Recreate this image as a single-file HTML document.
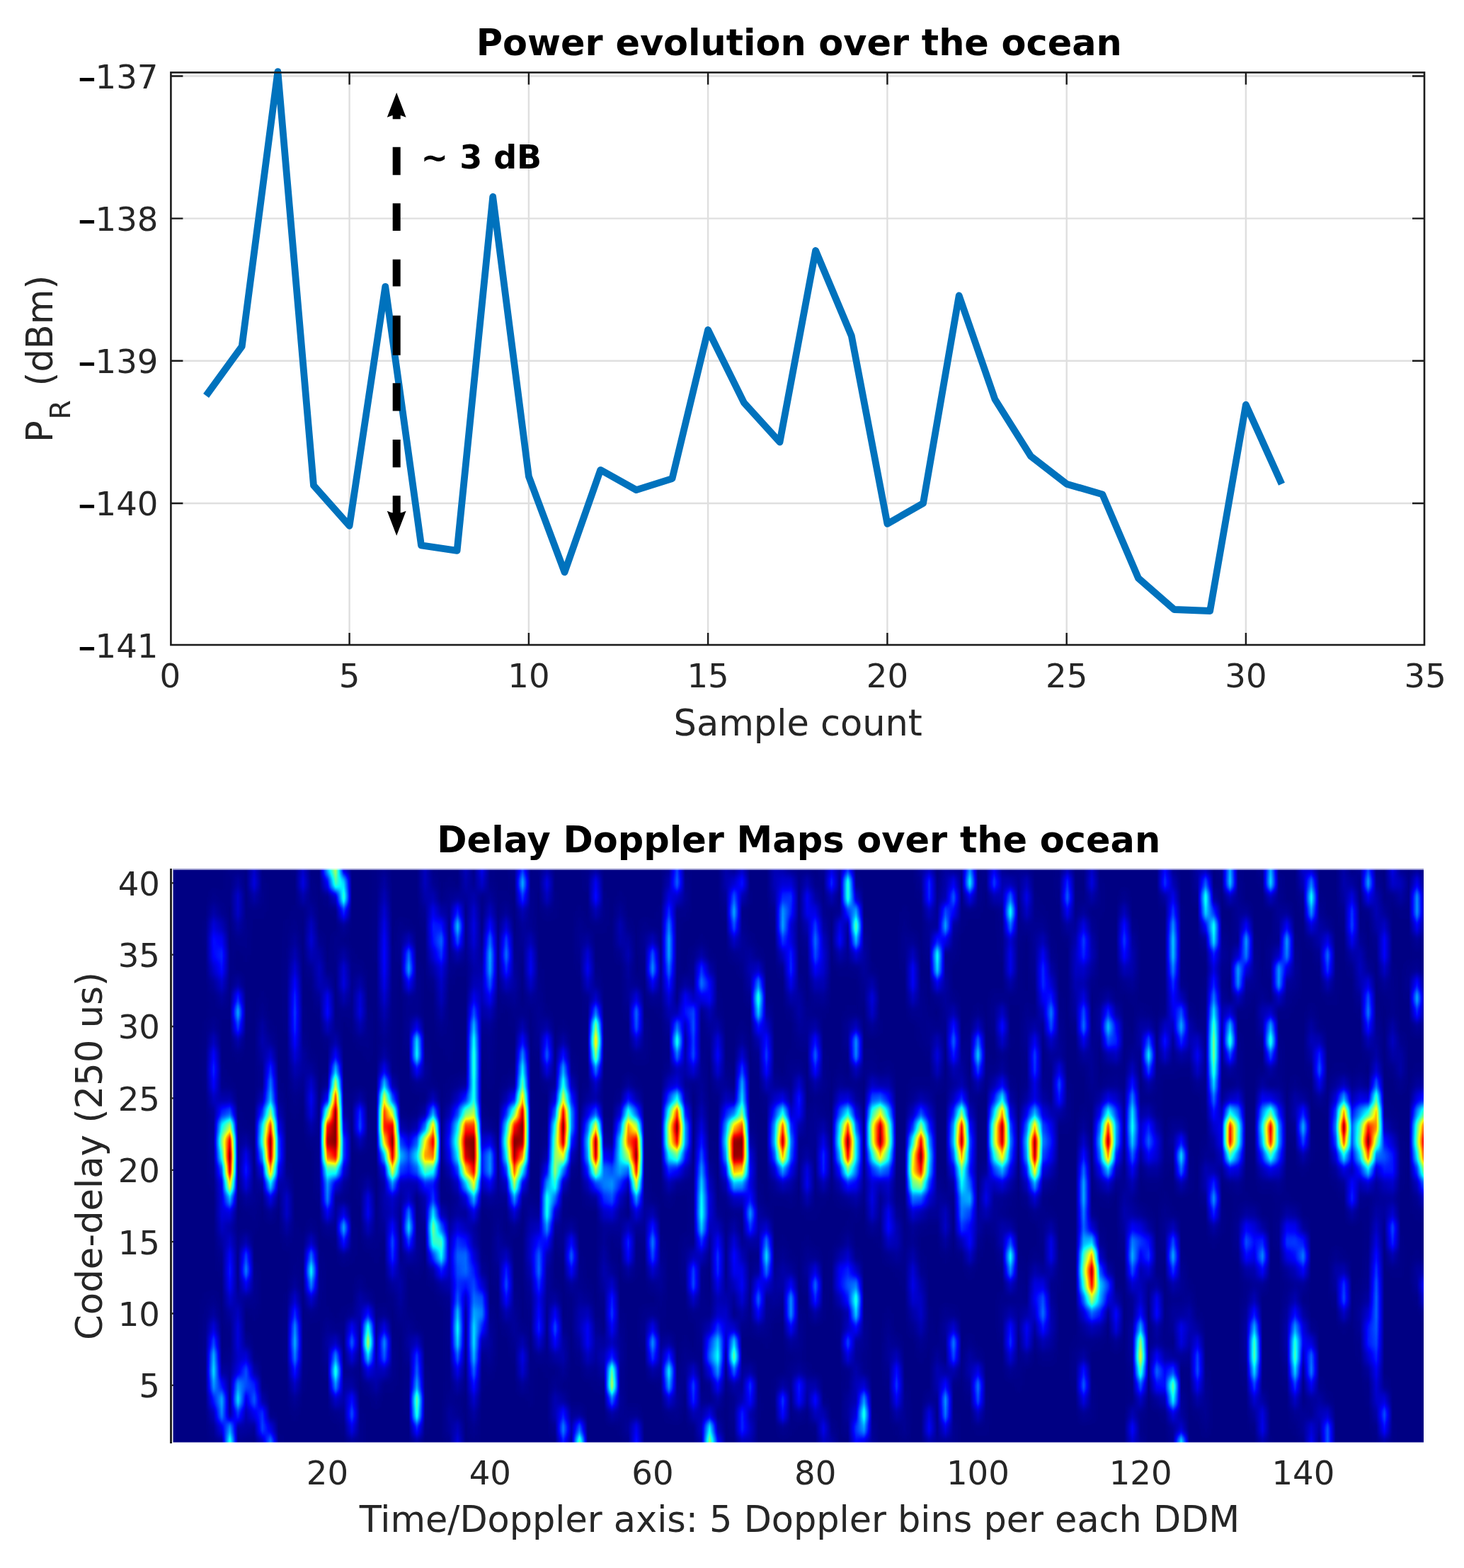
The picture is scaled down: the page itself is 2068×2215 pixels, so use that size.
<!DOCTYPE html>
<html lang="en"><head><meta charset="utf-8"><title>Power evolution and Delay Doppler Maps over the ocean</title>
<style>html,body{margin:0;padding:0;background:#fff}body{width:2068px;height:2215px;overflow:hidden}svg{display:block}</style>
</head><body>
<svg width="2068" height="2215" viewBox="0 0 2068 2215" font-family="'DejaVu Sans','Liberation Sans',sans-serif">
<rect width="2068" height="2215" fill="#fff"/>
<path d="M493.6 102.4 V911.0 M746.9 102.4 V911.0 M1000.1 102.4 V911.0 M1253.4 102.4 V911.0 M1506.7 102.4 V911.0 M1759.9 102.4 V911.0 M241.4 107.5 H2012.0 M241.4 308.6 H2012.0 M241.4 509.8 H2012.0 M241.4 711.0 H2012.0" stroke="#dfdfdf" stroke-width="2.4" fill="none"/>
<path d="M291.1 559.0 L341.7 489.3 L392.4 101.2 L443.0 685.8 L493.6 742.8 L544.3 404.8 L595.0 770.3 L645.6 777.9 L696.2 278.0 L746.9 673.0 L797.5 808.3 L848.2 663.8 L898.8 692.1 L949.5 676.1 L1000.1 466.0 L1050.8 568.7 L1101.5 624.5 L1152.1 354.0 L1202.8 474.5 L1253.4 739.9 L1304.0 711.1 L1354.7 417.5 L1405.4 564.0 L1456.0 644.4 L1506.7 683.7 L1557.3 698.4 L1608.0 816.8 L1658.6 861.0 L1709.2 863.0 L1759.9 571.7 L1810.5 683.7" stroke="#0072bd" stroke-width="9.8" fill="none" stroke-linejoin="round" stroke-linecap="butt"/>
<path d="M493.6 911.0 v-17 M493.6 102.4 v17 M746.9 911.0 v-17 M746.9 102.4 v17 M1000.1 911.0 v-17 M1000.1 102.4 v17 M1253.4 911.0 v-17 M1253.4 102.4 v17 M1506.7 911.0 v-17 M1506.7 102.4 v17 M1759.9 911.0 v-17 M1759.9 102.4 v17 M241.4 107.5 h17 M2012.0 107.5 h-17 M241.4 308.6 h17 M2012.0 308.6 h-17 M241.4 509.8 h17 M2012.0 509.8 h-17 M241.4 711.0 h17 M2012.0 711.0 h-17" stroke="#1c1c1c" stroke-width="2.4" fill="none"/>
<rect x="241.4" y="102.4" width="1770.6" height="808.6" fill="none" stroke="#1c1c1c" stroke-width="2.6"/>
<path d="M560.2 152V168.3 M560.2 207.7V247.2 M560.2 287.3V326 M560.2 366.6V404.6 M560.2 445.7V501.8 M560.2 541.2V580.6 M560.2 620.9V660.3 M560.2 700.3V728" stroke="#000" stroke-width="11" fill="none"/>
<path d="M560.2 130.8 l13.4 35 q-13.4 -7 -26.8 0 z M560.2 756.7 l13.4 -35 q-13.4 7 -26.8 0 z" fill="#000"/>
<text x="594.6" y="238" font-size="46" font-weight="bold" fill="#000" xml:space="preserve">~ 3 dB</text>
<text x="1128.8" y="78.4" font-size="51" font-weight="bold" text-anchor="middle" fill="#000" textLength="912" lengthAdjust="spacingAndGlyphs">Power evolution over the ocean</text>
<text x="223.5" y="124.8" font-size="46.6" text-anchor="end" fill="#262626"><tspan stroke="#000" stroke-width="1.6" fill="#000">–</tspan>137</text>
<text x="223.5" y="325.9" font-size="46.6" text-anchor="end" fill="#262626"><tspan stroke="#000" stroke-width="1.6" fill="#000">–</tspan>138</text>
<text x="223.5" y="527.1" font-size="46.6" text-anchor="end" fill="#262626"><tspan stroke="#000" stroke-width="1.6" fill="#000">–</tspan>139</text>
<text x="223.5" y="728.2" font-size="46.6" text-anchor="end" fill="#262626"><tspan stroke="#000" stroke-width="1.6" fill="#000">–</tspan>140</text>
<text x="223.5" y="929.4" font-size="46.6" text-anchor="end" fill="#262626"><tspan stroke="#000" stroke-width="1.6" fill="#000">–</tspan>141</text>
<text x="240.4" y="971.3" font-size="46.6" text-anchor="middle" fill="#262626">0</text>
<text x="493.6" y="971.3" font-size="46.6" text-anchor="middle" fill="#262626">5</text>
<text x="746.9" y="971.3" font-size="46.6" text-anchor="middle" fill="#262626">10</text>
<text x="1000.1" y="971.3" font-size="46.6" text-anchor="middle" fill="#262626">15</text>
<text x="1253.4" y="971.3" font-size="46.6" text-anchor="middle" fill="#262626">20</text>
<text x="1506.7" y="971.3" font-size="46.6" text-anchor="middle" fill="#262626">25</text>
<text x="1759.9" y="971.3" font-size="46.6" text-anchor="middle" fill="#262626">30</text>
<text x="2013.2" y="971.3" font-size="46.6" text-anchor="middle" fill="#262626">35</text>
<text x="1127.2" y="1038.6" font-size="51" text-anchor="middle" fill="#262626">Sample count</text>
<text transform="translate(74.2 0) rotate(-90)" font-size="51" fill="#262626"><tspan x="-625" y="0">P</tspan><tspan x="-592.5" y="24.9" font-size="39.5">R</tspan><tspan x="-561.7" y="0"> (dBm)</tspan></text>
<text x="1128.3" y="1204" font-size="51" font-weight="bold" text-anchor="middle" fill="#000" textLength="1022" lengthAdjust="spacingAndGlyphs">Delay Doppler Maps over the ocean</text>
<text x="226" y="1974.2" font-size="46.6" text-anchor="end" fill="#262626">5</text>
<text x="226" y="1872.8" font-size="46.6" text-anchor="end" fill="#262626">10</text>
<text x="226" y="1771.5" font-size="46.6" text-anchor="end" fill="#262626">15</text>
<text x="226" y="1670.1" font-size="46.6" text-anchor="end" fill="#262626">20</text>
<text x="226" y="1568.7" font-size="46.6" text-anchor="end" fill="#262626">25</text>
<text x="226" y="1467.3" font-size="46.6" text-anchor="end" fill="#262626">30</text>
<text x="226" y="1366.0" font-size="46.6" text-anchor="end" fill="#262626">35</text>
<text x="226" y="1264.6" font-size="46.6" text-anchor="end" fill="#262626">40</text>
<text x="462.5" y="2097.3" font-size="46.6" text-anchor="middle" fill="#262626">20</text>
<text x="692.3" y="2097.3" font-size="46.6" text-anchor="middle" fill="#262626">40</text>
<text x="922.0" y="2097.3" font-size="46.6" text-anchor="middle" fill="#262626">60</text>
<text x="1151.7" y="2097.3" font-size="46.6" text-anchor="middle" fill="#262626">80</text>
<text x="1381.4" y="2097.3" font-size="46.6" text-anchor="middle" fill="#262626">100</text>
<text x="1611.1" y="2097.3" font-size="46.6" text-anchor="middle" fill="#262626">120</text>
<text x="1840.9" y="2097.3" font-size="46.6" text-anchor="middle" fill="#262626">140</text>
<text x="1129.5" y="2164" font-size="51" text-anchor="middle" fill="#262626" textLength="1243.5" lengthAdjust="spacingAndGlyphs">Time/Doppler axis: 5 Doppler bins per each DDM</text>
<text transform="translate(144.1 1633) rotate(-90)" font-size="51" text-anchor="middle" fill="#262626" textLength="520" lengthAdjust="spacingAndGlyphs">Code-delay (250 us)</text>
<defs>
<clipPath id="hc"><rect x="244.5" y="1227.0" width="1766.5" height="810.5"/></clipPath>
<filter id="jet" filterUnits="userSpaceOnUse" x="204.3" y="1187.0" width="1848.8" height="891.0" color-interpolation-filters="sRGB">
<feGaussianBlur stdDeviation="0 5.88"/>
<feComponentTransfer><feFuncR type="table" tableValues="0 0 0 0 .5 1 1 1 .5"/><feFuncG type="table" tableValues="0 0 .5 1 1 1 .5 0 0"/><feFuncB type="table" tableValues=".515 1 1 1 .5 0 0 0 0"/></feComponentTransfer>
</filter>
<linearGradient id="r0" gradientUnits="userSpaceOnUse" x1="244.3" x2="2013.1" y1="0" y2="0"><stop offset="0" stop-color="#000000"/><stop offset=".026" stop-color="#000000"/><stop offset=".0325" stop-color="#010101"/><stop offset=".039" stop-color="#040404"/><stop offset=".0455" stop-color="#6a6a6a"/><stop offset=".0519" stop-color="#040404"/><stop offset=".0584" stop-color="#020202"/><stop offset=".0649" stop-color="#010101"/><stop offset=".0714" stop-color="#0e0e0e"/><stop offset=".0779" stop-color="#414141"/><stop offset=".0844" stop-color="#020202"/><stop offset=".0909" stop-color="#000000"/><stop offset=".1364" stop-color="#000000"/><stop offset=".1429" stop-color="#040404"/><stop offset=".1494" stop-color="#020202"/><stop offset=".1558" stop-color="#000000"/><stop offset=".1883" stop-color="#000000"/><stop offset=".1948" stop-color="#060606"/><stop offset=".2013" stop-color="#000000"/><stop offset=".2143" stop-color="#000000"/><stop offset=".2208" stop-color="#020202"/><stop offset=".2273" stop-color="#171717"/><stop offset=".2338" stop-color="#000000"/><stop offset=".2403" stop-color="#010101"/><stop offset=".2468" stop-color="#000000"/><stop offset=".3052" stop-color="#000000"/><stop offset=".3117" stop-color="#252525"/><stop offset=".3182" stop-color="#050505"/><stop offset=".3247" stop-color="#797979"/><stop offset=".3312" stop-color="#010101"/><stop offset=".3377" stop-color="#000000"/><stop offset=".3571" stop-color="#000000"/><stop offset=".3636" stop-color="#020202"/><stop offset=".3701" stop-color="#252525"/><stop offset=".3766" stop-color="#000000"/><stop offset=".4156" stop-color="#000000"/><stop offset=".4221" stop-color="#090909"/><stop offset=".4286" stop-color="#858585"/><stop offset=".4351" stop-color="#232323"/><stop offset=".4416" stop-color="#000000"/><stop offset=".4481" stop-color="#000000"/><stop offset=".4545" stop-color="#0c0c0c"/><stop offset=".461" stop-color="#0b0b0b"/><stop offset=".4675" stop-color="#000000"/><stop offset=".513" stop-color="#000000"/><stop offset=".5195" stop-color="#0f0f0f"/><stop offset=".526" stop-color="#090909"/><stop offset=".5325" stop-color="#000000"/><stop offset=".539" stop-color="#000000"/><stop offset=".5455" stop-color="#202020"/><stop offset=".5519" stop-color="#161616"/><stop offset=".5584" stop-color="#060606"/><stop offset=".5649" stop-color="#000000"/><stop offset=".5779" stop-color="#000000"/><stop offset=".5844" stop-color="#010101"/><stop offset=".5909" stop-color="#000000"/><stop offset=".5974" stop-color="#000000"/><stop offset=".6039" stop-color="#090909"/><stop offset=".6104" stop-color="#050505"/><stop offset=".6169" stop-color="#040404"/><stop offset=".6234" stop-color="#030303"/><stop offset=".6299" stop-color="#000000"/><stop offset=".7597" stop-color="#000000"/><stop offset=".7662" stop-color="#141414"/><stop offset=".7727" stop-color="#050505"/><stop offset=".7792" stop-color="#000000"/><stop offset=".7922" stop-color="#000000"/><stop offset=".7987" stop-color="#040404"/><stop offset=".8052" stop-color="#5c5c5c"/><stop offset=".8117" stop-color="#010101"/><stop offset=".8182" stop-color="#000000"/><stop offset=".8636" stop-color="#000000"/><stop offset=".8701" stop-color="#0a0a0a"/><stop offset=".8766" stop-color="#010101"/><stop offset=".8831" stop-color="#000000"/><stop offset=".8961" stop-color="#000000"/><stop offset=".9026" stop-color="#020202"/><stop offset=".9091" stop-color="#1d1d1d"/><stop offset=".9156" stop-color="#020202"/><stop offset=".9221" stop-color="#363636"/><stop offset=".9286" stop-color="#010101"/><stop offset=".9351" stop-color="#000000"/><stop offset=".9545" stop-color="#000000"/><stop offset=".961" stop-color="#010101"/><stop offset=".9675" stop-color="#070707"/><stop offset=".974" stop-color="#010101"/><stop offset=".9805" stop-color="#000000"/><stop offset="1" stop-color="#000000"/></linearGradient>
<linearGradient id="r1" gradientUnits="userSpaceOnUse" x1="244.3" x2="2013.1" y1="0" y2="0"><stop offset="0" stop-color="#000000"/><stop offset=".026" stop-color="#000000"/><stop offset=".0325" stop-color="#040404"/><stop offset=".039" stop-color="#1a1a1a"/><stop offset=".0455" stop-color="#474747"/><stop offset=".0519" stop-color="#080808"/><stop offset=".0584" stop-color="#070707"/><stop offset=".0649" stop-color="#050505"/><stop offset=".0714" stop-color="#313131"/><stop offset=".0779" stop-color="#191919"/><stop offset=".0844" stop-color="#000000"/><stop offset=".1299" stop-color="#000000"/><stop offset=".1364" stop-color="#010101"/><stop offset=".1429" stop-color="#1a1a1a"/><stop offset=".1494" stop-color="#030303"/><stop offset=".1558" stop-color="#000000"/><stop offset=".1883" stop-color="#000000"/><stop offset=".1948" stop-color="#272727"/><stop offset=".2013" stop-color="#010101"/><stop offset=".2078" stop-color="#000000"/><stop offset=".2143" stop-color="#000000"/><stop offset=".2208" stop-color="#060606"/><stop offset=".2273" stop-color="#0f0f0f"/><stop offset=".2338" stop-color="#000000"/><stop offset=".2403" stop-color="#030303"/><stop offset=".2468" stop-color="#000000"/><stop offset=".2987" stop-color="#000000"/><stop offset=".3052" stop-color="#040404"/><stop offset=".3117" stop-color="#414141"/><stop offset=".3182" stop-color="#0b0b0b"/><stop offset=".3247" stop-color="#383838"/><stop offset=".3312" stop-color="#000000"/><stop offset=".3506" stop-color="#000000"/><stop offset=".3571" stop-color="#010101"/><stop offset=".3636" stop-color="#060606"/><stop offset=".3701" stop-color="#1d1d1d"/><stop offset=".3766" stop-color="#000000"/><stop offset=".4091" stop-color="#000000"/><stop offset=".4156" stop-color="#010101"/><stop offset=".4221" stop-color="#101010"/><stop offset=".4286" stop-color="#5e5e5e"/><stop offset=".4351" stop-color="#0b0b0b"/><stop offset=".4416" stop-color="#000000"/><stop offset=".4481" stop-color="#020202"/><stop offset=".4545" stop-color="#292929"/><stop offset=".461" stop-color="#111111"/><stop offset=".4675" stop-color="#000000"/><stop offset=".4805" stop-color="#000000"/><stop offset=".487" stop-color="#030303"/><stop offset=".4935" stop-color="#010101"/><stop offset=".5" stop-color="#000000"/><stop offset=".5065" stop-color="#000000"/><stop offset=".513" stop-color="#010101"/><stop offset=".5195" stop-color="#1b1b1b"/><stop offset=".526" stop-color="#030303"/><stop offset=".5325" stop-color="#000000"/><stop offset=".539" stop-color="#030303"/><stop offset=".5455" stop-color="#2e2e2e"/><stop offset=".5519" stop-color="#484848"/><stop offset=".5584" stop-color="#040404"/><stop offset=".5649" stop-color="#000000"/><stop offset=".5714" stop-color="#000000"/><stop offset=".5779" stop-color="#010101"/><stop offset=".5844" stop-color="#040404"/><stop offset=".5909" stop-color="#000000"/><stop offset=".5974" stop-color="#000000"/><stop offset=".6039" stop-color="#1f1f1f"/><stop offset=".6104" stop-color="#030303"/><stop offset=".6169" stop-color="#191919"/><stop offset=".6234" stop-color="#030303"/><stop offset=".6299" stop-color="#000000"/><stop offset=".6364" stop-color="#000000"/><stop offset=".6429" stop-color="#010101"/><stop offset=".6494" stop-color="#010101"/><stop offset=".6558" stop-color="#000000"/><stop offset=".7597" stop-color="#000000"/><stop offset=".7662" stop-color="#202020"/><stop offset=".7727" stop-color="#020202"/><stop offset=".7792" stop-color="#000000"/><stop offset=".7922" stop-color="#000000"/><stop offset=".7987" stop-color="#060606"/><stop offset=".8052" stop-color="#131313"/><stop offset=".8117" stop-color="#000000"/><stop offset=".8182" stop-color="#000000"/><stop offset=".8247" stop-color="#020202"/><stop offset=".8312" stop-color="#000000"/><stop offset=".8571" stop-color="#000000"/><stop offset=".8636" stop-color="#010101"/><stop offset=".8701" stop-color="#1b1b1b"/><stop offset=".8766" stop-color="#000000"/><stop offset=".8896" stop-color="#000000"/><stop offset=".8961" stop-color="#010101"/><stop offset=".9026" stop-color="#060606"/><stop offset=".9091" stop-color="#151515"/><stop offset=".9156" stop-color="#080808"/><stop offset=".9221" stop-color="#353535"/><stop offset=".9286" stop-color="#000000"/><stop offset=".9545" stop-color="#000000"/><stop offset=".961" stop-color="#020202"/><stop offset=".9675" stop-color="#232323"/><stop offset=".974" stop-color="#010101"/><stop offset=".9805" stop-color="#000000"/><stop offset="1" stop-color="#000000"/></linearGradient>
<linearGradient id="r2" gradientUnits="userSpaceOnUse" x1="244.3" x2="2013.1" y1="0" y2="0"><stop offset="0" stop-color="#000000"/><stop offset=".026" stop-color="#000000"/><stop offset=".0325" stop-color="#0e0e0e"/><stop offset=".039" stop-color="#424242"/><stop offset=".0455" stop-color="#070707"/><stop offset=".0519" stop-color="#2c2c2c"/><stop offset=".0584" stop-color="#0c0c0c"/><stop offset=".0649" stop-color="#1b1b1b"/><stop offset=".0714" stop-color="#2c2c2c"/><stop offset=".0779" stop-color="#010101"/><stop offset=".0844" stop-color="#000000"/><stop offset=".0909" stop-color="#000000"/><stop offset=".0974" stop-color="#010101"/><stop offset=".1039" stop-color="#000000"/><stop offset=".1234" stop-color="#000000"/><stop offset=".1299" stop-color="#020202"/><stop offset=".1364" stop-color="#040404"/><stop offset=".1429" stop-color="#333333"/><stop offset=".1494" stop-color="#010101"/><stop offset=".1558" stop-color="#000000"/><stop offset=".1818" stop-color="#000000"/><stop offset=".1883" stop-color="#010101"/><stop offset=".1948" stop-color="#6a6a6a"/><stop offset=".2013" stop-color="#020202"/><stop offset=".2078" stop-color="#000000"/><stop offset=".2143" stop-color="#000000"/><stop offset=".2208" stop-color="#070707"/><stop offset=".2273" stop-color="#040404"/><stop offset=".2338" stop-color="#000000"/><stop offset=".2403" stop-color="#080808"/><stop offset=".2468" stop-color="#000000"/><stop offset=".2987" stop-color="#000000"/><stop offset=".3052" stop-color="#0d0d0d"/><stop offset=".3117" stop-color="#252525"/><stop offset=".3182" stop-color="#050505"/><stop offset=".3247" stop-color="#050505"/><stop offset=".3312" stop-color="#000000"/><stop offset=".3442" stop-color="#000000"/><stop offset=".3506" stop-color="#080808"/><stop offset=".3571" stop-color="#040404"/><stop offset=".3636" stop-color="#030303"/><stop offset=".3701" stop-color="#030303"/><stop offset=".3766" stop-color="#000000"/><stop offset=".3896" stop-color="#000000"/><stop offset=".3961" stop-color="#020202"/><stop offset=".4026" stop-color="#030303"/><stop offset=".4091" stop-color="#000000"/><stop offset=".4156" stop-color="#0c0c0c"/><stop offset=".4221" stop-color="#0a0a0a"/><stop offset=".4286" stop-color="#171717"/><stop offset=".4351" stop-color="#020202"/><stop offset=".4416" stop-color="#000000"/><stop offset=".4481" stop-color="#040404"/><stop offset=".4545" stop-color="#282828"/><stop offset=".461" stop-color="#0b0b0b"/><stop offset=".4675" stop-color="#010101"/><stop offset=".474" stop-color="#000000"/><stop offset=".4805" stop-color="#000000"/><stop offset=".487" stop-color="#222222"/><stop offset=".4935" stop-color="#010101"/><stop offset=".5" stop-color="#040404"/><stop offset=".5065" stop-color="#010101"/><stop offset=".513" stop-color="#0f0f0f"/><stop offset=".5195" stop-color="#0c0c0c"/><stop offset=".526" stop-color="#000000"/><stop offset=".5325" stop-color="#000000"/><stop offset=".539" stop-color="#070707"/><stop offset=".5455" stop-color="#181818"/><stop offset=".5519" stop-color="#696969"/><stop offset=".5584" stop-color="#010101"/><stop offset=".5649" stop-color="#000000"/><stop offset=".5714" stop-color="#000000"/><stop offset=".5779" stop-color="#090909"/><stop offset=".5844" stop-color="#040404"/><stop offset=".5909" stop-color="#000000"/><stop offset=".5974" stop-color="#000000"/><stop offset=".6039" stop-color="#181818"/><stop offset=".6104" stop-color="#010101"/><stop offset=".6169" stop-color="#3e3e3e"/><stop offset=".6234" stop-color="#010101"/><stop offset=".6299" stop-color="#000000"/><stop offset=".6364" stop-color="#000000"/><stop offset=".6429" stop-color="#0e0e0e"/><stop offset=".6494" stop-color="#010101"/><stop offset=".6558" stop-color="#000000"/><stop offset=".7208" stop-color="#000000"/><stop offset=".7273" stop-color="#040404"/><stop offset=".7338" stop-color="#020202"/><stop offset=".7403" stop-color="#000000"/><stop offset=".7597" stop-color="#000000"/><stop offset=".7662" stop-color="#0c0c0c"/><stop offset=".7727" stop-color="#030303"/><stop offset=".7792" stop-color="#000000"/><stop offset=".7857" stop-color="#000000"/><stop offset=".7922" stop-color="#020202"/><stop offset=".7987" stop-color="#181818"/><stop offset=".8052" stop-color="#070707"/><stop offset=".8117" stop-color="#000000"/><stop offset=".8182" stop-color="#010101"/><stop offset=".8247" stop-color="#040404"/><stop offset=".8312" stop-color="#000000"/><stop offset=".8571" stop-color="#000000"/><stop offset=".8636" stop-color="#070707"/><stop offset=".8701" stop-color="#181818"/><stop offset=".8766" stop-color="#000000"/><stop offset=".8896" stop-color="#000000"/><stop offset=".8961" stop-color="#040404"/><stop offset=".9026" stop-color="#050505"/><stop offset=".9091" stop-color="#040404"/><stop offset=".9156" stop-color="#0e0e0e"/><stop offset=".9221" stop-color="#121212"/><stop offset=".9286" stop-color="#000000"/><stop offset=".9545" stop-color="#000000"/><stop offset=".961" stop-color="#090909"/><stop offset=".9675" stop-color="#343434"/><stop offset=".974" stop-color="#000000"/><stop offset="1" stop-color="#000000"/></linearGradient>
<linearGradient id="r3" gradientUnits="userSpaceOnUse" x1="244.3" x2="2013.1" y1="0" y2="0"><stop offset="0" stop-color="#000000"/><stop offset=".026" stop-color="#000000"/><stop offset=".0325" stop-color="#262626"/><stop offset=".039" stop-color="#4b4b4b"/><stop offset=".0455" stop-color="#020202"/><stop offset=".0519" stop-color="#5a5a5a"/><stop offset=".0584" stop-color="#191919"/><stop offset=".0649" stop-color="#373737"/><stop offset=".0714" stop-color="#0a0a0a"/><stop offset=".0779" stop-color="#000000"/><stop offset=".0909" stop-color="#000000"/><stop offset=".0974" stop-color="#050505"/><stop offset=".1039" stop-color="#000000"/><stop offset=".1234" stop-color="#000000"/><stop offset=".1299" stop-color="#111111"/><stop offset=".1364" stop-color="#0a0a0a"/><stop offset=".1429" stop-color="#222222"/><stop offset=".1494" stop-color="#000000"/><stop offset=".1558" stop-color="#000000"/><stop offset=".1623" stop-color="#020202"/><stop offset=".1688" stop-color="#000000"/><stop offset=".1818" stop-color="#000000"/><stop offset=".1883" stop-color="#020202"/><stop offset=".1948" stop-color="#7a7a7a"/><stop offset=".2013" stop-color="#020202"/><stop offset=".2078" stop-color="#000000"/><stop offset=".2143" stop-color="#000000"/><stop offset=".2208" stop-color="#030303"/><stop offset=".2273" stop-color="#020202"/><stop offset=".2338" stop-color="#000000"/><stop offset=".2403" stop-color="#121212"/><stop offset=".2468" stop-color="#000000"/><stop offset=".2792" stop-color="#000000"/><stop offset=".2857" stop-color="#010101"/><stop offset=".2922" stop-color="#000000"/><stop offset=".2987" stop-color="#000000"/><stop offset=".3052" stop-color="#0c0c0c"/><stop offset=".3117" stop-color="#070707"/><stop offset=".3182" stop-color="#000000"/><stop offset=".3442" stop-color="#000000"/><stop offset=".3506" stop-color="#393939"/><stop offset=".3571" stop-color="#060606"/><stop offset=".3636" stop-color="#000000"/><stop offset=".3896" stop-color="#000000"/><stop offset=".3961" stop-color="#141414"/><stop offset=".4026" stop-color="#060606"/><stop offset=".4091" stop-color="#000000"/><stop offset=".4156" stop-color="#292929"/><stop offset=".4221" stop-color="#030303"/><stop offset=".4286" stop-color="#020202"/><stop offset=".4351" stop-color="#080808"/><stop offset=".4416" stop-color="#000000"/><stop offset=".4481" stop-color="#030303"/><stop offset=".4545" stop-color="#0c0c0c"/><stop offset=".461" stop-color="#222222"/><stop offset=".4675" stop-color="#010101"/><stop offset=".474" stop-color="#000000"/><stop offset=".4805" stop-color="#010101"/><stop offset=".487" stop-color="#2d2d2d"/><stop offset=".4935" stop-color="#010101"/><stop offset=".5" stop-color="#222222"/><stop offset=".5065" stop-color="#070707"/><stop offset=".513" stop-color="#232323"/><stop offset=".5195" stop-color="#010101"/><stop offset=".526" stop-color="#000000"/><stop offset=".5325" stop-color="#000000"/><stop offset=".539" stop-color="#060606"/><stop offset=".5455" stop-color="#0d0d0d"/><stop offset=".5519" stop-color="#454545"/><stop offset=".5584" stop-color="#000000"/><stop offset=".5714" stop-color="#000000"/><stop offset=".5779" stop-color="#1d1d1d"/><stop offset=".5844" stop-color="#030303"/><stop offset=".5909" stop-color="#000000"/><stop offset=".5974" stop-color="#000000"/><stop offset=".6039" stop-color="#040404"/><stop offset=".6104" stop-color="#040404"/><stop offset=".6169" stop-color="#454545"/><stop offset=".6234" stop-color="#000000"/><stop offset=".6299" stop-color="#000000"/><stop offset=".6364" stop-color="#010101"/><stop offset=".6429" stop-color="#333333"/><stop offset=".6494" stop-color="#010101"/><stop offset=".6558" stop-color="#000000"/><stop offset=".7208" stop-color="#000000"/><stop offset=".7273" stop-color="#191919"/><stop offset=".7338" stop-color="#020202"/><stop offset=".7403" stop-color="#000000"/><stop offset=".7597" stop-color="#000000"/><stop offset=".7662" stop-color="#010101"/><stop offset=".7727" stop-color="#101010"/><stop offset=".7792" stop-color="#000000"/><stop offset=".7857" stop-color="#060606"/><stop offset=".7922" stop-color="#0d0d0d"/><stop offset=".7987" stop-color="#606060"/><stop offset=".8052" stop-color="#050505"/><stop offset=".8117" stop-color="#000000"/><stop offset=".8182" stop-color="#090909"/><stop offset=".8247" stop-color="#040404"/><stop offset=".8312" stop-color="#000000"/><stop offset=".8571" stop-color="#000000"/><stop offset=".8636" stop-color="#141414"/><stop offset=".8701" stop-color="#080808"/><stop offset=".8766" stop-color="#000000"/><stop offset=".8896" stop-color="#000000"/><stop offset=".8961" stop-color="#111111"/><stop offset=".9026" stop-color="#010101"/><stop offset=".9091" stop-color="#060606"/><stop offset=".9156" stop-color="#080808"/><stop offset=".9221" stop-color="#020202"/><stop offset=".9286" stop-color="#000000"/><stop offset=".9481" stop-color="#000000"/><stop offset=".9545" stop-color="#010101"/><stop offset=".961" stop-color="#121212"/><stop offset=".9675" stop-color="#161616"/><stop offset=".974" stop-color="#000000"/><stop offset="1" stop-color="#000000"/></linearGradient>
<linearGradient id="r4" gradientUnits="userSpaceOnUse" x1="244.3" x2="2013.1" y1="0" y2="0"><stop offset="0" stop-color="#000000"/><stop offset=".0195" stop-color="#000000"/><stop offset=".026" stop-color="#010101"/><stop offset=".0325" stop-color="#464646"/><stop offset=".039" stop-color="#232323"/><stop offset=".0455" stop-color="#040404"/><stop offset=".0519" stop-color="#454545"/><stop offset=".0584" stop-color="#333333"/><stop offset=".0649" stop-color="#282828"/><stop offset=".0714" stop-color="#010101"/><stop offset=".0779" stop-color="#000000"/><stop offset=".0909" stop-color="#000000"/><stop offset=".0974" stop-color="#101010"/><stop offset=".1039" stop-color="#010101"/><stop offset=".1104" stop-color="#000000"/><stop offset=".1234" stop-color="#000000"/><stop offset=".1299" stop-color="#444444"/><stop offset=".1364" stop-color="#080808"/><stop offset=".1429" stop-color="#080808"/><stop offset=".1494" stop-color="#000000"/><stop offset=".1558" stop-color="#030303"/><stop offset=".1623" stop-color="#090909"/><stop offset=".1688" stop-color="#010101"/><stop offset=".1753" stop-color="#010101"/><stop offset=".1818" stop-color="#000000"/><stop offset=".1883" stop-color="#020202"/><stop offset=".1948" stop-color="#484848"/><stop offset=".2013" stop-color="#020202"/><stop offset=".2078" stop-color="#000000"/><stop offset=".2143" stop-color="#000000"/><stop offset=".2208" stop-color="#010101"/><stop offset=".2273" stop-color="#090909"/><stop offset=".2338" stop-color="#010101"/><stop offset=".2403" stop-color="#232323"/><stop offset=".2468" stop-color="#010101"/><stop offset=".2532" stop-color="#000000"/><stop offset=".2727" stop-color="#000000"/><stop offset=".2792" stop-color="#050505"/><stop offset=".2857" stop-color="#010101"/><stop offset=".2922" stop-color="#000000"/><stop offset=".2987" stop-color="#000000"/><stop offset=".3052" stop-color="#040404"/><stop offset=".3117" stop-color="#010101"/><stop offset=".3182" stop-color="#000000"/><stop offset=".3312" stop-color="#000000"/><stop offset=".3377" stop-color="#010101"/><stop offset=".3442" stop-color="#020202"/><stop offset=".3506" stop-color="#8d8d8d"/><stop offset=".3571" stop-color="#040404"/><stop offset=".3636" stop-color="#000000"/><stop offset=".3831" stop-color="#000000"/><stop offset=".3896" stop-color="#010101"/><stop offset=".3961" stop-color="#494949"/><stop offset=".4026" stop-color="#040404"/><stop offset=".4091" stop-color="#020202"/><stop offset=".4156" stop-color="#2f2f2f"/><stop offset=".4221" stop-color="#000000"/><stop offset=".4286" stop-color="#030303"/><stop offset=".4351" stop-color="#1f1f1f"/><stop offset=".4416" stop-color="#010101"/><stop offset=".4481" stop-color="#090909"/><stop offset=".4545" stop-color="#060606"/><stop offset=".461" stop-color="#2c2c2c"/><stop offset=".4675" stop-color="#000000"/><stop offset=".474" stop-color="#000000"/><stop offset=".4805" stop-color="#010101"/><stop offset=".487" stop-color="#080808"/><stop offset=".4935" stop-color="#040404"/><stop offset=".5" stop-color="#262626"/><stop offset=".5065" stop-color="#0a0a0a"/><stop offset=".513" stop-color="#0a0a0a"/><stop offset=".5195" stop-color="#000000"/><stop offset=".5325" stop-color="#000000"/><stop offset=".539" stop-color="#020202"/><stop offset=".5455" stop-color="#0e0e0e"/><stop offset=".5519" stop-color="#141414"/><stop offset=".5584" stop-color="#000000"/><stop offset=".5649" stop-color="#000000"/><stop offset=".5714" stop-color="#010101"/><stop offset=".5779" stop-color="#2d2d2d"/><stop offset=".5844" stop-color="#010101"/><stop offset=".5909" stop-color="#000000"/><stop offset=".6039" stop-color="#000000"/><stop offset=".6104" stop-color="#0b0b0b"/><stop offset=".6169" stop-color="#222222"/><stop offset=".6234" stop-color="#010101"/><stop offset=".6299" stop-color="#000000"/><stop offset=".6364" stop-color="#050505"/><stop offset=".6429" stop-color="#3d3d3d"/><stop offset=".6494" stop-color="#000000"/><stop offset=".6688" stop-color="#000000"/><stop offset=".6753" stop-color="#010101"/><stop offset=".6818" stop-color="#000000"/><stop offset=".7143" stop-color="#000000"/><stop offset=".7208" stop-color="#010101"/><stop offset=".7273" stop-color="#373737"/><stop offset=".7338" stop-color="#010101"/><stop offset=".7403" stop-color="#000000"/><stop offset=".7597" stop-color="#000000"/><stop offset=".7662" stop-color="#010101"/><stop offset=".7727" stop-color="#363636"/><stop offset=".7792" stop-color="#010101"/><stop offset=".7857" stop-color="#212121"/><stop offset=".7922" stop-color="#242424"/><stop offset=".7987" stop-color="#7a7a7a"/><stop offset=".8052" stop-color="#010101"/><stop offset=".8117" stop-color="#000000"/><stop offset=".8182" stop-color="#1d1d1d"/><stop offset=".8247" stop-color="#030303"/><stop offset=".8312" stop-color="#000000"/><stop offset=".8506" stop-color="#000000"/><stop offset=".8571" stop-color="#010101"/><stop offset=".8636" stop-color="#2f2f2f"/><stop offset=".8701" stop-color="#010101"/><stop offset=".8766" stop-color="#000000"/><stop offset=".8831" stop-color="#000000"/><stop offset=".8896" stop-color="#010101"/><stop offset=".8961" stop-color="#2d2d2d"/><stop offset=".9026" stop-color="#010101"/><stop offset=".9091" stop-color="#1d1d1d"/><stop offset=".9156" stop-color="#020202"/><stop offset=".9221" stop-color="#000000"/><stop offset=".9481" stop-color="#000000"/><stop offset=".9545" stop-color="#010101"/><stop offset=".961" stop-color="#151515"/><stop offset=".9675" stop-color="#030303"/><stop offset=".974" stop-color="#000000"/><stop offset="1" stop-color="#000000"/></linearGradient>
<linearGradient id="r5" gradientUnits="userSpaceOnUse" x1="244.3" x2="2013.1" y1="0" y2="0"><stop offset="0" stop-color="#000000"/><stop offset=".0195" stop-color="#000000"/><stop offset=".026" stop-color="#010101"/><stop offset=".0325" stop-color="#585858"/><stop offset=".039" stop-color="#070707"/><stop offset=".0455" stop-color="#050505"/><stop offset=".0519" stop-color="#191919"/><stop offset=".0584" stop-color="#333333"/><stop offset=".0649" stop-color="#0a0a0a"/><stop offset=".0714" stop-color="#000000"/><stop offset=".0909" stop-color="#000000"/><stop offset=".0974" stop-color="#252525"/><stop offset=".1039" stop-color="#010101"/><stop offset=".1104" stop-color="#000000"/><stop offset=".1169" stop-color="#000000"/><stop offset=".1234" stop-color="#020202"/><stop offset=".1299" stop-color="#6b6b6b"/><stop offset=".1364" stop-color="#030303"/><stop offset=".1429" stop-color="#030303"/><stop offset=".1494" stop-color="#010101"/><stop offset=".1558" stop-color="#171717"/><stop offset=".1623" stop-color="#0e0e0e"/><stop offset=".1688" stop-color="#0e0e0e"/><stop offset=".1753" stop-color="#030303"/><stop offset=".1818" stop-color="#000000"/><stop offset=".1883" stop-color="#010101"/><stop offset=".1948" stop-color="#373737"/><stop offset=".2013" stop-color="#010101"/><stop offset=".2078" stop-color="#000000"/><stop offset=".2143" stop-color="#000000"/><stop offset=".2208" stop-color="#010101"/><stop offset=".2273" stop-color="#1a1a1a"/><stop offset=".2338" stop-color="#010101"/><stop offset=".2403" stop-color="#383838"/><stop offset=".2468" stop-color="#010101"/><stop offset=".2532" stop-color="#020202"/><stop offset=".2597" stop-color="#000000"/><stop offset=".2727" stop-color="#000000"/><stop offset=".2792" stop-color="#131313"/><stop offset=".2857" stop-color="#010101"/><stop offset=".2922" stop-color="#000000"/><stop offset=".2987" stop-color="#010101"/><stop offset=".3052" stop-color="#010101"/><stop offset=".3117" stop-color="#050505"/><stop offset=".3182" stop-color="#000000"/><stop offset=".3247" stop-color="#000000"/><stop offset=".3312" stop-color="#040404"/><stop offset=".3377" stop-color="#030303"/><stop offset=".3442" stop-color="#090909"/><stop offset=".3506" stop-color="#797979"/><stop offset=".3571" stop-color="#040404"/><stop offset=".3636" stop-color="#000000"/><stop offset=".3766" stop-color="#000000"/><stop offset=".3831" stop-color="#080808"/><stop offset=".3896" stop-color="#050505"/><stop offset=".3961" stop-color="#5e5e5e"/><stop offset=".4026" stop-color="#010101"/><stop offset=".4091" stop-color="#040404"/><stop offset=".4156" stop-color="#121212"/><stop offset=".4221" stop-color="#000000"/><stop offset=".4286" stop-color="#181818"/><stop offset=".4351" stop-color="#464646"/><stop offset=".4416" stop-color="#020202"/><stop offset=".4481" stop-color="#383838"/><stop offset=".4545" stop-color="#060606"/><stop offset=".461" stop-color="#080808"/><stop offset=".4675" stop-color="#000000"/><stop offset=".487" stop-color="#000000"/><stop offset=".4935" stop-color="#030303"/><stop offset=".5" stop-color="#060606"/><stop offset=".5065" stop-color="#020202"/><stop offset=".513" stop-color="#000000"/><stop offset=".5325" stop-color="#000000"/><stop offset=".539" stop-color="#020202"/><stop offset=".5455" stop-color="#0a0a0a"/><stop offset=".5519" stop-color="#030303"/><stop offset=".5584" stop-color="#000000"/><stop offset=".5649" stop-color="#000000"/><stop offset=".5714" stop-color="#030303"/><stop offset=".5779" stop-color="#232323"/><stop offset=".5844" stop-color="#000000"/><stop offset=".6039" stop-color="#000000"/><stop offset=".6104" stop-color="#0c0c0c"/><stop offset=".6169" stop-color="#080808"/><stop offset=".6234" stop-color="#0a0a0a"/><stop offset=".6299" stop-color="#010101"/><stop offset=".6364" stop-color="#0b0b0b"/><stop offset=".6429" stop-color="#191919"/><stop offset=".6494" stop-color="#000000"/><stop offset=".6623" stop-color="#000000"/><stop offset=".6688" stop-color="#040404"/><stop offset=".6753" stop-color="#020202"/><stop offset=".6818" stop-color="#000000"/><stop offset=".7143" stop-color="#000000"/><stop offset=".7208" stop-color="#030303"/><stop offset=".7273" stop-color="#252525"/><stop offset=".7338" stop-color="#000000"/><stop offset=".7597" stop-color="#000000"/><stop offset=".7662" stop-color="#030303"/><stop offset=".7727" stop-color="#727272"/><stop offset=".7792" stop-color="#030303"/><stop offset=".7857" stop-color="#3a3a3a"/><stop offset=".7922" stop-color="#202020"/><stop offset=".7987" stop-color="#303030"/><stop offset=".8052" stop-color="#000000"/><stop offset=".8117" stop-color="#010101"/><stop offset=".8182" stop-color="#333333"/><stop offset=".8247" stop-color="#010101"/><stop offset=".8312" stop-color="#000000"/><stop offset=".8506" stop-color="#000000"/><stop offset=".8571" stop-color="#030303"/><stop offset=".8636" stop-color="#575757"/><stop offset=".8701" stop-color="#010101"/><stop offset=".8766" stop-color="#000000"/><stop offset=".8831" stop-color="#000000"/><stop offset=".8896" stop-color="#030303"/><stop offset=".8961" stop-color="#555555"/><stop offset=".9026" stop-color="#040404"/><stop offset=".9091" stop-color="#3f3f3f"/><stop offset=".9156" stop-color="#000000"/><stop offset=".9481" stop-color="#000000"/><stop offset=".9545" stop-color="#060606"/><stop offset=".961" stop-color="#1c1c1c"/><stop offset=".9675" stop-color="#000000"/><stop offset="1" stop-color="#000000"/></linearGradient>
<linearGradient id="r6" gradientUnits="userSpaceOnUse" x1="244.3" x2="2013.1" y1="0" y2="0"><stop offset="0" stop-color="#000000"/><stop offset=".0195" stop-color="#000000"/><stop offset=".026" stop-color="#020202"/><stop offset=".0325" stop-color="#4e4e4e"/><stop offset=".039" stop-color="#010101"/><stop offset=".0455" stop-color="#030303"/><stop offset=".0519" stop-color="#121212"/><stop offset=".0584" stop-color="#161616"/><stop offset=".0649" stop-color="#010101"/><stop offset=".0714" stop-color="#000000"/><stop offset=".0844" stop-color="#000000"/><stop offset=".0909" stop-color="#010101"/><stop offset=".0974" stop-color="#3f3f3f"/><stop offset=".1039" stop-color="#020202"/><stop offset=".1104" stop-color="#000000"/><stop offset=".1169" stop-color="#000000"/><stop offset=".1234" stop-color="#060606"/><stop offset=".1299" stop-color="#434343"/><stop offset=".1364" stop-color="#000000"/><stop offset=".1429" stop-color="#171717"/><stop offset=".1494" stop-color="#020202"/><stop offset=".1558" stop-color="#555555"/><stop offset=".1623" stop-color="#0b0b0b"/><stop offset=".1688" stop-color="#373737"/><stop offset=".1753" stop-color="#030303"/><stop offset=".1818" stop-color="#000000"/><stop offset=".1883" stop-color="#050505"/><stop offset=".1948" stop-color="#2e2e2e"/><stop offset=".2013" stop-color="#000000"/><stop offset=".2143" stop-color="#000000"/><stop offset=".2208" stop-color="#010101"/><stop offset=".2273" stop-color="#373737"/><stop offset=".2338" stop-color="#020202"/><stop offset=".2403" stop-color="#4d4d4d"/><stop offset=".2468" stop-color="#030303"/><stop offset=".2532" stop-color="#050505"/><stop offset=".2597" stop-color="#000000"/><stop offset=".2662" stop-color="#000000"/><stop offset=".2727" stop-color="#010101"/><stop offset=".2792" stop-color="#191919"/><stop offset=".2857" stop-color="#000000"/><stop offset=".2922" stop-color="#030303"/><stop offset=".2987" stop-color="#020202"/><stop offset=".3052" stop-color="#080808"/><stop offset=".3117" stop-color="#0a0a0a"/><stop offset=".3182" stop-color="#000000"/><stop offset=".3247" stop-color="#020202"/><stop offset=".3312" stop-color="#0f0f0f"/><stop offset=".3377" stop-color="#070707"/><stop offset=".3442" stop-color="#0e0e0e"/><stop offset=".3506" stop-color="#262626"/><stop offset=".3571" stop-color="#060606"/><stop offset=".3636" stop-color="#000000"/><stop offset=".3766" stop-color="#000000"/><stop offset=".3831" stop-color="#2e2e2e"/><stop offset=".3896" stop-color="#080808"/><stop offset=".3961" stop-color="#2a2a2a"/><stop offset=".4026" stop-color="#000000"/><stop offset=".4091" stop-color="#030303"/><stop offset=".4156" stop-color="#020202"/><stop offset=".4221" stop-color="#010101"/><stop offset=".4286" stop-color="#393939"/><stop offset=".4351" stop-color="#626262"/><stop offset=".4416" stop-color="#060606"/><stop offset=".4481" stop-color="#7b7b7b"/><stop offset=".4545" stop-color="#020202"/><stop offset=".461" stop-color="#000000"/><stop offset=".487" stop-color="#000000"/><stop offset=".4935" stop-color="#010101"/><stop offset=".5" stop-color="#020202"/><stop offset=".5065" stop-color="#000000"/><stop offset=".5325" stop-color="#000000"/><stop offset=".539" stop-color="#171717"/><stop offset=".5455" stop-color="#060606"/><stop offset=".5519" stop-color="#020202"/><stop offset=".5584" stop-color="#000000"/><stop offset=".5649" stop-color="#000000"/><stop offset=".5714" stop-color="#060606"/><stop offset=".5779" stop-color="#0e0e0e"/><stop offset=".5844" stop-color="#000000"/><stop offset=".5909" stop-color="#000000"/><stop offset=".5974" stop-color="#010101"/><stop offset=".6039" stop-color="#000000"/><stop offset=".6104" stop-color="#060606"/><stop offset=".6169" stop-color="#010101"/><stop offset=".6234" stop-color="#323232"/><stop offset=".6299" stop-color="#010101"/><stop offset=".6364" stop-color="#080808"/><stop offset=".6429" stop-color="#030303"/><stop offset=".6494" stop-color="#000000"/><stop offset=".6623" stop-color="#000000"/><stop offset=".6688" stop-color="#151515"/><stop offset=".6753" stop-color="#020202"/><stop offset=".6818" stop-color="#050505"/><stop offset=".6883" stop-color="#000000"/><stop offset=".6948" stop-color="#020202"/><stop offset=".7013" stop-color="#020202"/><stop offset=".7078" stop-color="#000000"/><stop offset=".7143" stop-color="#000000"/><stop offset=".7208" stop-color="#030303"/><stop offset=".7273" stop-color="#080808"/><stop offset=".7338" stop-color="#000000"/><stop offset=".7597" stop-color="#000000"/><stop offset=".7662" stop-color="#070707"/><stop offset=".7727" stop-color="#9b9b9b"/><stop offset=".7792" stop-color="#040404"/><stop offset=".7857" stop-color="#1f1f1f"/><stop offset=".7922" stop-color="#0a0a0a"/><stop offset=".7987" stop-color="#060606"/><stop offset=".8052" stop-color="#050505"/><stop offset=".8117" stop-color="#040404"/><stop offset=".8182" stop-color="#303030"/><stop offset=".8247" stop-color="#000000"/><stop offset=".8506" stop-color="#000000"/><stop offset=".8571" stop-color="#060606"/><stop offset=".8636" stop-color="#767676"/><stop offset=".8701" stop-color="#010101"/><stop offset=".8766" stop-color="#000000"/><stop offset=".8831" stop-color="#000000"/><stop offset=".8896" stop-color="#070707"/><stop offset=".8961" stop-color="#727272"/><stop offset=".9026" stop-color="#101010"/><stop offset=".9091" stop-color="#3a3a3a"/><stop offset=".9156" stop-color="#000000"/><stop offset=".9416" stop-color="#000000"/><stop offset=".9481" stop-color="#010101"/><stop offset=".9545" stop-color="#141414"/><stop offset=".961" stop-color="#292929"/><stop offset=".9675" stop-color="#000000"/><stop offset="1" stop-color="#000000"/></linearGradient>
<linearGradient id="r7" gradientUnits="userSpaceOnUse" x1="244.3" x2="2013.1" y1="0" y2="0"><stop offset="0" stop-color="#000000"/><stop offset=".0195" stop-color="#000000"/><stop offset=".026" stop-color="#030303"/><stop offset=".0325" stop-color="#313131"/><stop offset=".039" stop-color="#000000"/><stop offset=".0455" stop-color="#010101"/><stop offset=".0519" stop-color="#171717"/><stop offset=".0584" stop-color="#040404"/><stop offset=".0649" stop-color="#000000"/><stop offset=".0844" stop-color="#000000"/><stop offset=".0909" stop-color="#010101"/><stop offset=".0974" stop-color="#4c4c4c"/><stop offset=".1039" stop-color="#010101"/><stop offset=".1104" stop-color="#000000"/><stop offset=".1169" stop-color="#000000"/><stop offset=".1234" stop-color="#080808"/><stop offset=".1299" stop-color="#101010"/><stop offset=".1364" stop-color="#010101"/><stop offset=".1429" stop-color="#383838"/><stop offset=".1494" stop-color="#030303"/><stop offset=".1558" stop-color="#8e8e8e"/><stop offset=".1623" stop-color="#050505"/><stop offset=".1688" stop-color="#434343"/><stop offset=".1753" stop-color="#010101"/><stop offset=".1818" stop-color="#000000"/><stop offset=".1883" stop-color="#080808"/><stop offset=".1948" stop-color="#0f0f0f"/><stop offset=".2013" stop-color="#000000"/><stop offset=".2143" stop-color="#000000"/><stop offset=".2208" stop-color="#020202"/><stop offset=".2273" stop-color="#565656"/><stop offset=".2338" stop-color="#030303"/><stop offset=".2403" stop-color="#585858"/><stop offset=".2468" stop-color="#0c0c0c"/><stop offset=".2532" stop-color="#070707"/><stop offset=".2597" stop-color="#000000"/><stop offset=".2662" stop-color="#000000"/><stop offset=".2727" stop-color="#040404"/><stop offset=".2792" stop-color="#0b0b0b"/><stop offset=".2857" stop-color="#000000"/><stop offset=".2922" stop-color="#141414"/><stop offset=".2987" stop-color="#020202"/><stop offset=".3052" stop-color="#202020"/><stop offset=".3117" stop-color="#080808"/><stop offset=".3182" stop-color="#000000"/><stop offset=".3247" stop-color="#070707"/><stop offset=".3312" stop-color="#1e1e1e"/><stop offset=".3377" stop-color="#080808"/><stop offset=".3442" stop-color="#070707"/><stop offset=".3506" stop-color="#0f0f0f"/><stop offset=".3571" stop-color="#050505"/><stop offset=".3636" stop-color="#000000"/><stop offset=".3701" stop-color="#000000"/><stop offset=".3766" stop-color="#020202"/><stop offset=".3831" stop-color="#454545"/><stop offset=".3896" stop-color="#050505"/><stop offset=".3961" stop-color="#070707"/><stop offset=".4026" stop-color="#000000"/><stop offset=".4091" stop-color="#010101"/><stop offset=".4156" stop-color="#000000"/><stop offset=".4221" stop-color="#030303"/><stop offset=".4286" stop-color="#2d2d2d"/><stop offset=".4351" stop-color="#545454"/><stop offset=".4416" stop-color="#111111"/><stop offset=".4481" stop-color="#555555"/><stop offset=".4545" stop-color="#000000"/><stop offset=".4675" stop-color="#000000"/><stop offset=".474" stop-color="#010101"/><stop offset=".4805" stop-color="#000000"/><stop offset=".487" stop-color="#000000"/><stop offset=".4935" stop-color="#060606"/><stop offset=".5" stop-color="#040404"/><stop offset=".5065" stop-color="#000000"/><stop offset=".526" stop-color="#000000"/><stop offset=".5325" stop-color="#010101"/><stop offset=".539" stop-color="#313131"/><stop offset=".5455" stop-color="#070707"/><stop offset=".5519" stop-color="#040404"/><stop offset=".5584" stop-color="#000000"/><stop offset=".5649" stop-color="#000000"/><stop offset=".5714" stop-color="#050505"/><stop offset=".5779" stop-color="#030303"/><stop offset=".5844" stop-color="#000000"/><stop offset=".5909" stop-color="#000000"/><stop offset=".5974" stop-color="#040404"/><stop offset=".6039" stop-color="#010101"/><stop offset=".6104" stop-color="#010101"/><stop offset=".6169" stop-color="#040404"/><stop offset=".6234" stop-color="#3f3f3f"/><stop offset=".6299" stop-color="#000000"/><stop offset=".6364" stop-color="#020202"/><stop offset=".6429" stop-color="#000000"/><stop offset=".6558" stop-color="#000000"/><stop offset=".6623" stop-color="#010101"/><stop offset=".6688" stop-color="#2c2c2c"/><stop offset=".6753" stop-color="#010101"/><stop offset=".6818" stop-color="#191919"/><stop offset=".6883" stop-color="#020202"/><stop offset=".6948" stop-color="#0c0c0c"/><stop offset=".7013" stop-color="#070707"/><stop offset=".7078" stop-color="#000000"/><stop offset=".7143" stop-color="#000000"/><stop offset=".7208" stop-color="#010101"/><stop offset=".7273" stop-color="#020202"/><stop offset=".7338" stop-color="#020202"/><stop offset=".7403" stop-color="#010101"/><stop offset=".7468" stop-color="#000000"/><stop offset=".7532" stop-color="#040404"/><stop offset=".7597" stop-color="#000000"/><stop offset=".7662" stop-color="#090909"/><stop offset=".7727" stop-color="#878787"/><stop offset=".7792" stop-color="#020202"/><stop offset=".7857" stop-color="#060606"/><stop offset=".7922" stop-color="#020202"/><stop offset=".7987" stop-color="#010101"/><stop offset=".8052" stop-color="#181818"/><stop offset=".8117" stop-color="#0a0a0a"/><stop offset=".8182" stop-color="#181818"/><stop offset=".8247" stop-color="#000000"/><stop offset=".8506" stop-color="#000000"/><stop offset=".8571" stop-color="#080808"/><stop offset=".8636" stop-color="#727272"/><stop offset=".8701" stop-color="#000000"/><stop offset=".8831" stop-color="#000000"/><stop offset=".8896" stop-color="#0a0a0a"/><stop offset=".8961" stop-color="#6c6c6c"/><stop offset=".9026" stop-color="#1e1e1e"/><stop offset=".9091" stop-color="#161616"/><stop offset=".9156" stop-color="#000000"/><stop offset=".9416" stop-color="#000000"/><stop offset=".9481" stop-color="#020202"/><stop offset=".9545" stop-color="#262626"/><stop offset=".961" stop-color="#323232"/><stop offset=".9675" stop-color="#000000"/><stop offset="1" stop-color="#000000"/></linearGradient>
<linearGradient id="r8" gradientUnits="userSpaceOnUse" x1="244.3" x2="2013.1" y1="0" y2="0"><stop offset="0" stop-color="#000000"/><stop offset=".0195" stop-color="#000000"/><stop offset=".026" stop-color="#030303"/><stop offset=".0325" stop-color="#171717"/><stop offset=".039" stop-color="#000000"/><stop offset=".0455" stop-color="#020202"/><stop offset=".0519" stop-color="#171717"/><stop offset=".0584" stop-color="#000000"/><stop offset=".0844" stop-color="#000000"/><stop offset=".0909" stop-color="#010101"/><stop offset=".0974" stop-color="#434343"/><stop offset=".1039" stop-color="#010101"/><stop offset=".1104" stop-color="#000000"/><stop offset=".1169" stop-color="#000000"/><stop offset=".1234" stop-color="#040404"/><stop offset=".1299" stop-color="#020202"/><stop offset=".1364" stop-color="#020202"/><stop offset=".1429" stop-color="#1e1e1e"/><stop offset=".1494" stop-color="#070707"/><stop offset=".1558" stop-color="#696969"/><stop offset=".1623" stop-color="#040404"/><stop offset=".1688" stop-color="#191919"/><stop offset=".1753" stop-color="#000000"/><stop offset=".1818" stop-color="#010101"/><stop offset=".1883" stop-color="#040404"/><stop offset=".1948" stop-color="#010101"/><stop offset=".2013" stop-color="#000000"/><stop offset=".2143" stop-color="#000000"/><stop offset=".2208" stop-color="#020202"/><stop offset=".2273" stop-color="#616161"/><stop offset=".2338" stop-color="#030303"/><stop offset=".2403" stop-color="#575757"/><stop offset=".2468" stop-color="#272727"/><stop offset=".2532" stop-color="#050505"/><stop offset=".2597" stop-color="#000000"/><stop offset=".2662" stop-color="#020202"/><stop offset=".2727" stop-color="#060606"/><stop offset=".2792" stop-color="#020202"/><stop offset=".2857" stop-color="#010101"/><stop offset=".2922" stop-color="#282828"/><stop offset=".2987" stop-color="#020202"/><stop offset=".3052" stop-color="#323232"/><stop offset=".3117" stop-color="#020202"/><stop offset=".3182" stop-color="#000000"/><stop offset=".3247" stop-color="#0d0d0d"/><stop offset=".3312" stop-color="#1e1e1e"/><stop offset=".3377" stop-color="#040404"/><stop offset=".3442" stop-color="#010101"/><stop offset=".3506" stop-color="#1e1e1e"/><stop offset=".3571" stop-color="#030303"/><stop offset=".3636" stop-color="#000000"/><stop offset=".3701" stop-color="#000000"/><stop offset=".3766" stop-color="#040404"/><stop offset=".3831" stop-color="#1b1b1b"/><stop offset=".3896" stop-color="#010101"/><stop offset=".3961" stop-color="#000000"/><stop offset=".4156" stop-color="#000000"/><stop offset=".4221" stop-color="#040404"/><stop offset=".4286" stop-color="#0d0d0d"/><stop offset=".4351" stop-color="#2d2d2d"/><stop offset=".4416" stop-color="#171717"/><stop offset=".4481" stop-color="#121212"/><stop offset=".4545" stop-color="#020202"/><stop offset=".461" stop-color="#010101"/><stop offset=".4675" stop-color="#050505"/><stop offset=".474" stop-color="#030303"/><stop offset=".4805" stop-color="#000000"/><stop offset=".487" stop-color="#000000"/><stop offset=".4935" stop-color="#1e1e1e"/><stop offset=".5" stop-color="#040404"/><stop offset=".5065" stop-color="#000000"/><stop offset=".526" stop-color="#000000"/><stop offset=".5325" stop-color="#010101"/><stop offset=".539" stop-color="#101010"/><stop offset=".5455" stop-color="#202020"/><stop offset=".5519" stop-color="#040404"/><stop offset=".5584" stop-color="#000000"/><stop offset=".5649" stop-color="#000000"/><stop offset=".5714" stop-color="#030303"/><stop offset=".5779" stop-color="#000000"/><stop offset=".5844" stop-color="#000000"/><stop offset=".5909" stop-color="#030303"/><stop offset=".5974" stop-color="#0b0b0b"/><stop offset=".6039" stop-color="#010101"/><stop offset=".6104" stop-color="#000000"/><stop offset=".6169" stop-color="#070707"/><stop offset=".6234" stop-color="#141414"/><stop offset=".6299" stop-color="#000000"/><stop offset=".6558" stop-color="#000000"/><stop offset=".6623" stop-color="#030303"/><stop offset=".6688" stop-color="#232323"/><stop offset=".6753" stop-color="#040404"/><stop offset=".6818" stop-color="#1e1e1e"/><stop offset=".6883" stop-color="#070707"/><stop offset=".6948" stop-color="#252525"/><stop offset=".7013" stop-color="#0c0c0c"/><stop offset=".7078" stop-color="#000000"/><stop offset=".7208" stop-color="#000000"/><stop offset=".7273" stop-color="#060606"/><stop offset=".7338" stop-color="#0d0d0d"/><stop offset=".7403" stop-color="#090909"/><stop offset=".7468" stop-color="#000000"/><stop offset=".7532" stop-color="#181818"/><stop offset=".7597" stop-color="#000000"/><stop offset=".7662" stop-color="#080808"/><stop offset=".7727" stop-color="#4c4c4c"/><stop offset=".7792" stop-color="#000000"/><stop offset=".7857" stop-color="#090909"/><stop offset=".7922" stop-color="#010101"/><stop offset=".7987" stop-color="#050505"/><stop offset=".8052" stop-color="#1b1b1b"/><stop offset=".8117" stop-color="#0d0d0d"/><stop offset=".8182" stop-color="#070707"/><stop offset=".8247" stop-color="#000000"/><stop offset=".8506" stop-color="#000000"/><stop offset=".8571" stop-color="#080808"/><stop offset=".8636" stop-color="#4d4d4d"/><stop offset=".8701" stop-color="#000000"/><stop offset=".8831" stop-color="#000000"/><stop offset=".8896" stop-color="#0a0a0a"/><stop offset=".8961" stop-color="#484848"/><stop offset=".9026" stop-color="#181818"/><stop offset=".9091" stop-color="#030303"/><stop offset=".9156" stop-color="#000000"/><stop offset=".9286" stop-color="#000000"/><stop offset=".9351" stop-color="#010101"/><stop offset=".9416" stop-color="#000000"/><stop offset=".9481" stop-color="#050505"/><stop offset=".9545" stop-color="#252525"/><stop offset=".961" stop-color="#363636"/><stop offset=".9675" stop-color="#000000"/><stop offset="1" stop-color="#000000"/></linearGradient>
<linearGradient id="r9" gradientUnits="userSpaceOnUse" x1="244.3" x2="2013.1" y1="0" y2="0"><stop offset="0" stop-color="#000000"/><stop offset=".0195" stop-color="#000000"/><stop offset=".026" stop-color="#020202"/><stop offset=".0325" stop-color="#070707"/><stop offset=".039" stop-color="#000000"/><stop offset=".0455" stop-color="#070707"/><stop offset=".0519" stop-color="#101010"/><stop offset=".0584" stop-color="#000000"/><stop offset=".0649" stop-color="#010101"/><stop offset=".0714" stop-color="#000000"/><stop offset=".0844" stop-color="#000000"/><stop offset=".0909" stop-color="#010101"/><stop offset=".0974" stop-color="#2a2a2a"/><stop offset=".1039" stop-color="#000000"/><stop offset=".1104" stop-color="#020202"/><stop offset=".1169" stop-color="#010101"/><stop offset=".1234" stop-color="#010101"/><stop offset=".1299" stop-color="#000000"/><stop offset=".1364" stop-color="#010101"/><stop offset=".1429" stop-color="#030303"/><stop offset=".1494" stop-color="#0b0b0b"/><stop offset=".1558" stop-color="#232323"/><stop offset=".1623" stop-color="#020202"/><stop offset=".1688" stop-color="#030303"/><stop offset=".1753" stop-color="#000000"/><stop offset=".1818" stop-color="#040404"/><stop offset=".1883" stop-color="#010101"/><stop offset=".1948" stop-color="#000000"/><stop offset=".2143" stop-color="#000000"/><stop offset=".2208" stop-color="#020202"/><stop offset=".2273" stop-color="#515151"/><stop offset=".2338" stop-color="#060606"/><stop offset=".2403" stop-color="#4a4a4a"/><stop offset=".2468" stop-color="#404040"/><stop offset=".2532" stop-color="#020202"/><stop offset=".2597" stop-color="#000000"/><stop offset=".2662" stop-color="#0b0b0b"/><stop offset=".2727" stop-color="#050505"/><stop offset=".2792" stop-color="#000000"/><stop offset=".2857" stop-color="#020202"/><stop offset=".2922" stop-color="#212121"/><stop offset=".2987" stop-color="#030303"/><stop offset=".3052" stop-color="#1e1e1e"/><stop offset=".3117" stop-color="#000000"/><stop offset=".3182" stop-color="#010101"/><stop offset=".3247" stop-color="#0b0b0b"/><stop offset=".3312" stop-color="#0f0f0f"/><stop offset=".3377" stop-color="#010101"/><stop offset=".3442" stop-color="#010101"/><stop offset=".3506" stop-color="#2d2d2d"/><stop offset=".3571" stop-color="#010101"/><stop offset=".3636" stop-color="#000000"/><stop offset=".3701" stop-color="#000000"/><stop offset=".3766" stop-color="#020202"/><stop offset=".3831" stop-color="#030303"/><stop offset=".3896" stop-color="#010101"/><stop offset=".3961" stop-color="#000000"/><stop offset=".4091" stop-color="#000000"/><stop offset=".4156" stop-color="#020202"/><stop offset=".4286" stop-color="#020202"/><stop offset=".4351" stop-color="#111111"/><stop offset=".4416" stop-color="#121212"/><stop offset=".4481" stop-color="#020202"/><stop offset=".4545" stop-color="#080808"/><stop offset=".461" stop-color="#020202"/><stop offset=".4675" stop-color="#1f1f1f"/><stop offset=".474" stop-color="#040404"/><stop offset=".4805" stop-color="#020202"/><stop offset=".487" stop-color="#010101"/><stop offset=".4935" stop-color="#444444"/><stop offset=".5" stop-color="#020202"/><stop offset=".5065" stop-color="#000000"/><stop offset=".513" stop-color="#080808"/><stop offset=".5195" stop-color="#010101"/><stop offset=".526" stop-color="#000000"/><stop offset=".5325" stop-color="#020202"/><stop offset=".539" stop-color="#0c0c0c"/><stop offset=".5455" stop-color="#545454"/><stop offset=".5519" stop-color="#020202"/><stop offset=".5584" stop-color="#000000"/><stop offset=".5649" stop-color="#000000"/><stop offset=".5714" stop-color="#010101"/><stop offset=".5779" stop-color="#000000"/><stop offset=".5844" stop-color="#000000"/><stop offset=".5909" stop-color="#090909"/><stop offset=".5974" stop-color="#111111"/><stop offset=".6039" stop-color="#010101"/><stop offset=".6104" stop-color="#000000"/><stop offset=".6169" stop-color="#030303"/><stop offset=".6234" stop-color="#020202"/><stop offset=".6299" stop-color="#000000"/><stop offset=".6558" stop-color="#000000"/><stop offset=".6623" stop-color="#040404"/><stop offset=".6688" stop-color="#0a0a0a"/><stop offset=".6753" stop-color="#050505"/><stop offset=".6818" stop-color="#090909"/><stop offset=".6883" stop-color="#141414"/><stop offset=".6948" stop-color="#3c3c3c"/><stop offset=".7013" stop-color="#0b0b0b"/><stop offset=".7078" stop-color="#000000"/><stop offset=".7208" stop-color="#000000"/><stop offset=".7273" stop-color="#161616"/><stop offset=".7338" stop-color="#373737"/><stop offset=".7403" stop-color="#262626"/><stop offset=".7468" stop-color="#040404"/><stop offset=".7532" stop-color="#212121"/><stop offset=".7597" stop-color="#000000"/><stop offset=".7662" stop-color="#040404"/><stop offset=".7727" stop-color="#212121"/><stop offset=".7792" stop-color="#000000"/><stop offset=".7857" stop-color="#222222"/><stop offset=".7922" stop-color="#010101"/><stop offset=".7987" stop-color="#060606"/><stop offset=".8052" stop-color="#070707"/><stop offset=".8117" stop-color="#0a0a0a"/><stop offset=".8182" stop-color="#010101"/><stop offset=".8247" stop-color="#000000"/><stop offset=".8506" stop-color="#000000"/><stop offset=".8571" stop-color="#060606"/><stop offset=".8636" stop-color="#252525"/><stop offset=".8701" stop-color="#000000"/><stop offset=".8831" stop-color="#000000"/><stop offset=".8896" stop-color="#070707"/><stop offset=".8961" stop-color="#222222"/><stop offset=".9026" stop-color="#080808"/><stop offset=".9091" stop-color="#000000"/><stop offset=".9286" stop-color="#000000"/><stop offset=".9351" stop-color="#101010"/><stop offset=".9416" stop-color="#010101"/><stop offset=".9481" stop-color="#060606"/><stop offset=".9545" stop-color="#151515"/><stop offset=".961" stop-color="#393939"/><stop offset=".9675" stop-color="#000000"/><stop offset=".9935" stop-color="#000000"/><stop offset="1" stop-color="#020202"/></linearGradient>
<linearGradient id="r10" gradientUnits="userSpaceOnUse" x1="244.3" x2="2013.1" y1="0" y2="0"><stop offset="0" stop-color="#000000"/><stop offset=".0195" stop-color="#000000"/><stop offset=".026" stop-color="#010101"/><stop offset=".0325" stop-color="#020202"/><stop offset=".039" stop-color="#000000"/><stop offset=".0455" stop-color="#121212"/><stop offset=".0519" stop-color="#080808"/><stop offset=".0584" stop-color="#040404"/><stop offset=".0649" stop-color="#030303"/><stop offset=".0714" stop-color="#000000"/><stop offset=".0844" stop-color="#000000"/><stop offset=".0909" stop-color="#010101"/><stop offset=".0974" stop-color="#131313"/><stop offset=".1039" stop-color="#000000"/><stop offset=".1104" stop-color="#121212"/><stop offset=".1169" stop-color="#020202"/><stop offset=".1234" stop-color="#000000"/><stop offset=".1429" stop-color="#000000"/><stop offset=".1494" stop-color="#090909"/><stop offset=".1558" stop-color="#050505"/><stop offset=".1623" stop-color="#000000"/><stop offset=".1688" stop-color="#000000"/><stop offset=".1753" stop-color="#010101"/><stop offset=".1818" stop-color="#070707"/><stop offset=".1883" stop-color="#000000"/><stop offset=".2078" stop-color="#000000"/><stop offset=".2143" stop-color="#010101"/><stop offset=".2208" stop-color="#040404"/><stop offset=".2273" stop-color="#363636"/><stop offset=".2338" stop-color="#101010"/><stop offset=".2403" stop-color="#3b3b3b"/><stop offset=".2468" stop-color="#343434"/><stop offset=".2532" stop-color="#000000"/><stop offset=".2597" stop-color="#000000"/><stop offset=".2662" stop-color="#212121"/><stop offset=".2727" stop-color="#030303"/><stop offset=".2792" stop-color="#000000"/><stop offset=".2857" stop-color="#040404"/><stop offset=".2922" stop-color="#1b1b1b"/><stop offset=".2987" stop-color="#050505"/><stop offset=".3052" stop-color="#070707"/><stop offset=".3117" stop-color="#000000"/><stop offset=".3182" stop-color="#010101"/><stop offset=".3247" stop-color="#060606"/><stop offset=".3312" stop-color="#040404"/><stop offset=".3377" stop-color="#000000"/><stop offset=".3442" stop-color="#030303"/><stop offset=".3506" stop-color="#262626"/><stop offset=".3571" stop-color="#000000"/><stop offset=".3831" stop-color="#000000"/><stop offset=".3896" stop-color="#020202"/><stop offset=".3961" stop-color="#000000"/><stop offset=".4091" stop-color="#000000"/><stop offset=".4156" stop-color="#111111"/><stop offset=".4221" stop-color="#020202"/><stop offset=".4286" stop-color="#010101"/><stop offset=".4351" stop-color="#0d0d0d"/><stop offset=".4416" stop-color="#0b0b0b"/><stop offset=".4481" stop-color="#050505"/><stop offset=".4545" stop-color="#151515"/><stop offset=".461" stop-color="#020202"/><stop offset=".4675" stop-color="#383838"/><stop offset=".474" stop-color="#040404"/><stop offset=".4805" stop-color="#060606"/><stop offset=".487" stop-color="#040404"/><stop offset=".4935" stop-color="#444444"/><stop offset=".5" stop-color="#000000"/><stop offset=".5065" stop-color="#000000"/><stop offset=".513" stop-color="#282828"/><stop offset=".5195" stop-color="#010101"/><stop offset=".526" stop-color="#000000"/><stop offset=".5325" stop-color="#0d0d0d"/><stop offset=".539" stop-color="#262626"/><stop offset=".5455" stop-color="#6a6a6a"/><stop offset=".5519" stop-color="#010101"/><stop offset=".5584" stop-color="#000000"/><stop offset=".5844" stop-color="#000000"/><stop offset=".5909" stop-color="#141414"/><stop offset=".5974" stop-color="#101010"/><stop offset=".6039" stop-color="#000000"/><stop offset=".6558" stop-color="#000000"/><stop offset=".6623" stop-color="#020202"/><stop offset=".6688" stop-color="#020202"/><stop offset=".6753" stop-color="#030303"/><stop offset=".6818" stop-color="#020202"/><stop offset=".6883" stop-color="#1e1e1e"/><stop offset=".6948" stop-color="#343434"/><stop offset=".7013" stop-color="#060606"/><stop offset=".7078" stop-color="#000000"/><stop offset=".7208" stop-color="#000000"/><stop offset=".7273" stop-color="#3b3b3b"/><stop offset=".7338" stop-color="#8b8b8b"/><stop offset=".7403" stop-color="#4c4c4c"/><stop offset=".7468" stop-color="#1b1b1b"/><stop offset=".7532" stop-color="#0a0a0a"/><stop offset=".7597" stop-color="#000000"/><stop offset=".7662" stop-color="#050505"/><stop offset=".7727" stop-color="#131313"/><stop offset=".7792" stop-color="#020202"/><stop offset=".7857" stop-color="#1d1d1d"/><stop offset=".7922" stop-color="#000000"/><stop offset=".7987" stop-color="#030303"/><stop offset=".8052" stop-color="#030303"/><stop offset=".8117" stop-color="#040404"/><stop offset=".8182" stop-color="#000000"/><stop offset=".8506" stop-color="#000000"/><stop offset=".8571" stop-color="#030303"/><stop offset=".8636" stop-color="#0d0d0d"/><stop offset=".8701" stop-color="#000000"/><stop offset=".8831" stop-color="#000000"/><stop offset=".8896" stop-color="#040404"/><stop offset=".8961" stop-color="#0c0c0c"/><stop offset=".9026" stop-color="#010101"/><stop offset=".9091" stop-color="#000000"/><stop offset=".9221" stop-color="#000000"/><stop offset=".9286" stop-color="#020202"/><stop offset=".9351" stop-color="#323232"/><stop offset=".9416" stop-color="#010101"/><stop offset=".9481" stop-color="#030303"/><stop offset=".9545" stop-color="#080808"/><stop offset=".961" stop-color="#393939"/><stop offset=".9675" stop-color="#000000"/><stop offset=".987" stop-color="#000000"/><stop offset=".9935" stop-color="#010101"/><stop offset="1" stop-color="#161616"/></linearGradient>
<linearGradient id="r11" gradientUnits="userSpaceOnUse" x1="244.3" x2="2013.1" y1="0" y2="0"><stop offset="0" stop-color="#000000"/><stop offset=".039" stop-color="#000000"/><stop offset=".0455" stop-color="#202020"/><stop offset=".0519" stop-color="#030303"/><stop offset=".0584" stop-color="#1c1c1c"/><stop offset=".0649" stop-color="#040404"/><stop offset=".0714" stop-color="#000000"/><stop offset=".0909" stop-color="#000000"/><stop offset=".0974" stop-color="#060606"/><stop offset=".1039" stop-color="#000000"/><stop offset=".1104" stop-color="#404040"/><stop offset=".1169" stop-color="#030303"/><stop offset=".1234" stop-color="#000000"/><stop offset=".1429" stop-color="#000000"/><stop offset=".1494" stop-color="#030303"/><stop offset=".1558" stop-color="#000000"/><stop offset=".1688" stop-color="#000000"/><stop offset=".1753" stop-color="#060606"/><stop offset=".1818" stop-color="#090909"/><stop offset=".1883" stop-color="#000000"/><stop offset=".2013" stop-color="#000000"/><stop offset=".2078" stop-color="#010101"/><stop offset=".2143" stop-color="#070707"/><stop offset=".2208" stop-color="#0b0b0b"/><stop offset=".2273" stop-color="#2b2b2b"/><stop offset=".2338" stop-color="#252525"/><stop offset=".2403" stop-color="#313131"/><stop offset=".2468" stop-color="#151515"/><stop offset=".2532" stop-color="#000000"/><stop offset=".2597" stop-color="#010101"/><stop offset=".2662" stop-color="#323232"/><stop offset=".2727" stop-color="#010101"/><stop offset=".2792" stop-color="#000000"/><stop offset=".2857" stop-color="#070707"/><stop offset=".2922" stop-color="#2b2b2b"/><stop offset=".2987" stop-color="#060606"/><stop offset=".3052" stop-color="#010101"/><stop offset=".3117" stop-color="#000000"/><stop offset=".3182" stop-color="#060606"/><stop offset=".3247" stop-color="#030303"/><stop offset=".3312" stop-color="#010101"/><stop offset=".3377" stop-color="#000000"/><stop offset=".3442" stop-color="#080808"/><stop offset=".3506" stop-color="#121212"/><stop offset=".3571" stop-color="#000000"/><stop offset=".3766" stop-color="#000000"/><stop offset=".3831" stop-color="#030303"/><stop offset=".3896" stop-color="#050505"/><stop offset=".3961" stop-color="#000000"/><stop offset=".4026" stop-color="#000000"/><stop offset=".4091" stop-color="#010101"/><stop offset=".4156" stop-color="#323232"/><stop offset=".4221" stop-color="#020202"/><stop offset=".4286" stop-color="#000000"/><stop offset=".4351" stop-color="#1a1a1a"/><stop offset=".4416" stop-color="#050505"/><stop offset=".4481" stop-color="#0f0f0f"/><stop offset=".4545" stop-color="#1e1e1e"/><stop offset=".461" stop-color="#030303"/><stop offset=".4675" stop-color="#202020"/><stop offset=".474" stop-color="#141414"/><stop offset=".4805" stop-color="#070707"/><stop offset=".487" stop-color="#090909"/><stop offset=".4935" stop-color="#1e1e1e"/><stop offset=".5" stop-color="#000000"/><stop offset=".5065" stop-color="#030303"/><stop offset=".513" stop-color="#3a3a3a"/><stop offset=".5195" stop-color="#000000"/><stop offset=".526" stop-color="#010101"/><stop offset=".5325" stop-color="#202020"/><stop offset=".539" stop-color="#353535"/><stop offset=".5455" stop-color="#3f3f3f"/><stop offset=".5519" stop-color="#000000"/><stop offset=".5779" stop-color="#000000"/><stop offset=".5844" stop-color="#010101"/><stop offset=".5909" stop-color="#1a1a1a"/><stop offset=".5974" stop-color="#0a0a0a"/><stop offset=".6039" stop-color="#000000"/><stop offset=".6623" stop-color="#000000"/><stop offset=".6688" stop-color="#0f0f0f"/><stop offset=".6753" stop-color="#030303"/><stop offset=".6818" stop-color="#010101"/><stop offset=".6883" stop-color="#181818"/><stop offset=".6948" stop-color="#181818"/><stop offset=".7013" stop-color="#030303"/><stop offset=".7078" stop-color="#010101"/><stop offset=".7143" stop-color="#000000"/><stop offset=".7208" stop-color="#000000"/><stop offset=".7273" stop-color="#6a6a6a"/><stop offset=".7338" stop-color="#dfdfdf"/><stop offset=".7403" stop-color="#555555"/><stop offset=".7468" stop-color="#303030"/><stop offset=".7532" stop-color="#010101"/><stop offset=".7597" stop-color="#000000"/><stop offset=".7662" stop-color="#131313"/><stop offset=".7727" stop-color="#0e0e0e"/><stop offset=".7792" stop-color="#040404"/><stop offset=".7857" stop-color="#060606"/><stop offset=".7922" stop-color="#000000"/><stop offset=".7987" stop-color="#0a0a0a"/><stop offset=".8052" stop-color="#050505"/><stop offset=".8117" stop-color="#010101"/><stop offset=".8182" stop-color="#000000"/><stop offset=".8506" stop-color="#000000"/><stop offset=".8571" stop-color="#020202"/><stop offset=".8636" stop-color="#050505"/><stop offset=".8701" stop-color="#040404"/><stop offset=".8766" stop-color="#000000"/><stop offset=".8831" stop-color="#000000"/><stop offset=".8896" stop-color="#020202"/><stop offset=".8961" stop-color="#050505"/><stop offset=".9026" stop-color="#050505"/><stop offset=".9091" stop-color="#000000"/><stop offset=".9221" stop-color="#000000"/><stop offset=".9286" stop-color="#070707"/><stop offset=".9351" stop-color="#2d2d2d"/><stop offset=".9416" stop-color="#000000"/><stop offset=".9481" stop-color="#010101"/><stop offset=".9545" stop-color="#040404"/><stop offset=".961" stop-color="#353535"/><stop offset=".9675" stop-color="#000000"/><stop offset=".987" stop-color="#000000"/><stop offset=".9935" stop-color="#060606"/><stop offset="1" stop-color="#252525"/></linearGradient>
<linearGradient id="r12" gradientUnits="userSpaceOnUse" x1="244.3" x2="2013.1" y1="0" y2="0"><stop offset="0" stop-color="#000000"/><stop offset=".0325" stop-color="#000000"/><stop offset=".039" stop-color="#010101"/><stop offset=".0455" stop-color="#262626"/><stop offset=".0519" stop-color="#010101"/><stop offset=".0584" stop-color="#404040"/><stop offset=".0649" stop-color="#020202"/><stop offset=".0714" stop-color="#000000"/><stop offset=".0909" stop-color="#000000"/><stop offset=".0974" stop-color="#020202"/><stop offset=".1039" stop-color="#010101"/><stop offset=".1104" stop-color="#606060"/><stop offset=".1169" stop-color="#020202"/><stop offset=".1234" stop-color="#000000"/><stop offset=".1688" stop-color="#000000"/><stop offset=".1753" stop-color="#161616"/><stop offset=".1818" stop-color="#060606"/><stop offset=".1883" stop-color="#010101"/><stop offset=".1948" stop-color="#020202"/><stop offset=".2013" stop-color="#000000"/><stop offset=".2078" stop-color="#080808"/><stop offset=".2143" stop-color="#262626"/><stop offset=".2208" stop-color="#111111"/><stop offset=".2273" stop-color="#323232"/><stop offset=".2338" stop-color="#3a3a3a"/><stop offset=".2403" stop-color="#262626"/><stop offset=".2468" stop-color="#050505"/><stop offset=".2532" stop-color="#000000"/><stop offset=".2597" stop-color="#030303"/><stop offset=".2662" stop-color="#282828"/><stop offset=".2727" stop-color="#000000"/><stop offset=".2792" stop-color="#000000"/><stop offset=".2857" stop-color="#0d0d0d"/><stop offset=".2922" stop-color="#3b3b3b"/><stop offset=".2987" stop-color="#070707"/><stop offset=".3052" stop-color="#000000"/><stop offset=".3117" stop-color="#000000"/><stop offset=".3182" stop-color="#1f1f1f"/><stop offset=".3247" stop-color="#020202"/><stop offset=".3312" stop-color="#000000"/><stop offset=".3377" stop-color="#000000"/><stop offset=".3442" stop-color="#0b0b0b"/><stop offset=".3506" stop-color="#050505"/><stop offset=".3571" stop-color="#000000"/><stop offset=".3636" stop-color="#070707"/><stop offset=".3701" stop-color="#010101"/><stop offset=".3766" stop-color="#000000"/><stop offset=".3831" stop-color="#131313"/><stop offset=".3896" stop-color="#060606"/><stop offset=".3961" stop-color="#000000"/><stop offset=".4026" stop-color="#000000"/><stop offset=".4091" stop-color="#030303"/><stop offset=".4156" stop-color="#2f2f2f"/><stop offset=".4221" stop-color="#030303"/><stop offset=".4286" stop-color="#000000"/><stop offset=".4351" stop-color="#2a2a2a"/><stop offset=".4416" stop-color="#020202"/><stop offset=".4481" stop-color="#1d1d1d"/><stop offset=".4545" stop-color="#1a1a1a"/><stop offset=".461" stop-color="#020202"/><stop offset=".4675" stop-color="#060606"/><stop offset=".474" stop-color="#3d3d3d"/><stop offset=".4805" stop-color="#040404"/><stop offset=".487" stop-color="#090909"/><stop offset=".4935" stop-color="#060606"/><stop offset=".5" stop-color="#000000"/><stop offset=".5065" stop-color="#070707"/><stop offset=".513" stop-color="#181818"/><stop offset=".5195" stop-color="#000000"/><stop offset=".526" stop-color="#010101"/><stop offset=".5325" stop-color="#1e1e1e"/><stop offset=".539" stop-color="#282828"/><stop offset=".5455" stop-color="#121212"/><stop offset=".5519" stop-color="#000000"/><stop offset=".5714" stop-color="#000000"/><stop offset=".5779" stop-color="#010101"/><stop offset=".5844" stop-color="#020202"/><stop offset=".5909" stop-color="#151515"/><stop offset=".5974" stop-color="#030303"/><stop offset=".6039" stop-color="#000000"/><stop offset=".6299" stop-color="#000000"/><stop offset=".6364" stop-color="#020202"/><stop offset=".6429" stop-color="#000000"/><stop offset=".6558" stop-color="#000000"/><stop offset=".6623" stop-color="#010101"/><stop offset=".6688" stop-color="#434343"/><stop offset=".6753" stop-color="#020202"/><stop offset=".6818" stop-color="#010101"/><stop offset=".6883" stop-color="#0a0a0a"/><stop offset=".6948" stop-color="#060606"/><stop offset=".7013" stop-color="#0a0a0a"/><stop offset=".7078" stop-color="#010101"/><stop offset=".7143" stop-color="#000000"/><stop offset=".7208" stop-color="#000000"/><stop offset=".7273" stop-color="#828282"/><stop offset=".7338" stop-color="#f4f4f4"/><stop offset=".7403" stop-color="#363636"/><stop offset=".7468" stop-color="#090909"/><stop offset=".7532" stop-color="#000000"/><stop offset=".7597" stop-color="#000000"/><stop offset=".7662" stop-color="#333333"/><stop offset=".7727" stop-color="#0c0c0c"/><stop offset=".7792" stop-color="#131313"/><stop offset=".7857" stop-color="#010101"/><stop offset=".7922" stop-color="#000000"/><stop offset=".7987" stop-color="#2c2c2c"/><stop offset=".8052" stop-color="#040404"/><stop offset=".8117" stop-color="#000000"/><stop offset=".8506" stop-color="#000000"/><stop offset=".8571" stop-color="#080808"/><stop offset=".8636" stop-color="#0b0b0b"/><stop offset=".8701" stop-color="#1f1f1f"/><stop offset=".8766" stop-color="#000000"/><stop offset=".8831" stop-color="#000000"/><stop offset=".8896" stop-color="#060606"/><stop offset=".8961" stop-color="#0e0e0e"/><stop offset=".9026" stop-color="#1f1f1f"/><stop offset=".9091" stop-color="#000000"/><stop offset=".9221" stop-color="#000000"/><stop offset=".9286" stop-color="#090909"/><stop offset=".9351" stop-color="#0b0b0b"/><stop offset=".9416" stop-color="#000000"/><stop offset=".9481" stop-color="#000000"/><stop offset=".9545" stop-color="#030303"/><stop offset=".961" stop-color="#2d2d2d"/><stop offset=".9675" stop-color="#000000"/><stop offset=".974" stop-color="#010101"/><stop offset=".9805" stop-color="#010101"/><stop offset=".987" stop-color="#000000"/><stop offset=".9935" stop-color="#070707"/><stop offset="1" stop-color="#090909"/></linearGradient>
<linearGradient id="r13" gradientUnits="userSpaceOnUse" x1="244.3" x2="2013.1" y1="0" y2="0"><stop offset="0" stop-color="#000000"/><stop offset=".0325" stop-color="#000000"/><stop offset=".039" stop-color="#030303"/><stop offset=".0455" stop-color="#202020"/><stop offset=".0519" stop-color="#020202"/><stop offset=".0584" stop-color="#303030"/><stop offset=".0649" stop-color="#000000"/><stop offset=".0909" stop-color="#000000"/><stop offset=".0974" stop-color="#010101"/><stop offset=".1039" stop-color="#020202"/><stop offset=".1104" stop-color="#3c3c3c"/><stop offset=".1169" stop-color="#010101"/><stop offset=".1234" stop-color="#000000"/><stop offset=".1299" stop-color="#000000"/><stop offset=".1364" stop-color="#030303"/><stop offset=".1429" stop-color="#010101"/><stop offset=".1494" stop-color="#000000"/><stop offset=".1558" stop-color="#000000"/><stop offset=".1623" stop-color="#010101"/><stop offset=".1688" stop-color="#000000"/><stop offset=".1753" stop-color="#2b2b2b"/><stop offset=".1818" stop-color="#020202"/><stop offset=".1883" stop-color="#090909"/><stop offset=".1948" stop-color="#050505"/><stop offset=".2013" stop-color="#000000"/><stop offset=".2078" stop-color="#2e2e2e"/><stop offset=".2143" stop-color="#616161"/><stop offset=".2208" stop-color="#121212"/><stop offset=".2273" stop-color="#383838"/><stop offset=".2338" stop-color="#3a3a3a"/><stop offset=".2403" stop-color="#171717"/><stop offset=".2468" stop-color="#010101"/><stop offset=".2532" stop-color="#000000"/><stop offset=".2597" stop-color="#070707"/><stop offset=".2662" stop-color="#101010"/><stop offset=".2727" stop-color="#000000"/><stop offset=".2792" stop-color="#000000"/><stop offset=".2857" stop-color="#131313"/><stop offset=".2922" stop-color="#383838"/><stop offset=".2987" stop-color="#0d0d0d"/><stop offset=".3052" stop-color="#000000"/><stop offset=".3117" stop-color="#010101"/><stop offset=".3182" stop-color="#383838"/><stop offset=".3247" stop-color="#010101"/><stop offset=".3312" stop-color="#000000"/><stop offset=".3377" stop-color="#000000"/><stop offset=".3442" stop-color="#080808"/><stop offset=".3506" stop-color="#010101"/><stop offset=".3571" stop-color="#000000"/><stop offset=".3636" stop-color="#202020"/><stop offset=".3701" stop-color="#010101"/><stop offset=".3766" stop-color="#000000"/><stop offset=".3831" stop-color="#323232"/><stop offset=".3896" stop-color="#030303"/><stop offset=".3961" stop-color="#000000"/><stop offset=".4026" stop-color="#000000"/><stop offset=".4091" stop-color="#040404"/><stop offset=".4156" stop-color="#0e0e0e"/><stop offset=".4221" stop-color="#0e0e0e"/><stop offset=".4286" stop-color="#020202"/><stop offset=".4351" stop-color="#2c2c2c"/><stop offset=".4416" stop-color="#020202"/><stop offset=".4481" stop-color="#212121"/><stop offset=".4545" stop-color="#0d0d0d"/><stop offset=".461" stop-color="#010101"/><stop offset=".4675" stop-color="#020202"/><stop offset=".474" stop-color="#595959"/><stop offset=".4805" stop-color="#010101"/><stop offset=".487" stop-color="#040404"/><stop offset=".4935" stop-color="#010101"/><stop offset=".5" stop-color="#000000"/><stop offset=".5065" stop-color="#040404"/><stop offset=".513" stop-color="#030303"/><stop offset=".5195" stop-color="#000000"/><stop offset=".526" stop-color="#010101"/><stop offset=".5325" stop-color="#0a0a0a"/><stop offset=".539" stop-color="#131313"/><stop offset=".5455" stop-color="#020202"/><stop offset=".5519" stop-color="#000000"/><stop offset=".5649" stop-color="#000000"/><stop offset=".5714" stop-color="#030303"/><stop offset=".5779" stop-color="#060606"/><stop offset=".5844" stop-color="#030303"/><stop offset=".5909" stop-color="#0a0a0a"/><stop offset=".5974" stop-color="#010101"/><stop offset=".6039" stop-color="#000000"/><stop offset=".6104" stop-color="#000000"/><stop offset=".6169" stop-color="#010101"/><stop offset=".6234" stop-color="#000000"/><stop offset=".6299" stop-color="#010101"/><stop offset=".6364" stop-color="#101010"/><stop offset=".6429" stop-color="#010101"/><stop offset=".6494" stop-color="#000000"/><stop offset=".6558" stop-color="#000000"/><stop offset=".6623" stop-color="#050505"/><stop offset=".6688" stop-color="#646464"/><stop offset=".6753" stop-color="#010101"/><stop offset=".6818" stop-color="#000000"/><stop offset=".6883" stop-color="#020202"/><stop offset=".6948" stop-color="#010101"/><stop offset=".7013" stop-color="#1b1b1b"/><stop offset=".7078" stop-color="#010101"/><stop offset=".7143" stop-color="#000000"/><stop offset=".7208" stop-color="#000000"/><stop offset=".7273" stop-color="#707070"/><stop offset=".7338" stop-color="#b9b9b9"/><stop offset=".7403" stop-color="#121212"/><stop offset=".7468" stop-color="#000000"/><stop offset=".7532" stop-color="#000000"/><stop offset=".7597" stop-color="#010101"/><stop offset=".7662" stop-color="#4c4c4c"/><stop offset=".7727" stop-color="#1d1d1d"/><stop offset=".7792" stop-color="#2d2d2d"/><stop offset=".7857" stop-color="#010101"/><stop offset=".7922" stop-color="#010101"/><stop offset=".7987" stop-color="#4c4c4c"/><stop offset=".8052" stop-color="#010101"/><stop offset=".8117" stop-color="#000000"/><stop offset=".8442" stop-color="#000000"/><stop offset=".8506" stop-color="#010101"/><stop offset=".8571" stop-color="#212121"/><stop offset=".8636" stop-color="#1a1a1a"/><stop offset=".8701" stop-color="#434343"/><stop offset=".8766" stop-color="#000000"/><stop offset=".8831" stop-color="#000000"/><stop offset=".8896" stop-color="#191919"/><stop offset=".8961" stop-color="#232323"/><stop offset=".9026" stop-color="#3f3f3f"/><stop offset=".9091" stop-color="#000000"/><stop offset=".9221" stop-color="#000000"/><stop offset=".9286" stop-color="#030303"/><stop offset=".9351" stop-color="#010101"/><stop offset=".9416" stop-color="#000000"/><stop offset=".9481" stop-color="#000000"/><stop offset=".9545" stop-color="#020202"/><stop offset=".961" stop-color="#232323"/><stop offset=".9675" stop-color="#000000"/><stop offset=".974" stop-color="#0b0b0b"/><stop offset=".9805" stop-color="#010101"/><stop offset=".987" stop-color="#000000"/><stop offset=".9935" stop-color="#010101"/><stop offset="1" stop-color="#000000"/></linearGradient>
<linearGradient id="r14" gradientUnits="userSpaceOnUse" x1="244.3" x2="2013.1" y1="0" y2="0"><stop offset="0" stop-color="#000000"/><stop offset=".0325" stop-color="#000000"/><stop offset=".039" stop-color="#080808"/><stop offset=".0455" stop-color="#121212"/><stop offset=".0519" stop-color="#030303"/><stop offset=".0584" stop-color="#0b0b0b"/><stop offset=".0649" stop-color="#000000"/><stop offset=".0844" stop-color="#000000"/><stop offset=".0909" stop-color="#020202"/><stop offset=".0974" stop-color="#010101"/><stop offset=".1039" stop-color="#010101"/><stop offset=".1104" stop-color="#101010"/><stop offset=".1169" stop-color="#000000"/><stop offset=".1234" stop-color="#000000"/><stop offset=".1299" stop-color="#010101"/><stop offset=".1364" stop-color="#242424"/><stop offset=".1429" stop-color="#020202"/><stop offset=".1494" stop-color="#000000"/><stop offset=".1558" stop-color="#030303"/><stop offset=".1623" stop-color="#020202"/><stop offset=".1688" stop-color="#010101"/><stop offset=".1753" stop-color="#323232"/><stop offset=".1818" stop-color="#010101"/><stop offset=".1883" stop-color="#2e2e2e"/><stop offset=".1948" stop-color="#050505"/><stop offset=".2013" stop-color="#010101"/><stop offset=".2078" stop-color="#6d6d6d"/><stop offset=".2143" stop-color="#707070"/><stop offset=".2208" stop-color="#0e0e0e"/><stop offset=".2273" stop-color="#2c2c2c"/><stop offset=".2338" stop-color="#242424"/><stop offset=".2403" stop-color="#0a0a0a"/><stop offset=".2468" stop-color="#000000"/><stop offset=".2532" stop-color="#000000"/><stop offset=".2597" stop-color="#070707"/><stop offset=".2662" stop-color="#030303"/><stop offset=".2727" stop-color="#000000"/><stop offset=".2792" stop-color="#000000"/><stop offset=".2857" stop-color="#121212"/><stop offset=".2922" stop-color="#242424"/><stop offset=".2987" stop-color="#212121"/><stop offset=".3052" stop-color="#010101"/><stop offset=".3117" stop-color="#040404"/><stop offset=".3182" stop-color="#202020"/><stop offset=".3247" stop-color="#000000"/><stop offset=".3377" stop-color="#000000"/><stop offset=".3442" stop-color="#050505"/><stop offset=".3506" stop-color="#010101"/><stop offset=".3571" stop-color="#030303"/><stop offset=".3636" stop-color="#282828"/><stop offset=".3701" stop-color="#010101"/><stop offset=".3766" stop-color="#020202"/><stop offset=".3831" stop-color="#3f3f3f"/><stop offset=".3896" stop-color="#010101"/><stop offset=".3961" stop-color="#000000"/><stop offset=".4026" stop-color="#000000"/><stop offset=".4091" stop-color="#020202"/><stop offset=".4156" stop-color="#020202"/><stop offset=".4221" stop-color="#2b2b2b"/><stop offset=".4286" stop-color="#060606"/><stop offset=".4351" stop-color="#1f1f1f"/><stop offset=".4416" stop-color="#020202"/><stop offset=".4481" stop-color="#161616"/><stop offset=".4545" stop-color="#040404"/><stop offset=".461" stop-color="#080808"/><stop offset=".4675" stop-color="#080808"/><stop offset=".474" stop-color="#3d3d3d"/><stop offset=".4805" stop-color="#000000"/><stop offset=".487" stop-color="#010101"/><stop offset=".4935" stop-color="#000000"/><stop offset=".5" stop-color="#000000"/><stop offset=".5065" stop-color="#010101"/><stop offset=".513" stop-color="#000000"/><stop offset=".526" stop-color="#000000"/><stop offset=".5325" stop-color="#010101"/><stop offset=".539" stop-color="#060606"/><stop offset=".5455" stop-color="#000000"/><stop offset=".5584" stop-color="#000000"/><stop offset=".5649" stop-color="#010101"/><stop offset=".5714" stop-color="#101010"/><stop offset=".5779" stop-color="#0d0d0d"/><stop offset=".5844" stop-color="#020202"/><stop offset=".5909" stop-color="#040404"/><stop offset=".5974" stop-color="#000000"/><stop offset=".6104" stop-color="#000000"/><stop offset=".6169" stop-color="#070707"/><stop offset=".6234" stop-color="#000000"/><stop offset=".6299" stop-color="#0d0d0d"/><stop offset=".6364" stop-color="#212121"/><stop offset=".6429" stop-color="#040404"/><stop offset=".6494" stop-color="#000000"/><stop offset=".6558" stop-color="#010101"/><stop offset=".6623" stop-color="#0c0c0c"/><stop offset=".6688" stop-color="#323232"/><stop offset=".6753" stop-color="#000000"/><stop offset=".6883" stop-color="#000000"/><stop offset=".6948" stop-color="#020202"/><stop offset=".7013" stop-color="#1a1a1a"/><stop offset=".7078" stop-color="#000000"/><stop offset=".7208" stop-color="#000000"/><stop offset=".7273" stop-color="#4b4b4b"/><stop offset=".7338" stop-color="#535353"/><stop offset=".7403" stop-color="#040404"/><stop offset=".7468" stop-color="#000000"/><stop offset=".7532" stop-color="#000000"/><stop offset=".7597" stop-color="#040404"/><stop offset=".7662" stop-color="#3f3f3f"/><stop offset=".7727" stop-color="#2e2e2e"/><stop offset=".7792" stop-color="#222222"/><stop offset=".7857" stop-color="#000000"/><stop offset=".7922" stop-color="#040404"/><stop offset=".7987" stop-color="#333333"/><stop offset=".8052" stop-color="#000000"/><stop offset=".8247" stop-color="#000000"/><stop offset=".8312" stop-color="#010101"/><stop offset=".8377" stop-color="#000000"/><stop offset=".8442" stop-color="#000000"/><stop offset=".8506" stop-color="#040404"/><stop offset=".8571" stop-color="#343434"/><stop offset=".8636" stop-color="#222222"/><stop offset=".8701" stop-color="#292929"/><stop offset=".8766" stop-color="#000000"/><stop offset=".8831" stop-color="#020202"/><stop offset=".8896" stop-color="#2d2d2d"/><stop offset=".8961" stop-color="#2e2e2e"/><stop offset=".9026" stop-color="#252525"/><stop offset=".9091" stop-color="#000000"/><stop offset=".9481" stop-color="#000000"/><stop offset=".9545" stop-color="#010101"/><stop offset=".961" stop-color="#181818"/><stop offset=".9675" stop-color="#010101"/><stop offset=".974" stop-color="#292929"/><stop offset=".9805" stop-color="#010101"/><stop offset=".987" stop-color="#000000"/><stop offset="1" stop-color="#000000"/></linearGradient>
<linearGradient id="r15" gradientUnits="userSpaceOnUse" x1="244.3" x2="2013.1" y1="0" y2="0"><stop offset="0" stop-color="#000000"/><stop offset=".0325" stop-color="#000000"/><stop offset=".039" stop-color="#101010"/><stop offset=".0455" stop-color="#0a0a0a"/><stop offset=".0519" stop-color="#010101"/><stop offset=".0649" stop-color="#010101"/><stop offset=".0714" stop-color="#000000"/><stop offset=".0844" stop-color="#000000"/><stop offset=".0909" stop-color="#080808"/><stop offset=".0974" stop-color="#010101"/><stop offset=".1039" stop-color="#000000"/><stop offset=".1104" stop-color="#020202"/><stop offset=".1169" stop-color="#000000"/><stop offset=".1234" stop-color="#040404"/><stop offset=".1299" stop-color="#040404"/><stop offset=".1364" stop-color="#4c4c4c"/><stop offset=".1429" stop-color="#010101"/><stop offset=".1494" stop-color="#000000"/><stop offset=".1558" stop-color="#0e0e0e"/><stop offset=".1623" stop-color="#020202"/><stop offset=".1688" stop-color="#050505"/><stop offset=".1753" stop-color="#212121"/><stop offset=".1818" stop-color="#010101"/><stop offset=".1883" stop-color="#585858"/><stop offset=".1948" stop-color="#020202"/><stop offset=".2013" stop-color="#040404"/><stop offset=".2078" stop-color="#7e7e7e"/><stop offset=".2143" stop-color="#393939"/><stop offset=".2208" stop-color="#080808"/><stop offset=".2273" stop-color="#161616"/><stop offset=".2338" stop-color="#0e0e0e"/><stop offset=".2403" stop-color="#070707"/><stop offset=".2468" stop-color="#000000"/><stop offset=".2532" stop-color="#000000"/><stop offset=".2597" stop-color="#040404"/><stop offset=".2662" stop-color="#000000"/><stop offset=".2727" stop-color="#030303"/><stop offset=".2792" stop-color="#000000"/><stop offset=".2857" stop-color="#0c0c0c"/><stop offset=".2922" stop-color="#101010"/><stop offset=".2987" stop-color="#454545"/><stop offset=".3052" stop-color="#050505"/><stop offset=".3117" stop-color="#030303"/><stop offset=".3182" stop-color="#060606"/><stop offset=".3247" stop-color="#000000"/><stop offset=".3377" stop-color="#000000"/><stop offset=".3442" stop-color="#050505"/><stop offset=".3571" stop-color="#050505"/><stop offset=".3636" stop-color="#0e0e0e"/><stop offset=".3701" stop-color="#050505"/><stop offset=".3766" stop-color="#050505"/><stop offset=".3831" stop-color="#262626"/><stop offset=".3896" stop-color="#000000"/><stop offset=".4091" stop-color="#000000"/><stop offset=".4156" stop-color="#020202"/><stop offset=".4221" stop-color="#545454"/><stop offset=".4286" stop-color="#0f0f0f"/><stop offset=".4351" stop-color="#0e0e0e"/><stop offset=".4416" stop-color="#020202"/><stop offset=".4481" stop-color="#090909"/><stop offset=".4545" stop-color="#010101"/><stop offset=".461" stop-color="#2d2d2d"/><stop offset=".4675" stop-color="#0c0c0c"/><stop offset=".474" stop-color="#131313"/><stop offset=".4805" stop-color="#000000"/><stop offset=".5325" stop-color="#000000"/><stop offset=".539" stop-color="#010101"/><stop offset=".5455" stop-color="#000000"/><stop offset=".5519" stop-color="#000000"/><stop offset=".5584" stop-color="#050505"/><stop offset=".5649" stop-color="#020202"/><stop offset=".5714" stop-color="#222222"/><stop offset=".5779" stop-color="#0c0c0c"/><stop offset=".5844" stop-color="#010101"/><stop offset=".5909" stop-color="#050505"/><stop offset=".5974" stop-color="#020202"/><stop offset=".6039" stop-color="#010101"/><stop offset=".6104" stop-color="#010101"/><stop offset=".6169" stop-color="#111111"/><stop offset=".6234" stop-color="#000000"/><stop offset=".6299" stop-color="#2d2d2d"/><stop offset=".6364" stop-color="#1f1f1f"/><stop offset=".6429" stop-color="#080808"/><stop offset=".6494" stop-color="#020202"/><stop offset=".6558" stop-color="#040404"/><stop offset=".6623" stop-color="#0a0a0a"/><stop offset=".6688" stop-color="#080808"/><stop offset=".6753" stop-color="#000000"/><stop offset=".6883" stop-color="#000000"/><stop offset=".6948" stop-color="#030303"/><stop offset=".7013" stop-color="#090909"/><stop offset=".7078" stop-color="#000000"/><stop offset=".7208" stop-color="#000000"/><stop offset=".7273" stop-color="#393939"/><stop offset=".7338" stop-color="#151515"/><stop offset=".7403" stop-color="#010101"/><stop offset=".7468" stop-color="#000000"/><stop offset=".7532" stop-color="#000000"/><stop offset=".7597" stop-color="#080808"/><stop offset=".7662" stop-color="#1e1e1e"/><stop offset=".7727" stop-color="#171717"/><stop offset=".7792" stop-color="#080808"/><stop offset=".7857" stop-color="#000000"/><stop offset=".7922" stop-color="#050505"/><stop offset=".7987" stop-color="#0e0e0e"/><stop offset=".8052" stop-color="#000000"/><stop offset=".8247" stop-color="#000000"/><stop offset=".8312" stop-color="#080808"/><stop offset=".8377" stop-color="#010101"/><stop offset=".8442" stop-color="#000000"/><stop offset=".8506" stop-color="#050505"/><stop offset=".8571" stop-color="#1f1f1f"/><stop offset=".8636" stop-color="#171717"/><stop offset=".8701" stop-color="#080808"/><stop offset=".8766" stop-color="#000000"/><stop offset=".8831" stop-color="#030303"/><stop offset=".8896" stop-color="#1e1e1e"/><stop offset=".8961" stop-color="#1c1c1c"/><stop offset=".9026" stop-color="#060606"/><stop offset=".9091" stop-color="#000000"/><stop offset=".9481" stop-color="#000000"/><stop offset=".9545" stop-color="#010101"/><stop offset=".961" stop-color="#101010"/><stop offset=".9675" stop-color="#030303"/><stop offset=".974" stop-color="#323232"/><stop offset=".9805" stop-color="#000000"/><stop offset="1" stop-color="#000000"/></linearGradient>
<linearGradient id="r16" gradientUnits="userSpaceOnUse" x1="244.3" x2="2013.1" y1="0" y2="0"><stop offset="0" stop-color="#000000"/><stop offset=".0325" stop-color="#000000"/><stop offset=".039" stop-color="#161616"/><stop offset=".0455" stop-color="#171717"/><stop offset=".0519" stop-color="#000000"/><stop offset=".0584" stop-color="#010101"/><stop offset=".0649" stop-color="#020202"/><stop offset=".0714" stop-color="#000000"/><stop offset=".0779" stop-color="#040404"/><stop offset=".0844" stop-color="#000000"/><stop offset=".0909" stop-color="#121212"/><stop offset=".0974" stop-color="#000000"/><stop offset=".1169" stop-color="#000000"/><stop offset=".1234" stop-color="#1c1c1c"/><stop offset=".1299" stop-color="#060606"/><stop offset=".1364" stop-color="#181818"/><stop offset=".1429" stop-color="#000000"/><stop offset=".1494" stop-color="#000000"/><stop offset=".1558" stop-color="#1d1d1d"/><stop offset=".1623" stop-color="#010101"/><stop offset=".1688" stop-color="#090909"/><stop offset=".1753" stop-color="#0f0f0f"/><stop offset=".1818" stop-color="#040404"/><stop offset=".1883" stop-color="#3e3e3e"/><stop offset=".1948" stop-color="#000000"/><stop offset=".2013" stop-color="#090909"/><stop offset=".2078" stop-color="#595959"/><stop offset=".2143" stop-color="#0d0d0d"/><stop offset=".2208" stop-color="#030303"/><stop offset=".2273" stop-color="#070707"/><stop offset=".2338" stop-color="#060606"/><stop offset=".2403" stop-color="#181818"/><stop offset=".2468" stop-color="#000000"/><stop offset=".2532" stop-color="#010101"/><stop offset=".2597" stop-color="#020202"/><stop offset=".2662" stop-color="#010101"/><stop offset=".2727" stop-color="#141414"/><stop offset=".2792" stop-color="#010101"/><stop offset=".2857" stop-color="#060606"/><stop offset=".2922" stop-color="#050505"/><stop offset=".2987" stop-color="#666666"/><stop offset=".3052" stop-color="#151515"/><stop offset=".3117" stop-color="#010101"/><stop offset=".3182" stop-color="#000000"/><stop offset=".3377" stop-color="#000000"/><stop offset=".3442" stop-color="#111111"/><stop offset=".3506" stop-color="#151515"/><stop offset=".3571" stop-color="#060606"/><stop offset=".3636" stop-color="#010101"/><stop offset=".3701" stop-color="#161616"/><stop offset=".3766" stop-color="#070707"/><stop offset=".3831" stop-color="#0b0b0b"/><stop offset=".3896" stop-color="#000000"/><stop offset=".4091" stop-color="#000000"/><stop offset=".4156" stop-color="#020202"/><stop offset=".4221" stop-color="#656565"/><stop offset=".4286" stop-color="#161616"/><stop offset=".4351" stop-color="#040404"/><stop offset=".4416" stop-color="#010101"/><stop offset=".4481" stop-color="#030303"/><stop offset=".4545" stop-color="#030303"/><stop offset=".461" stop-color="#464646"/><stop offset=".4675" stop-color="#080808"/><stop offset=".474" stop-color="#030303"/><stop offset=".4805" stop-color="#000000"/><stop offset=".5" stop-color="#000000"/><stop offset=".5065" stop-color="#010101"/><stop offset=".513" stop-color="#010101"/><stop offset=".5195" stop-color="#000000"/><stop offset=".539" stop-color="#000000"/><stop offset=".5455" stop-color="#020202"/><stop offset=".5519" stop-color="#000000"/><stop offset=".5584" stop-color="#131313"/><stop offset=".5649" stop-color="#040404"/><stop offset=".5714" stop-color="#1d1d1d"/><stop offset=".5779" stop-color="#050505"/><stop offset=".5844" stop-color="#000000"/><stop offset=".5909" stop-color="#141414"/><stop offset=".5974" stop-color="#0c0c0c"/><stop offset=".6039" stop-color="#050505"/><stop offset=".6104" stop-color="#050505"/><stop offset=".6169" stop-color="#0f0f0f"/><stop offset=".6234" stop-color="#000000"/><stop offset=".6299" stop-color="#3d3d3d"/><stop offset=".6364" stop-color="#303030"/><stop offset=".6429" stop-color="#060606"/><stop offset=".6494" stop-color="#0c0c0c"/><stop offset=".6558" stop-color="#050505"/><stop offset=".6623" stop-color="#030303"/><stop offset=".6688" stop-color="#010101"/><stop offset=".6753" stop-color="#000000"/><stop offset=".6818" stop-color="#000000"/><stop offset=".6883" stop-color="#030303"/><stop offset=".6948" stop-color="#020202"/><stop offset=".7013" stop-color="#010101"/><stop offset=".7078" stop-color="#000000"/><stop offset=".7208" stop-color="#000000"/><stop offset=".7273" stop-color="#3f3f3f"/><stop offset=".7338" stop-color="#030303"/><stop offset=".7403" stop-color="#000000"/><stop offset=".7532" stop-color="#000000"/><stop offset=".7597" stop-color="#0b0b0b"/><stop offset=".7662" stop-color="#080808"/><stop offset=".7727" stop-color="#040404"/><stop offset=".7792" stop-color="#010101"/><stop offset=".7857" stop-color="#000000"/><stop offset=".7922" stop-color="#030303"/><stop offset=".7987" stop-color="#010101"/><stop offset=".8052" stop-color="#000000"/><stop offset=".8247" stop-color="#000000"/><stop offset=".8312" stop-color="#282828"/><stop offset=".8377" stop-color="#010101"/><stop offset=".8442" stop-color="#000000"/><stop offset=".8506" stop-color="#020202"/><stop offset=".8571" stop-color="#070707"/><stop offset=".8636" stop-color="#060606"/><stop offset=".8701" stop-color="#000000"/><stop offset=".8766" stop-color="#000000"/><stop offset=".8831" stop-color="#010101"/><stop offset=".8896" stop-color="#080808"/><stop offset=".8961" stop-color="#060606"/><stop offset=".9026" stop-color="#000000"/><stop offset=".9351" stop-color="#000000"/><stop offset=".9416" stop-color="#080808"/><stop offset=".9481" stop-color="#010101"/><stop offset=".9545" stop-color="#010101"/><stop offset=".961" stop-color="#090909"/><stop offset=".9675" stop-color="#070707"/><stop offset=".974" stop-color="#131313"/><stop offset=".9805" stop-color="#000000"/><stop offset=".987" stop-color="#000000"/><stop offset=".9935" stop-color="#010101"/><stop offset="1" stop-color="#020202"/></linearGradient>
<linearGradient id="r17" gradientUnits="userSpaceOnUse" x1="244.3" x2="2013.1" y1="0" y2="0"><stop offset="0" stop-color="#000000"/><stop offset=".0325" stop-color="#000000"/><stop offset=".039" stop-color="#171717"/><stop offset=".0455" stop-color="#4c4c4c"/><stop offset=".0519" stop-color="#000000"/><stop offset=".0584" stop-color="#060606"/><stop offset=".0649" stop-color="#040404"/><stop offset=".0714" stop-color="#010101"/><stop offset=".0779" stop-color="#191919"/><stop offset=".0844" stop-color="#020202"/><stop offset=".0909" stop-color="#121212"/><stop offset=".0974" stop-color="#000000"/><stop offset=".1104" stop-color="#000000"/><stop offset=".1169" stop-color="#010101"/><stop offset=".1234" stop-color="#404040"/><stop offset=".1299" stop-color="#040404"/><stop offset=".1364" stop-color="#020202"/><stop offset=".1429" stop-color="#000000"/><stop offset=".1494" stop-color="#010101"/><stop offset=".1558" stop-color="#191919"/><stop offset=".1623" stop-color="#000000"/><stop offset=".1688" stop-color="#0b0b0b"/><stop offset=".1753" stop-color="#121212"/><stop offset=".1818" stop-color="#070707"/><stop offset=".1883" stop-color="#111111"/><stop offset=".1948" stop-color="#010101"/><stop offset=".2013" stop-color="#0c0c0c"/><stop offset=".2078" stop-color="#2d2d2d"/><stop offset=".2143" stop-color="#010101"/><stop offset=".2208" stop-color="#010101"/><stop offset=".2273" stop-color="#050505"/><stop offset=".2338" stop-color="#151515"/><stop offset=".2403" stop-color="#4b4b4b"/><stop offset=".2468" stop-color="#030303"/><stop offset=".2532" stop-color="#060606"/><stop offset=".2597" stop-color="#040404"/><stop offset=".2662" stop-color="#040404"/><stop offset=".2727" stop-color="#434343"/><stop offset=".2792" stop-color="#050505"/><stop offset=".2857" stop-color="#020202"/><stop offset=".2922" stop-color="#010101"/><stop offset=".2987" stop-color="#666666"/><stop offset=".3052" stop-color="#393939"/><stop offset=".3117" stop-color="#020202"/><stop offset=".3182" stop-color="#000000"/><stop offset=".3247" stop-color="#000000"/><stop offset=".3312" stop-color="#030303"/><stop offset=".3377" stop-color="#060606"/><stop offset=".3442" stop-color="#292929"/><stop offset=".3506" stop-color="#333333"/><stop offset=".3571" stop-color="#101010"/><stop offset=".3636" stop-color="#020202"/><stop offset=".3701" stop-color="#444444"/><stop offset=".3766" stop-color="#050505"/><stop offset=".3831" stop-color="#010101"/><stop offset=".3896" stop-color="#000000"/><stop offset=".3961" stop-color="#020202"/><stop offset=".4026" stop-color="#000000"/><stop offset=".4091" stop-color="#000000"/><stop offset=".4156" stop-color="#020202"/><stop offset=".4221" stop-color="#616161"/><stop offset=".4286" stop-color="#171717"/><stop offset=".4351" stop-color="#010101"/><stop offset=".4416" stop-color="#030303"/><stop offset=".4481" stop-color="#0f0f0f"/><stop offset=".4545" stop-color="#111111"/><stop offset=".461" stop-color="#232323"/><stop offset=".4675" stop-color="#030303"/><stop offset=".474" stop-color="#000000"/><stop offset=".4805" stop-color="#010101"/><stop offset=".487" stop-color="#010101"/><stop offset=".4935" stop-color="#020202"/><stop offset=".5" stop-color="#000000"/><stop offset=".5065" stop-color="#0b0b0b"/><stop offset=".513" stop-color="#010101"/><stop offset=".5195" stop-color="#010101"/><stop offset=".526" stop-color="#000000"/><stop offset=".5325" stop-color="#020202"/><stop offset=".539" stop-color="#050505"/><stop offset=".5455" stop-color="#090909"/><stop offset=".5519" stop-color="#020202"/><stop offset=".5584" stop-color="#191919"/><stop offset=".5649" stop-color="#040404"/><stop offset=".5714" stop-color="#0e0e0e"/><stop offset=".5779" stop-color="#010101"/><stop offset=".5844" stop-color="#000000"/><stop offset=".5909" stop-color="#3b3b3b"/><stop offset=".5974" stop-color="#353535"/><stop offset=".6039" stop-color="#141414"/><stop offset=".6104" stop-color="#070707"/><stop offset=".6169" stop-color="#050505"/><stop offset=".6234" stop-color="#020202"/><stop offset=".6299" stop-color="#454545"/><stop offset=".6364" stop-color="#4d4d4d"/><stop offset=".6429" stop-color="#020202"/><stop offset=".6494" stop-color="#1b1b1b"/><stop offset=".6558" stop-color="#050505"/><stop offset=".6623" stop-color="#040404"/><stop offset=".6688" stop-color="#020202"/><stop offset=".6753" stop-color="#000000"/><stop offset=".6818" stop-color="#030303"/><stop offset=".6883" stop-color="#131313"/><stop offset=".6948" stop-color="#010101"/><stop offset=".7013" stop-color="#000000"/><stop offset=".7208" stop-color="#000000"/><stop offset=".7273" stop-color="#4b4b4b"/><stop offset=".7338" stop-color="#000000"/><stop offset=".7403" stop-color="#010101"/><stop offset=".7468" stop-color="#020202"/><stop offset=".7532" stop-color="#000000"/><stop offset=".7597" stop-color="#080808"/><stop offset=".7662" stop-color="#050505"/><stop offset=".7727" stop-color="#000000"/><stop offset=".7857" stop-color="#000000"/><stop offset=".7922" stop-color="#010101"/><stop offset=".7987" stop-color="#000000"/><stop offset=".8182" stop-color="#000000"/><stop offset=".8247" stop-color="#040404"/><stop offset=".8312" stop-color="#454545"/><stop offset=".8377" stop-color="#000000"/><stop offset=".8442" stop-color="#000000"/><stop offset=".8506" stop-color="#010101"/><stop offset=".8571" stop-color="#010101"/><stop offset=".8636" stop-color="#000000"/><stop offset=".8766" stop-color="#000000"/><stop offset=".8831" stop-color="#010101"/><stop offset=".8896" stop-color="#010101"/><stop offset=".8961" stop-color="#000000"/><stop offset=".9286" stop-color="#000000"/><stop offset=".9351" stop-color="#010101"/><stop offset=".9416" stop-color="#282828"/><stop offset=".9481" stop-color="#030303"/><stop offset=".9545" stop-color="#020202"/><stop offset=".961" stop-color="#050505"/><stop offset=".9675" stop-color="#060606"/><stop offset=".974" stop-color="#070707"/><stop offset=".9805" stop-color="#000000"/><stop offset=".987" stop-color="#000000"/><stop offset=".9935" stop-color="#040404"/><stop offset="1" stop-color="#101010"/></linearGradient>
<linearGradient id="r18" gradientUnits="userSpaceOnUse" x1="244.3" x2="2013.1" y1="0" y2="0"><stop offset="0" stop-color="#000000"/><stop offset=".026" stop-color="#000000"/><stop offset=".0325" stop-color="#010101"/><stop offset=".039" stop-color="#1b1b1b"/><stop offset=".0455" stop-color="#a4a4a4"/><stop offset=".0519" stop-color="#010101"/><stop offset=".0584" stop-color="#171717"/><stop offset=".0649" stop-color="#030303"/><stop offset=".0714" stop-color="#070707"/><stop offset=".0779" stop-color="#595959"/><stop offset=".0844" stop-color="#0a0a0a"/><stop offset=".0909" stop-color="#080808"/><stop offset=".0974" stop-color="#000000"/><stop offset=".1104" stop-color="#000000"/><stop offset=".1169" stop-color="#030303"/><stop offset=".1234" stop-color="#454545"/><stop offset=".1299" stop-color="#171717"/><stop offset=".1364" stop-color="#060606"/><stop offset=".1429" stop-color="#000000"/><stop offset=".1494" stop-color="#020202"/><stop offset=".1558" stop-color="#080808"/><stop offset=".1623" stop-color="#000000"/><stop offset=".1688" stop-color="#0a0a0a"/><stop offset=".1753" stop-color="#414141"/><stop offset=".1818" stop-color="#0d0d0d"/><stop offset=".1883" stop-color="#0c0c0c"/><stop offset=".1948" stop-color="#0c0c0c"/><stop offset=".2013" stop-color="#262626"/><stop offset=".2078" stop-color="#232323"/><stop offset=".2143" stop-color="#000000"/><stop offset=".2208" stop-color="#030303"/><stop offset=".2273" stop-color="#101010"/><stop offset=".2338" stop-color="#4e4e4e"/><stop offset=".2403" stop-color="#9b9b9b"/><stop offset=".2468" stop-color="#0f0f0f"/><stop offset=".2532" stop-color="#1c1c1c"/><stop offset=".2597" stop-color="#050505"/><stop offset=".2662" stop-color="#101010"/><stop offset=".2727" stop-color="#898989"/><stop offset=".2792" stop-color="#1d1d1d"/><stop offset=".2857" stop-color="#000000"/><stop offset=".2922" stop-color="#000000"/><stop offset=".2987" stop-color="#454545"/><stop offset=".3052" stop-color="#696969"/><stop offset=".3117" stop-color="#101010"/><stop offset=".3182" stop-color="#000000"/><stop offset=".3247" stop-color="#000000"/><stop offset=".3312" stop-color="#0e0e0e"/><stop offset=".3377" stop-color="#2c2c2c"/><stop offset=".3442" stop-color="#3f3f3f"/><stop offset=".3506" stop-color="#454545"/><stop offset=".3571" stop-color="#2a2a2a"/><stop offset=".3636" stop-color="#0d0d0d"/><stop offset=".3701" stop-color="#929292"/><stop offset=".3766" stop-color="#020202"/><stop offset=".3831" stop-color="#000000"/><stop offset=".3896" stop-color="#000000"/><stop offset=".3961" stop-color="#0c0c0c"/><stop offset=".4026" stop-color="#040404"/><stop offset=".4091" stop-color="#020202"/><stop offset=".4156" stop-color="#020202"/><stop offset=".4221" stop-color="#555555"/><stop offset=".4286" stop-color="#0f0f0f"/><stop offset=".4351" stop-color="#000000"/><stop offset=".4416" stop-color="#0c0c0c"/><stop offset=".4481" stop-color="#4c4c4c"/><stop offset=".4545" stop-color="#454545"/><stop offset=".461" stop-color="#191919"/><stop offset=".4675" stop-color="#010101"/><stop offset=".474" stop-color="#000000"/><stop offset=".4805" stop-color="#050505"/><stop offset=".487" stop-color="#0e0e0e"/><stop offset=".4935" stop-color="#090909"/><stop offset=".5" stop-color="#000000"/><stop offset=".5065" stop-color="#1c1c1c"/><stop offset=".513" stop-color="#010101"/><stop offset=".5195" stop-color="#0c0c0c"/><stop offset=".526" stop-color="#010101"/><stop offset=".5325" stop-color="#0b0b0b"/><stop offset=".539" stop-color="#242424"/><stop offset=".5455" stop-color="#1d1d1d"/><stop offset=".5519" stop-color="#040404"/><stop offset=".5584" stop-color="#161616"/><stop offset=".5649" stop-color="#0d0d0d"/><stop offset=".5714" stop-color="#121212"/><stop offset=".5779" stop-color="#000000"/><stop offset=".5844" stop-color="#000000"/><stop offset=".5909" stop-color="#787878"/><stop offset=".5974" stop-color="#888888"/><stop offset=".6039" stop-color="#303030"/><stop offset=".6104" stop-color="#040404"/><stop offset=".6169" stop-color="#010101"/><stop offset=".6234" stop-color="#080808"/><stop offset=".6299" stop-color="#5f5f5f"/><stop offset=".6364" stop-color="#393939"/><stop offset=".6429" stop-color="#010101"/><stop offset=".6494" stop-color="#141414"/><stop offset=".6558" stop-color="#0f0f0f"/><stop offset=".6623" stop-color="#161616"/><stop offset=".6688" stop-color="#090909"/><stop offset=".6753" stop-color="#000000"/><stop offset=".6818" stop-color="#0f0f0f"/><stop offset=".6883" stop-color="#474747"/><stop offset=".6948" stop-color="#070707"/><stop offset=".7013" stop-color="#030303"/><stop offset=".7078" stop-color="#000000"/><stop offset=".7208" stop-color="#000000"/><stop offset=".7273" stop-color="#4a4a4a"/><stop offset=".7338" stop-color="#000000"/><stop offset=".7403" stop-color="#080808"/><stop offset=".7468" stop-color="#111111"/><stop offset=".7532" stop-color="#030303"/><stop offset=".7597" stop-color="#040404"/><stop offset=".7662" stop-color="#0c0c0c"/><stop offset=".7727" stop-color="#000000"/><stop offset=".7792" stop-color="#010101"/><stop offset=".7857" stop-color="#010101"/><stop offset=".7922" stop-color="#000000"/><stop offset=".7987" stop-color="#000000"/><stop offset=".8052" stop-color="#0a0a0a"/><stop offset=".8117" stop-color="#020202"/><stop offset=".8182" stop-color="#000000"/><stop offset=".8247" stop-color="#0c0c0c"/><stop offset=".8312" stop-color="#2a2a2a"/><stop offset=".8377" stop-color="#000000"/><stop offset=".8442" stop-color="#020202"/><stop offset=".8506" stop-color="#040404"/><stop offset=".8571" stop-color="#000000"/><stop offset=".8636" stop-color="#000000"/><stop offset=".8701" stop-color="#020202"/><stop offset=".8766" stop-color="#020202"/><stop offset=".8831" stop-color="#040404"/><stop offset=".8896" stop-color="#000000"/><stop offset=".9221" stop-color="#000000"/><stop offset=".9286" stop-color="#010101"/><stop offset=".9351" stop-color="#050505"/><stop offset=".9416" stop-color="#212121"/><stop offset=".9481" stop-color="#0c0c0c"/><stop offset=".9545" stop-color="#121212"/><stop offset=".961" stop-color="#060606"/><stop offset=".9675" stop-color="#0e0e0e"/><stop offset=".974" stop-color="#121212"/><stop offset=".9805" stop-color="#010101"/><stop offset=".987" stop-color="#000000"/><stop offset=".9935" stop-color="#0f0f0f"/><stop offset="1" stop-color="#3d3d3d"/></linearGradient>
<linearGradient id="r19" gradientUnits="userSpaceOnUse" x1="244.3" x2="2013.1" y1="0" y2="0"><stop offset="0" stop-color="#000000"/><stop offset=".026" stop-color="#000000"/><stop offset=".0325" stop-color="#030303"/><stop offset=".039" stop-color="#353535"/><stop offset=".0455" stop-color="#ececec"/><stop offset=".0519" stop-color="#010101"/><stop offset=".0584" stop-color="#262626"/><stop offset=".0649" stop-color="#010101"/><stop offset=".0714" stop-color="#1c1c1c"/><stop offset=".0779" stop-color="#b7b7b7"/><stop offset=".0844" stop-color="#1e1e1e"/><stop offset=".0909" stop-color="#020202"/><stop offset=".0974" stop-color="#000000"/><stop offset=".1104" stop-color="#000000"/><stop offset=".1169" stop-color="#040404"/><stop offset=".1234" stop-color="#6a6a6a"/><stop offset=".1299" stop-color="#6c6c6c"/><stop offset=".1364" stop-color="#181818"/><stop offset=".1429" stop-color="#000000"/><stop offset=".1494" stop-color="#010101"/><stop offset=".1558" stop-color="#010101"/><stop offset=".1623" stop-color="#000000"/><stop offset=".1688" stop-color="#191919"/><stop offset=".1753" stop-color="#9b9b9b"/><stop offset=".1818" stop-color="#303030"/><stop offset=".1883" stop-color="#252525"/><stop offset=".1948" stop-color="#373737"/><stop offset=".2013" stop-color="#747474"/><stop offset=".2078" stop-color="#636363"/><stop offset=".2143" stop-color="#000000"/><stop offset=".2208" stop-color="#0c0c0c"/><stop offset=".2273" stop-color="#303030"/><stop offset=".2338" stop-color="#aaaaaa"/><stop offset=".2403" stop-color="#e4e4e4"/><stop offset=".2468" stop-color="#242424"/><stop offset=".2532" stop-color="#454545"/><stop offset=".2597" stop-color="#030303"/><stop offset=".2662" stop-color="#303030"/><stop offset=".2727" stop-color="#cacaca"/><stop offset=".2792" stop-color="#5f5f5f"/><stop offset=".2857" stop-color="#000000"/><stop offset=".2922" stop-color="#000000"/><stop offset=".2987" stop-color="#202020"/><stop offset=".3052" stop-color="#878787"/><stop offset=".3117" stop-color="#414141"/><stop offset=".3182" stop-color="#030303"/><stop offset=".3247" stop-color="#000000"/><stop offset=".3312" stop-color="#282828"/><stop offset=".3377" stop-color="#8f8f8f"/><stop offset=".3442" stop-color="#3d3d3d"/><stop offset=".3506" stop-color="#343434"/><stop offset=".3571" stop-color="#494949"/><stop offset=".3636" stop-color="#3a3a3a"/><stop offset=".3701" stop-color="#dedede"/><stop offset=".3766" stop-color="#010101"/><stop offset=".3831" stop-color="#000000"/><stop offset=".3896" stop-color="#000000"/><stop offset=".3961" stop-color="#292929"/><stop offset=".4026" stop-color="#202020"/><stop offset=".4091" stop-color="#0c0c0c"/><stop offset=".4156" stop-color="#020202"/><stop offset=".4221" stop-color="#454545"/><stop offset=".4286" stop-color="#070707"/><stop offset=".4351" stop-color="#000000"/><stop offset=".4416" stop-color="#252525"/><stop offset=".4481" stop-color="#b6b6b6"/><stop offset=".4545" stop-color="#acacac"/><stop offset=".461" stop-color="#1f1f1f"/><stop offset=".4675" stop-color="#000000"/><stop offset=".474" stop-color="#000000"/><stop offset=".4805" stop-color="#151515"/><stop offset=".487" stop-color="#484848"/><stop offset=".4935" stop-color="#1c1c1c"/><stop offset=".5" stop-color="#020202"/><stop offset=".5065" stop-color="#191919"/><stop offset=".513" stop-color="#010101"/><stop offset=".5195" stop-color="#282828"/><stop offset=".526" stop-color="#010101"/><stop offset=".5325" stop-color="#252525"/><stop offset=".539" stop-color="#7a7a7a"/><stop offset=".5455" stop-color="#3f3f3f"/><stop offset=".5519" stop-color="#030303"/><stop offset=".5584" stop-color="#2a2a2a"/><stop offset=".5649" stop-color="#414141"/><stop offset=".5714" stop-color="#323232"/><stop offset=".5779" stop-color="#000000"/><stop offset=".5844" stop-color="#010101"/><stop offset=".5909" stop-color="#a4a4a4"/><stop offset=".5974" stop-color="#e0e0e0"/><stop offset=".6039" stop-color="#505050"/><stop offset=".6104" stop-color="#010101"/><stop offset=".6169" stop-color="#000000"/><stop offset=".6234" stop-color="#1a1a1a"/><stop offset=".6299" stop-color="#767676"/><stop offset=".6364" stop-color="#242424"/><stop offset=".6429" stop-color="#010101"/><stop offset=".6494" stop-color="#050505"/><stop offset=".6558" stop-color="#2e2e2e"/><stop offset=".6623" stop-color="#4c4c4c"/><stop offset=".6688" stop-color="#1b1b1b"/><stop offset=".6753" stop-color="#000000"/><stop offset=".6818" stop-color="#282828"/><stop offset=".6883" stop-color="#a5a5a5"/><stop offset=".6948" stop-color="#181818"/><stop offset=".7013" stop-color="#0c0c0c"/><stop offset=".7078" stop-color="#000000"/><stop offset=".7208" stop-color="#000000"/><stop offset=".7273" stop-color="#3a3a3a"/><stop offset=".7338" stop-color="#000000"/><stop offset=".7403" stop-color="#1c1c1c"/><stop offset=".7468" stop-color="#4f4f4f"/><stop offset=".7532" stop-color="#0e0e0e"/><stop offset=".7597" stop-color="#020202"/><stop offset=".7662" stop-color="#1c1c1c"/><stop offset=".7727" stop-color="#010101"/><stop offset=".7792" stop-color="#070707"/><stop offset=".7857" stop-color="#070707"/><stop offset=".7922" stop-color="#010101"/><stop offset=".7987" stop-color="#000000"/><stop offset=".8052" stop-color="#3a3a3a"/><stop offset=".8117" stop-color="#020202"/><stop offset=".8182" stop-color="#000000"/><stop offset=".8247" stop-color="#0c0c0c"/><stop offset=".8312" stop-color="#0a0a0a"/><stop offset=".8377" stop-color="#040404"/><stop offset=".8442" stop-color="#181818"/><stop offset=".8506" stop-color="#151515"/><stop offset=".8571" stop-color="#000000"/><stop offset=".8636" stop-color="#000000"/><stop offset=".8701" stop-color="#0d0d0d"/><stop offset=".8766" stop-color="#181818"/><stop offset=".8831" stop-color="#121212"/><stop offset=".8896" stop-color="#000000"/><stop offset=".8961" stop-color="#000000"/><stop offset=".9026" stop-color="#010101"/><stop offset=".9091" stop-color="#000000"/><stop offset=".9221" stop-color="#000000"/><stop offset=".9286" stop-color="#060606"/><stop offset=".9351" stop-color="#171717"/><stop offset=".9416" stop-color="#0e0e0e"/><stop offset=".9481" stop-color="#282828"/><stop offset=".9545" stop-color="#575757"/><stop offset=".961" stop-color="#141414"/><stop offset=".9675" stop-color="#262626"/><stop offset=".974" stop-color="#252525"/><stop offset=".9805" stop-color="#020202"/><stop offset=".987" stop-color="#000000"/><stop offset=".9935" stop-color="#2e2e2e"/><stop offset="1" stop-color="#919191"/></linearGradient>
<linearGradient id="r20" gradientUnits="userSpaceOnUse" x1="244.3" x2="2013.1" y1="0" y2="0"><stop offset="0" stop-color="#000000"/><stop offset=".026" stop-color="#000000"/><stop offset=".0325" stop-color="#040404"/><stop offset=".039" stop-color="#666666"/><stop offset=".0455" stop-color="#ffffff"/><stop offset=".0519" stop-color="#030303"/><stop offset=".0584" stop-color="#1b1b1b"/><stop offset=".0649" stop-color="#000000"/><stop offset=".0714" stop-color="#474747"/><stop offset=".0779" stop-color="#f6f6f6"/><stop offset=".0844" stop-color="#323232"/><stop offset=".0909" stop-color="#000000"/><stop offset=".1104" stop-color="#000000"/><stop offset=".1169" stop-color="#040404"/><stop offset=".1234" stop-color="#c6c6c6"/><stop offset=".1299" stop-color="#e3e3e3"/><stop offset=".1364" stop-color="#303030"/><stop offset=".1429" stop-color="#000000"/><stop offset=".1494" stop-color="#010101"/><stop offset=".1558" stop-color="#010101"/><stop offset=".1623" stop-color="#000000"/><stop offset=".1688" stop-color="#515151"/><stop offset=".1753" stop-color="#eaeaea"/><stop offset=".1818" stop-color="#4e4e4e"/><stop offset=".1883" stop-color="#333333"/><stop offset=".1948" stop-color="#5a5a5a"/><stop offset=".2013" stop-color="#b6b6b6"/><stop offset=".2078" stop-color="#c5c5c5"/><stop offset=".2143" stop-color="#010101"/><stop offset=".2208" stop-color="#1d1d1d"/><stop offset=".2273" stop-color="#5d5d5d"/><stop offset=".2338" stop-color="#ececec"/><stop offset=".2403" stop-color="#ffffff"/><stop offset=".2468" stop-color="#262626"/><stop offset=".2532" stop-color="#444444"/><stop offset=".2597" stop-color="#010101"/><stop offset=".2662" stop-color="#5d5d5d"/><stop offset=".2727" stop-color="#f7f7f7"/><stop offset=".2792" stop-color="#bcbcbc"/><stop offset=".2857" stop-color="#010101"/><stop offset=".2922" stop-color="#000000"/><stop offset=".2987" stop-color="#0a0a0a"/><stop offset=".3052" stop-color="#838383"/><stop offset=".3117" stop-color="#9c9c9c"/><stop offset=".3182" stop-color="#0f0f0f"/><stop offset=".3247" stop-color="#000000"/><stop offset=".3312" stop-color="#484848"/><stop offset=".3377" stop-color="#f0f0f0"/><stop offset=".3442" stop-color="#1f1f1f"/><stop offset=".3506" stop-color="#161616"/><stop offset=".3571" stop-color="#5c5c5c"/><stop offset=".3636" stop-color="#8f8f8f"/><stop offset=".3701" stop-color="#ffffff"/><stop offset=".3766" stop-color="#010101"/><stop offset=".3831" stop-color="#000000"/><stop offset=".3896" stop-color="#000000"/><stop offset=".3961" stop-color="#5d5d5d"/><stop offset=".4026" stop-color="#787878"/><stop offset=".4091" stop-color="#282828"/><stop offset=".4156" stop-color="#010101"/><stop offset=".4221" stop-color="#343434"/><stop offset=".4286" stop-color="#020202"/><stop offset=".4351" stop-color="#000000"/><stop offset=".4416" stop-color="#484848"/><stop offset=".4481" stop-color="#fbfbfb"/><stop offset=".4545" stop-color="#f8f8f8"/><stop offset=".461" stop-color="#171717"/><stop offset=".4675" stop-color="#000000"/><stop offset=".474" stop-color="#000000"/><stop offset=".4805" stop-color="#363636"/><stop offset=".487" stop-color="#b5b5b5"/><stop offset=".4935" stop-color="#373737"/><stop offset=".5" stop-color="#030303"/><stop offset=".5065" stop-color="#080808"/><stop offset=".513" stop-color="#020202"/><stop offset=".5195" stop-color="#2a2a2a"/><stop offset=".526" stop-color="#010101"/><stop offset=".5325" stop-color="#4f4f4f"/><stop offset=".539" stop-color="#e0e0e0"/><stop offset=".5455" stop-color="#5d5d5d"/><stop offset=".5519" stop-color="#010101"/><stop offset=".5584" stop-color="#5e5e5e"/><stop offset=".5649" stop-color="#acacac"/><stop offset=".5714" stop-color="#656565"/><stop offset=".5779" stop-color="#000000"/><stop offset=".5844" stop-color="#010101"/><stop offset=".5909" stop-color="#999999"/><stop offset=".5974" stop-color="#ffffff"/><stop offset=".6039" stop-color="#5a5a5a"/><stop offset=".6104" stop-color="#000000"/><stop offset=".6169" stop-color="#000000"/><stop offset=".6234" stop-color="#393939"/><stop offset=".6299" stop-color="#b7b7b7"/><stop offset=".6364" stop-color="#2d2d2d"/><stop offset=".6429" stop-color="#000000"/><stop offset=".6494" stop-color="#010101"/><stop offset=".6558" stop-color="#606060"/><stop offset=".6623" stop-color="#a6a6a6"/><stop offset=".6688" stop-color="#343434"/><stop offset=".6753" stop-color="#000000"/><stop offset=".6818" stop-color="#484848"/><stop offset=".6883" stop-color="#f3f3f3"/><stop offset=".6948" stop-color="#323232"/><stop offset=".7013" stop-color="#1d1d1d"/><stop offset=".7078" stop-color="#000000"/><stop offset=".7208" stop-color="#000000"/><stop offset=".7273" stop-color="#232323"/><stop offset=".7338" stop-color="#000000"/><stop offset=".7403" stop-color="#3c3c3c"/><stop offset=".7468" stop-color="#bbbbbb"/><stop offset=".7532" stop-color="#292929"/><stop offset=".7597" stop-color="#030303"/><stop offset=".7662" stop-color="#373737"/><stop offset=".7727" stop-color="#070707"/><stop offset=".7792" stop-color="#1f1f1f"/><stop offset=".7857" stop-color="#141414"/><stop offset=".7922" stop-color="#020202"/><stop offset=".7987" stop-color="#030303"/><stop offset=".8052" stop-color="#585858"/><stop offset=".8117" stop-color="#010101"/><stop offset=".8182" stop-color="#000000"/><stop offset=".8247" stop-color="#040404"/><stop offset=".8312" stop-color="#040404"/><stop offset=".8377" stop-color="#0f0f0f"/><stop offset=".8442" stop-color="#717171"/><stop offset=".8506" stop-color="#3c3c3c"/><stop offset=".8571" stop-color="#000000"/><stop offset=".8636" stop-color="#000000"/><stop offset=".8701" stop-color="#2b2b2b"/><stop offset=".8766" stop-color="#6d6d6d"/><stop offset=".8831" stop-color="#2f2f2f"/><stop offset=".8896" stop-color="#000000"/><stop offset=".8961" stop-color="#000000"/><stop offset=".9026" stop-color="#0a0a0a"/><stop offset=".9091" stop-color="#010101"/><stop offset=".9156" stop-color="#000000"/><stop offset=".9221" stop-color="#000000"/><stop offset=".9286" stop-color="#171717"/><stop offset=".9351" stop-color="#5e5e5e"/><stop offset=".9416" stop-color="#1e1e1e"/><stop offset=".9481" stop-color="#585858"/><stop offset=".9545" stop-color="#c8c8c8"/><stop offset=".961" stop-color="#3e3e3e"/><stop offset=".9675" stop-color="#353535"/><stop offset=".974" stop-color="#252525"/><stop offset=".9805" stop-color="#020202"/><stop offset=".987" stop-color="#000000"/><stop offset=".9935" stop-color="#5d5d5d"/><stop offset="1" stop-color="#e4e4e4"/></linearGradient>
<linearGradient id="r21" gradientUnits="userSpaceOnUse" x1="244.3" x2="2013.1" y1="0" y2="0"><stop offset="0" stop-color="#000000"/><stop offset=".026" stop-color="#000000"/><stop offset=".0325" stop-color="#050505"/><stop offset=".039" stop-color="#818181"/><stop offset=".0455" stop-color="#e7e7e7"/><stop offset=".0519" stop-color="#040404"/><stop offset=".0584" stop-color="#080808"/><stop offset=".0649" stop-color="#000000"/><stop offset=".0714" stop-color="#6a6a6a"/><stop offset=".0779" stop-color="#ffffff"/><stop offset=".0844" stop-color="#303030"/><stop offset=".0909" stop-color="#000000"/><stop offset=".1039" stop-color="#000000"/><stop offset=".1104" stop-color="#020202"/><stop offset=".1169" stop-color="#030303"/><stop offset=".1234" stop-color="#f3f3f3"/><stop offset=".1299" stop-color="#ffffff"/><stop offset=".1364" stop-color="#303030"/><stop offset=".1429" stop-color="#000000"/><stop offset=".1494" stop-color="#0c0c0c"/><stop offset=".1558" stop-color="#020202"/><stop offset=".1623" stop-color="#010101"/><stop offset=".1688" stop-color="#a7a7a7"/><stop offset=".1753" stop-color="#ffffff"/><stop offset=".1818" stop-color="#2f2f2f"/><stop offset=".1883" stop-color="#191919"/><stop offset=".1948" stop-color="#373737"/><stop offset=".2013" stop-color="#9f9f9f"/><stop offset=".2078" stop-color="#e6e6e6"/><stop offset=".2143" stop-color="#010101"/><stop offset=".2208" stop-color="#272727"/><stop offset=".2273" stop-color="#747474"/><stop offset=".2338" stop-color="#f8f8f8"/><stop offset=".2403" stop-color="#ffffff"/><stop offset=".2468" stop-color="#141414"/><stop offset=".2532" stop-color="#191919"/><stop offset=".2597" stop-color="#010101"/><stop offset=".2662" stop-color="#747474"/><stop offset=".2727" stop-color="#ffffff"/><stop offset=".2792" stop-color="#f7f7f7"/><stop offset=".2857" stop-color="#010101"/><stop offset=".2922" stop-color="#000000"/><stop offset=".2987" stop-color="#030303"/><stop offset=".3052" stop-color="#7b7b7b"/><stop offset=".3117" stop-color="#efefef"/><stop offset=".3182" stop-color="#292929"/><stop offset=".3247" stop-color="#000000"/><stop offset=".3312" stop-color="#525252"/><stop offset=".3377" stop-color="#f9f9f9"/><stop offset=".3442" stop-color="#080808"/><stop offset=".3506" stop-color="#050505"/><stop offset=".3571" stop-color="#5a5a5a"/><stop offset=".3636" stop-color="#cacaca"/><stop offset=".3701" stop-color="#eaeaea"/><stop offset=".3766" stop-color="#010101"/><stop offset=".3831" stop-color="#000000"/><stop offset=".3896" stop-color="#010101"/><stop offset=".3961" stop-color="#8f8f8f"/><stop offset=".4026" stop-color="#e2e2e2"/><stop offset=".4091" stop-color="#484848"/><stop offset=".4156" stop-color="#010101"/><stop offset=".4221" stop-color="#242424"/><stop offset=".4286" stop-color="#010101"/><stop offset=".4351" stop-color="#000000"/><stop offset=".4416" stop-color="#5a5a5a"/><stop offset=".4481" stop-color="#fafafa"/><stop offset=".4545" stop-color="#ffffff"/><stop offset=".461" stop-color="#090909"/><stop offset=".4675" stop-color="#000000"/><stop offset=".474" stop-color="#000000"/><stop offset=".4805" stop-color="#515151"/><stop offset=".487" stop-color="#f2f2f2"/><stop offset=".4935" stop-color="#404040"/><stop offset=".5" stop-color="#030303"/><stop offset=".5065" stop-color="#030303"/><stop offset=".513" stop-color="#040404"/><stop offset=".5195" stop-color="#191919"/><stop offset=".526" stop-color="#000000"/><stop offset=".5325" stop-color="#6b6b6b"/><stop offset=".539" stop-color="#ffffff"/><stop offset=".5455" stop-color="#5d5d5d"/><stop offset=".5519" stop-color="#010101"/><stop offset=".5584" stop-color="#909090"/><stop offset=".5649" stop-color="#fafafa"/><stop offset=".5714" stop-color="#8b8b8b"/><stop offset=".5779" stop-color="#010101"/><stop offset=".5844" stop-color="#000000"/><stop offset=".5909" stop-color="#656565"/><stop offset=".5974" stop-color="#e2e2e2"/><stop offset=".6039" stop-color="#484848"/><stop offset=".6104" stop-color="#000000"/><stop offset=".6169" stop-color="#000000"/><stop offset=".6234" stop-color="#515151"/><stop offset=".6299" stop-color="#f3f3f3"/><stop offset=".6364" stop-color="#333333"/><stop offset=".6429" stop-color="#000000"/><stop offset=".6494" stop-color="#010101"/><stop offset=".6558" stop-color="#898989"/><stop offset=".6623" stop-color="#efefef"/><stop offset=".6688" stop-color="#414141"/><stop offset=".6753" stop-color="#010101"/><stop offset=".6818" stop-color="#525252"/><stop offset=".6883" stop-color="#fafafa"/><stop offset=".6948" stop-color="#414141"/><stop offset=".7013" stop-color="#262626"/><stop offset=".7078" stop-color="#000000"/><stop offset=".7208" stop-color="#000000"/><stop offset=".7273" stop-color="#111111"/><stop offset=".7338" stop-color="#000000"/><stop offset=".7403" stop-color="#4d4d4d"/><stop offset=".7468" stop-color="#f5f5f5"/><stop offset=".7532" stop-color="#474747"/><stop offset=".7597" stop-color="#050505"/><stop offset=".7662" stop-color="#545454"/><stop offset=".7727" stop-color="#111111"/><stop offset=".7792" stop-color="#383838"/><stop offset=".7857" stop-color="#181818"/><stop offset=".7922" stop-color="#010101"/><stop offset=".7987" stop-color="#070707"/><stop offset=".8052" stop-color="#232323"/><stop offset=".8117" stop-color="#000000"/><stop offset=".8182" stop-color="#000000"/><stop offset=".8247" stop-color="#010101"/><stop offset=".8312" stop-color="#090909"/><stop offset=".8377" stop-color="#1d1d1d"/><stop offset=".8442" stop-color="#dedede"/><stop offset=".8506" stop-color="#6a6a6a"/><stop offset=".8571" stop-color="#000000"/><stop offset=".8636" stop-color="#000000"/><stop offset=".8701" stop-color="#535353"/><stop offset=".8766" stop-color="#dbdbdb"/><stop offset=".8831" stop-color="#4a4a4a"/><stop offset=".8896" stop-color="#000000"/><stop offset=".8961" stop-color="#010101"/><stop offset=".9026" stop-color="#313131"/><stop offset=".9091" stop-color="#010101"/><stop offset=".9156" stop-color="#000000"/><stop offset=".9221" stop-color="#000000"/><stop offset=".9286" stop-color="#323232"/><stop offset=".9351" stop-color="#cfcfcf"/><stop offset=".9416" stop-color="#343434"/><stop offset=".9481" stop-color="#7e7e7e"/><stop offset=".9545" stop-color="#ffffff"/><stop offset=".961" stop-color="#868686"/><stop offset=".9675" stop-color="#252525"/><stop offset=".974" stop-color="#131313"/><stop offset=".9805" stop-color="#010101"/><stop offset=".987" stop-color="#000000"/><stop offset=".9935" stop-color="#7e7e7e"/><stop offset="1" stop-color="#ffffff"/></linearGradient>
<linearGradient id="r22" gradientUnits="userSpaceOnUse" x1="244.3" x2="2013.1" y1="0" y2="0"><stop offset="0" stop-color="#000000"/><stop offset=".026" stop-color="#000000"/><stop offset=".0325" stop-color="#040404"/><stop offset=".039" stop-color="#606060"/><stop offset=".0455" stop-color="#919191"/><stop offset=".0519" stop-color="#020202"/><stop offset=".0584" stop-color="#010101"/><stop offset=".0649" stop-color="#000000"/><stop offset=".0714" stop-color="#5d5d5d"/><stop offset=".0779" stop-color="#d7d7d7"/><stop offset=".0844" stop-color="#1c1c1c"/><stop offset=".0909" stop-color="#000000"/><stop offset=".1039" stop-color="#000000"/><stop offset=".1104" stop-color="#090909"/><stop offset=".1169" stop-color="#030303"/><stop offset=".1234" stop-color="#dfdfdf"/><stop offset=".1299" stop-color="#ffffff"/><stop offset=".1364" stop-color="#191919"/><stop offset=".1429" stop-color="#000000"/><stop offset=".1494" stop-color="#313131"/><stop offset=".1558" stop-color="#020202"/><stop offset=".1623" stop-color="#010101"/><stop offset=".1688" stop-color="#d8d8d8"/><stop offset=".1753" stop-color="#e8e8e8"/><stop offset=".1818" stop-color="#0b0b0b"/><stop offset=".1883" stop-color="#050505"/><stop offset=".1948" stop-color="#0c0c0c"/><stop offset=".2013" stop-color="#3f3f3f"/><stop offset=".2078" stop-color="#b0b0b0"/><stop offset=".2143" stop-color="#010101"/><stop offset=".2208" stop-color="#1d1d1d"/><stop offset=".2273" stop-color="#5d5d5d"/><stop offset=".2338" stop-color="#d4d4d4"/><stop offset=".2403" stop-color="#d5d5d5"/><stop offset=".2468" stop-color="#070707"/><stop offset=".2532" stop-color="#040404"/><stop offset=".2597" stop-color="#000000"/><stop offset=".2662" stop-color="#5a5a5a"/><stop offset=".2727" stop-color="#dedede"/><stop offset=".2792" stop-color="#ffffff"/><stop offset=".2857" stop-color="#010101"/><stop offset=".2922" stop-color="#000000"/><stop offset=".2987" stop-color="#010101"/><stop offset=".3052" stop-color="#696969"/><stop offset=".3117" stop-color="#ffffff"/><stop offset=".3182" stop-color="#444444"/><stop offset=".3247" stop-color="#000000"/><stop offset=".3312" stop-color="#393939"/><stop offset=".3377" stop-color="#a1a1a1"/><stop offset=".3442" stop-color="#020202"/><stop offset=".3506" stop-color="#010101"/><stop offset=".3571" stop-color="#393939"/><stop offset=".3636" stop-color="#bbbbbb"/><stop offset=".3701" stop-color="#919191"/><stop offset=".3766" stop-color="#010101"/><stop offset=".3831" stop-color="#000000"/><stop offset=".3896" stop-color="#010101"/><stop offset=".3961" stop-color="#959595"/><stop offset=".4026" stop-color="#ffffff"/><stop offset=".4091" stop-color="#484848"/><stop offset=".4156" stop-color="#010101"/><stop offset=".4221" stop-color="#171717"/><stop offset=".4286" stop-color="#000000"/><stop offset=".4351" stop-color="#000000"/><stop offset=".4416" stop-color="#484848"/><stop offset=".4481" stop-color="#adadad"/><stop offset=".4545" stop-color="#cfcfcf"/><stop offset=".461" stop-color="#020202"/><stop offset=".4675" stop-color="#000000"/><stop offset=".474" stop-color="#000000"/><stop offset=".4805" stop-color="#4a4a4a"/><stop offset=".487" stop-color="#cccccc"/><stop offset=".4935" stop-color="#2d2d2d"/><stop offset=".5" stop-color="#0b0b0b"/><stop offset=".5065" stop-color="#030303"/><stop offset=".513" stop-color="#050505"/><stop offset=".5195" stop-color="#0a0a0a"/><stop offset=".526" stop-color="#000000"/><stop offset=".5325" stop-color="#5e5e5e"/><stop offset=".539" stop-color="#cccccc"/><stop offset=".5455" stop-color="#3c3c3c"/><stop offset=".5519" stop-color="#010101"/><stop offset=".5584" stop-color="#959595"/><stop offset=".5649" stop-color="#f3f3f3"/><stop offset=".5714" stop-color="#808080"/><stop offset=".5779" stop-color="#000000"/><stop offset=".5844" stop-color="#000000"/><stop offset=".5909" stop-color="#2f2f2f"/><stop offset=".5974" stop-color="#878787"/><stop offset=".6039" stop-color="#2b2b2b"/><stop offset=".6104" stop-color="#000000"/><stop offset=".6169" stop-color="#000000"/><stop offset=".6234" stop-color="#4a4a4a"/><stop offset=".6299" stop-color="#dfdfdf"/><stop offset=".6364" stop-color="#242424"/><stop offset=".6429" stop-color="#000000"/><stop offset=".6494" stop-color="#010101"/><stop offset=".6558" stop-color="#848484"/><stop offset=".6623" stop-color="#f6f6f6"/><stop offset=".6688" stop-color="#343434"/><stop offset=".6753" stop-color="#000000"/><stop offset=".6818" stop-color="#3c3c3c"/><stop offset=".6883" stop-color="#b0b0b0"/><stop offset=".6948" stop-color="#323232"/><stop offset=".7013" stop-color="#1d1d1d"/><stop offset=".7078" stop-color="#010101"/><stop offset=".7143" stop-color="#010101"/><stop offset=".7208" stop-color="#000000"/><stop offset=".7273" stop-color="#060606"/><stop offset=".7338" stop-color="#000000"/><stop offset=".7403" stop-color="#3c3c3c"/><stop offset=".7468" stop-color="#cecece"/><stop offset=".7532" stop-color="#4a4a4a"/><stop offset=".7597" stop-color="#060606"/><stop offset=".7662" stop-color="#636363"/><stop offset=".7727" stop-color="#131313"/><stop offset=".7792" stop-color="#282828"/><stop offset=".7857" stop-color="#0b0b0b"/><stop offset=".7922" stop-color="#000000"/><stop offset=".7987" stop-color="#040404"/><stop offset=".8052" stop-color="#040404"/><stop offset=".8117" stop-color="#000000"/><stop offset=".8247" stop-color="#000000"/><stop offset=".8312" stop-color="#131313"/><stop offset=".8377" stop-color="#1d1d1d"/><stop offset=".8442" stop-color="#dbdbdb"/><stop offset=".8506" stop-color="#6e6e6e"/><stop offset=".8571" stop-color="#000000"/><stop offset=".8636" stop-color="#000000"/><stop offset=".8701" stop-color="#616161"/><stop offset=".8766" stop-color="#e6e6e6"/><stop offset=".8831" stop-color="#474747"/><stop offset=".8896" stop-color="#000000"/><stop offset=".8961" stop-color="#040404"/><stop offset=".9026" stop-color="#4d4d4d"/><stop offset=".9091" stop-color="#000000"/><stop offset=".9221" stop-color="#000000"/><stop offset=".9286" stop-color="#414141"/><stop offset=".9351" stop-color="#fafafa"/><stop offset=".9416" stop-color="#373737"/><stop offset=".9481" stop-color="#737373"/><stop offset=".9545" stop-color="#d9d9d9"/><stop offset=".961" stop-color="#bdbdbd"/><stop offset=".9675" stop-color="#0e0e0e"/><stop offset=".974" stop-color="#050505"/><stop offset=".9805" stop-color="#000000"/><stop offset=".987" stop-color="#000000"/><stop offset=".9935" stop-color="#737373"/><stop offset="1" stop-color="#dcdcdc"/></linearGradient>
<linearGradient id="r23" gradientUnits="userSpaceOnUse" x1="244.3" x2="2013.1" y1="0" y2="0"><stop offset="0" stop-color="#000000"/><stop offset=".026" stop-color="#000000"/><stop offset=".0325" stop-color="#060606"/><stop offset=".039" stop-color="#282828"/><stop offset=".0455" stop-color="#353535"/><stop offset=".0519" stop-color="#010101"/><stop offset=".0584" stop-color="#000000"/><stop offset=".0649" stop-color="#000000"/><stop offset=".0714" stop-color="#2e2e2e"/><stop offset=".0779" stop-color="#858585"/><stop offset=".0844" stop-color="#0c0c0c"/><stop offset=".0909" stop-color="#000000"/><stop offset=".0974" stop-color="#010101"/><stop offset=".1039" stop-color="#000000"/><stop offset=".1104" stop-color="#171717"/><stop offset=".1169" stop-color="#010101"/><stop offset=".1234" stop-color="#7d7d7d"/><stop offset=".1299" stop-color="#ffffff"/><stop offset=".1364" stop-color="#070707"/><stop offset=".1429" stop-color="#020202"/><stop offset=".1494" stop-color="#2b2b2b"/><stop offset=".1558" stop-color="#000000"/><stop offset=".1623" stop-color="#010101"/><stop offset=".1688" stop-color="#d0d0d0"/><stop offset=".1753" stop-color="#919191"/><stop offset=".1818" stop-color="#010101"/><stop offset=".1883" stop-color="#000000"/><stop offset=".1948" stop-color="#010101"/><stop offset=".2013" stop-color="#0a0a0a"/><stop offset=".2078" stop-color="#474747"/><stop offset=".2143" stop-color="#000000"/><stop offset=".2208" stop-color="#0c0c0c"/><stop offset=".2273" stop-color="#303030"/><stop offset=".2338" stop-color="#797979"/><stop offset=".2403" stop-color="#8d8d8d"/><stop offset=".2468" stop-color="#020202"/><stop offset=".2532" stop-color="#000000"/><stop offset=".2597" stop-color="#000000"/><stop offset=".2662" stop-color="#2a2a2a"/><stop offset=".2727" stop-color="#7b7b7b"/><stop offset=".2792" stop-color="#ededed"/><stop offset=".2857" stop-color="#010101"/><stop offset=".2922" stop-color="#000000"/><stop offset=".2987" stop-color="#000000"/><stop offset=".3052" stop-color="#3d3d3d"/><stop offset=".3117" stop-color="#e3e3e3"/><stop offset=".3182" stop-color="#444444"/><stop offset=".3247" stop-color="#000000"/><stop offset=".3312" stop-color="#181818"/><stop offset=".3377" stop-color="#343434"/><stop offset=".3442" stop-color="#000000"/><stop offset=".3506" stop-color="#000000"/><stop offset=".3571" stop-color="#141414"/><stop offset=".3636" stop-color="#6a6a6a"/><stop offset=".3701" stop-color="#353535"/><stop offset=".3766" stop-color="#000000"/><stop offset=".3896" stop-color="#000000"/><stop offset=".3961" stop-color="#696969"/><stop offset=".4026" stop-color="#d1d1d1"/><stop offset=".4091" stop-color="#282828"/><stop offset=".4156" stop-color="#000000"/><stop offset=".4221" stop-color="#0d0d0d"/><stop offset=".4286" stop-color="#000000"/><stop offset=".4351" stop-color="#000000"/><stop offset=".4416" stop-color="#262626"/><stop offset=".4481" stop-color="#3f3f3f"/><stop offset=".4545" stop-color="#7d7d7d"/><stop offset=".461" stop-color="#010101"/><stop offset=".4675" stop-color="#000000"/><stop offset=".474" stop-color="#010101"/><stop offset=".4805" stop-color="#2c2c2c"/><stop offset=".487" stop-color="#626262"/><stop offset=".4935" stop-color="#131313"/><stop offset=".5" stop-color="#1f1f1f"/><stop offset=".5065" stop-color="#020202"/><stop offset=".513" stop-color="#040404"/><stop offset=".5195" stop-color="#020202"/><stop offset=".526" stop-color="#000000"/><stop offset=".5325" stop-color="#343434"/><stop offset=".539" stop-color="#5e5e5e"/><stop offset=".5455" stop-color="#191919"/><stop offset=".5519" stop-color="#000000"/><stop offset=".5584" stop-color="#696969"/><stop offset=".5649" stop-color="#9b9b9b"/><stop offset=".5714" stop-color="#505050"/><stop offset=".5779" stop-color="#000000"/><stop offset=".5844" stop-color="#000000"/><stop offset=".5909" stop-color="#101010"/><stop offset=".5974" stop-color="#313131"/><stop offset=".6039" stop-color="#131313"/><stop offset=".6104" stop-color="#000000"/><stop offset=".6169" stop-color="#000000"/><stop offset=".6234" stop-color="#2b2b2b"/><stop offset=".6299" stop-color="#7f7f7f"/><stop offset=".6364" stop-color="#0f0f0f"/><stop offset=".6429" stop-color="#000000"/><stop offset=".6494" stop-color="#000000"/><stop offset=".6558" stop-color="#565656"/><stop offset=".6623" stop-color="#b8b8b8"/><stop offset=".6688" stop-color="#1b1b1b"/><stop offset=".6753" stop-color="#000000"/><stop offset=".6818" stop-color="#1c1c1c"/><stop offset=".6883" stop-color="#4c4c4c"/><stop offset=".6948" stop-color="#181818"/><stop offset=".7013" stop-color="#0c0c0c"/><stop offset=".7078" stop-color="#090909"/><stop offset=".7143" stop-color="#030303"/><stop offset=".7208" stop-color="#000000"/><stop offset=".7273" stop-color="#020202"/><stop offset=".7338" stop-color="#010101"/><stop offset=".7403" stop-color="#1c1c1c"/><stop offset=".7468" stop-color="#636363"/><stop offset=".7532" stop-color="#2f2f2f"/><stop offset=".7597" stop-color="#050505"/><stop offset=".7662" stop-color="#5a5a5a"/><stop offset=".7727" stop-color="#080808"/><stop offset=".7792" stop-color="#0b0b0b"/><stop offset=".7857" stop-color="#020202"/><stop offset=".7922" stop-color="#000000"/><stop offset=".8182" stop-color="#000000"/><stop offset=".8247" stop-color="#010101"/><stop offset=".8312" stop-color="#232323"/><stop offset=".8377" stop-color="#0f0f0f"/><stop offset=".8442" stop-color="#616161"/><stop offset=".8506" stop-color="#414141"/><stop offset=".8571" stop-color="#000000"/><stop offset=".8636" stop-color="#000000"/><stop offset=".8701" stop-color="#444444"/><stop offset=".8766" stop-color="#777777"/><stop offset=".8831" stop-color="#282828"/><stop offset=".8896" stop-color="#000000"/><stop offset=".8961" stop-color="#0b0b0b"/><stop offset=".9026" stop-color="#272727"/><stop offset=".9091" stop-color="#000000"/><stop offset=".9156" stop-color="#000000"/><stop offset=".9221" stop-color="#010101"/><stop offset=".9286" stop-color="#323232"/><stop offset=".9351" stop-color="#bbbbbb"/><stop offset=".9416" stop-color="#232323"/><stop offset=".9481" stop-color="#444444"/><stop offset=".9545" stop-color="#656565"/><stop offset=".961" stop-color="#b0b0b0"/><stop offset=".9675" stop-color="#030303"/><stop offset=".974" stop-color="#010101"/><stop offset=".9805" stop-color="#000000"/><stop offset=".987" stop-color="#000000"/><stop offset=".9935" stop-color="#444444"/><stop offset="1" stop-color="#7c7c7c"/></linearGradient>
<linearGradient id="r24" gradientUnits="userSpaceOnUse" x1="244.3" x2="2013.1" y1="0" y2="0"><stop offset="0" stop-color="#000000"/><stop offset=".026" stop-color="#000000"/><stop offset=".0325" stop-color="#101010"/><stop offset=".039" stop-color="#0a0a0a"/><stop offset=".0455" stop-color="#0a0a0a"/><stop offset=".0519" stop-color="#000000"/><stop offset=".0649" stop-color="#000000"/><stop offset=".0714" stop-color="#0d0d0d"/><stop offset=".0779" stop-color="#4e4e4e"/><stop offset=".0844" stop-color="#040404"/><stop offset=".0909" stop-color="#000000"/><stop offset=".0974" stop-color="#020202"/><stop offset=".1039" stop-color="#010101"/><stop offset=".1104" stop-color="#1d1d1d"/><stop offset=".1169" stop-color="#000000"/><stop offset=".1234" stop-color="#212121"/><stop offset=".1299" stop-color="#d2d2d2"/><stop offset=".1364" stop-color="#020202"/><stop offset=".1429" stop-color="#020202"/><stop offset=".1494" stop-color="#080808"/><stop offset=".1558" stop-color="#000000"/><stop offset=".1623" stop-color="#010101"/><stop offset=".1688" stop-color="#9a9a9a"/><stop offset=".1753" stop-color="#363636"/><stop offset=".1818" stop-color="#000000"/><stop offset=".1948" stop-color="#000000"/><stop offset=".2013" stop-color="#010101"/><stop offset=".2078" stop-color="#0d0d0d"/><stop offset=".2143" stop-color="#000000"/><stop offset=".2208" stop-color="#030303"/><stop offset=".2273" stop-color="#101010"/><stop offset=".2338" stop-color="#282828"/><stop offset=".2403" stop-color="#676767"/><stop offset=".2468" stop-color="#000000"/><stop offset=".2597" stop-color="#000000"/><stop offset=".2662" stop-color="#0c0c0c"/><stop offset=".2727" stop-color="#252525"/><stop offset=".2792" stop-color="#ababab"/><stop offset=".2857" stop-color="#010101"/><stop offset=".2922" stop-color="#000000"/><stop offset=".2987" stop-color="#000000"/><stop offset=".3052" stop-color="#171717"/><stop offset=".3117" stop-color="#959595"/><stop offset=".3182" stop-color="#292929"/><stop offset=".3247" stop-color="#000000"/><stop offset=".3312" stop-color="#060606"/><stop offset=".3377" stop-color="#0a0a0a"/><stop offset=".3442" stop-color="#000000"/><stop offset=".3506" stop-color="#000000"/><stop offset=".3571" stop-color="#030303"/><stop offset=".3636" stop-color="#212121"/><stop offset=".3701" stop-color="#0b0b0b"/><stop offset=".3766" stop-color="#000000"/><stop offset=".3896" stop-color="#000000"/><stop offset=".3961" stop-color="#323232"/><stop offset=".4026" stop-color="#626262"/><stop offset=".4091" stop-color="#0d0d0d"/><stop offset=".4156" stop-color="#000000"/><stop offset=".4221" stop-color="#070707"/><stop offset=".4286" stop-color="#000000"/><stop offset=".4351" stop-color="#010101"/><stop offset=".4416" stop-color="#0e0e0e"/><stop offset=".4481" stop-color="#0a0a0a"/><stop offset=".4545" stop-color="#575757"/><stop offset=".461" stop-color="#000000"/><stop offset=".4675" stop-color="#000000"/><stop offset=".474" stop-color="#030303"/><stop offset=".4805" stop-color="#111111"/><stop offset=".487" stop-color="#181818"/><stop offset=".4935" stop-color="#060606"/><stop offset=".5" stop-color="#252525"/><stop offset=".5065" stop-color="#000000"/><stop offset=".513" stop-color="#020202"/><stop offset=".5195" stop-color="#010101"/><stop offset=".526" stop-color="#000000"/><stop offset=".5325" stop-color="#131313"/><stop offset=".539" stop-color="#161616"/><stop offset=".5455" stop-color="#060606"/><stop offset=".5519" stop-color="#000000"/><stop offset=".5584" stop-color="#323232"/><stop offset=".5649" stop-color="#383838"/><stop offset=".5714" stop-color="#222222"/><stop offset=".5779" stop-color="#000000"/><stop offset=".5844" stop-color="#000000"/><stop offset=".5909" stop-color="#040404"/><stop offset=".5974" stop-color="#0a0a0a"/><stop offset=".6039" stop-color="#060606"/><stop offset=".6104" stop-color="#000000"/><stop offset=".6169" stop-color="#000000"/><stop offset=".6234" stop-color="#101010"/><stop offset=".6299" stop-color="#292929"/><stop offset=".6364" stop-color="#040404"/><stop offset=".6429" stop-color="#010101"/><stop offset=".6494" stop-color="#000000"/><stop offset=".6558" stop-color="#262626"/><stop offset=".6623" stop-color="#5c5c5c"/><stop offset=".6688" stop-color="#090909"/><stop offset=".6753" stop-color="#000000"/><stop offset=".6818" stop-color="#080808"/><stop offset=".6883" stop-color="#191919"/><stop offset=".6948" stop-color="#080808"/><stop offset=".7013" stop-color="#030303"/><stop offset=".7078" stop-color="#252525"/><stop offset=".7143" stop-color="#030303"/><stop offset=".7208" stop-color="#000000"/><stop offset=".7273" stop-color="#000000"/><stop offset=".7338" stop-color="#020202"/><stop offset=".7403" stop-color="#080808"/><stop offset=".7468" stop-color="#191919"/><stop offset=".7532" stop-color="#121212"/><stop offset=".7597" stop-color="#040404"/><stop offset=".7662" stop-color="#404040"/><stop offset=".7727" stop-color="#020202"/><stop offset=".7792" stop-color="#020202"/><stop offset=".7857" stop-color="#010101"/><stop offset=".7922" stop-color="#000000"/><stop offset=".8182" stop-color="#000000"/><stop offset=".8247" stop-color="#020202"/><stop offset=".8312" stop-color="#3a3a3a"/><stop offset=".8377" stop-color="#040404"/><stop offset=".8442" stop-color="#0f0f0f"/><stop offset=".8506" stop-color="#151515"/><stop offset=".8571" stop-color="#000000"/><stop offset=".8636" stop-color="#000000"/><stop offset=".8701" stop-color="#1c1c1c"/><stop offset=".8766" stop-color="#181818"/><stop offset=".8831" stop-color="#0e0e0e"/><stop offset=".8896" stop-color="#000000"/><stop offset=".8961" stop-color="#090909"/><stop offset=".9026" stop-color="#060606"/><stop offset=".9091" stop-color="#000000"/><stop offset=".9156" stop-color="#050505"/><stop offset=".9221" stop-color="#010101"/><stop offset=".9286" stop-color="#171717"/><stop offset=".9351" stop-color="#4a4a4a"/><stop offset=".9416" stop-color="#0d0d0d"/><stop offset=".9481" stop-color="#191919"/><stop offset=".9545" stop-color="#161616"/><stop offset=".961" stop-color="#747474"/><stop offset=".9675" stop-color="#010101"/><stop offset=".974" stop-color="#000000"/><stop offset=".987" stop-color="#000000"/><stop offset=".9935" stop-color="#191919"/><stop offset="1" stop-color="#282828"/></linearGradient>
<linearGradient id="r25" gradientUnits="userSpaceOnUse" x1="244.3" x2="2013.1" y1="0" y2="0"><stop offset="0" stop-color="#000000"/><stop offset=".0195" stop-color="#000000"/><stop offset=".026" stop-color="#010101"/><stop offset=".0325" stop-color="#202020"/><stop offset=".039" stop-color="#020202"/><stop offset=".0455" stop-color="#010101"/><stop offset=".0519" stop-color="#000000"/><stop offset=".0649" stop-color="#000000"/><stop offset=".0714" stop-color="#030303"/><stop offset=".0779" stop-color="#3e3e3e"/><stop offset=".0844" stop-color="#010101"/><stop offset=".0909" stop-color="#000000"/><stop offset=".0974" stop-color="#060606"/><stop offset=".1039" stop-color="#040404"/><stop offset=".1104" stop-color="#131313"/><stop offset=".1169" stop-color="#000000"/><stop offset=".1234" stop-color="#040404"/><stop offset=".1299" stop-color="#8f8f8f"/><stop offset=".1364" stop-color="#010101"/><stop offset=".1429" stop-color="#000000"/><stop offset=".1623" stop-color="#000000"/><stop offset=".1688" stop-color="#505050"/><stop offset=".1753" stop-color="#0b0b0b"/><stop offset=".1818" stop-color="#000000"/><stop offset=".1883" stop-color="#000000"/><stop offset=".1948" stop-color="#030303"/><stop offset=".2013" stop-color="#030303"/><stop offset=".2078" stop-color="#010101"/><stop offset=".2143" stop-color="#000000"/><stop offset=".2208" stop-color="#010101"/><stop offset=".2273" stop-color="#030303"/><stop offset=".2338" stop-color="#070707"/><stop offset=".2403" stop-color="#666666"/><stop offset=".2468" stop-color="#000000"/><stop offset=".2532" stop-color="#010101"/><stop offset=".2597" stop-color="#000000"/><stop offset=".2662" stop-color="#020202"/><stop offset=".2727" stop-color="#060606"/><stop offset=".2792" stop-color="#777777"/><stop offset=".2857" stop-color="#000000"/><stop offset=".2922" stop-color="#000000"/><stop offset=".2987" stop-color="#030303"/><stop offset=".3052" stop-color="#060606"/><stop offset=".3117" stop-color="#666666"/><stop offset=".3182" stop-color="#0f0f0f"/><stop offset=".3247" stop-color="#000000"/><stop offset=".3312" stop-color="#010101"/><stop offset=".3377" stop-color="#111111"/><stop offset=".3442" stop-color="#000000"/><stop offset=".3571" stop-color="#000000"/><stop offset=".3636" stop-color="#050505"/><stop offset=".3701" stop-color="#010101"/><stop offset=".3766" stop-color="#000000"/><stop offset=".3896" stop-color="#000000"/><stop offset=".3961" stop-color="#101010"/><stop offset=".4026" stop-color="#171717"/><stop offset=".4091" stop-color="#050505"/><stop offset=".4156" stop-color="#030303"/><stop offset=".4221" stop-color="#050505"/><stop offset=".4286" stop-color="#000000"/><stop offset=".4351" stop-color="#060606"/><stop offset=".4416" stop-color="#050505"/><stop offset=".4481" stop-color="#010101"/><stop offset=".4545" stop-color="#4a4a4a"/><stop offset=".461" stop-color="#000000"/><stop offset=".4675" stop-color="#000000"/><stop offset=".474" stop-color="#0f0f0f"/><stop offset=".4805" stop-color="#050505"/><stop offset=".487" stop-color="#030303"/><stop offset=".4935" stop-color="#030303"/><stop offset=".5" stop-color="#131313"/><stop offset=".5065" stop-color="#000000"/><stop offset=".513" stop-color="#090909"/><stop offset=".5195" stop-color="#030303"/><stop offset=".526" stop-color="#000000"/><stop offset=".5325" stop-color="#040404"/><stop offset=".539" stop-color="#020202"/><stop offset=".5455" stop-color="#020202"/><stop offset=".5519" stop-color="#000000"/><stop offset=".5584" stop-color="#101010"/><stop offset=".5649" stop-color="#0a0a0a"/><stop offset=".5714" stop-color="#0a0a0a"/><stop offset=".5779" stop-color="#000000"/><stop offset=".5844" stop-color="#000000"/><stop offset=".5909" stop-color="#010101"/><stop offset=".6039" stop-color="#010101"/><stop offset=".6104" stop-color="#030303"/><stop offset=".6169" stop-color="#010101"/><stop offset=".6234" stop-color="#060606"/><stop offset=".6299" stop-color="#0b0b0b"/><stop offset=".6364" stop-color="#010101"/><stop offset=".6429" stop-color="#0b0b0b"/><stop offset=".6494" stop-color="#010101"/><stop offset=".6558" stop-color="#0b0b0b"/><stop offset=".6623" stop-color="#1d1d1d"/><stop offset=".6688" stop-color="#020202"/><stop offset=".6753" stop-color="#000000"/><stop offset=".6818" stop-color="#020202"/><stop offset=".6883" stop-color="#191919"/><stop offset=".6948" stop-color="#030303"/><stop offset=".7013" stop-color="#020202"/><stop offset=".7078" stop-color="#323232"/><stop offset=".7143" stop-color="#010101"/><stop offset=".7208" stop-color="#000000"/><stop offset=".7273" stop-color="#000000"/><stop offset=".7338" stop-color="#040404"/><stop offset=".7403" stop-color="#010101"/><stop offset=".7468" stop-color="#030303"/><stop offset=".7532" stop-color="#040404"/><stop offset=".7597" stop-color="#020202"/><stop offset=".7662" stop-color="#242424"/><stop offset=".7727" stop-color="#000000"/><stop offset=".7792" stop-color="#090909"/><stop offset=".7857" stop-color="#020202"/><stop offset=".7922" stop-color="#000000"/><stop offset=".8117" stop-color="#000000"/><stop offset=".8182" stop-color="#040404"/><stop offset=".8247" stop-color="#030303"/><stop offset=".8312" stop-color="#555555"/><stop offset=".8377" stop-color="#020202"/><stop offset=".8442" stop-color="#010101"/><stop offset=".8506" stop-color="#040404"/><stop offset=".8571" stop-color="#000000"/><stop offset=".8636" stop-color="#000000"/><stop offset=".8701" stop-color="#070707"/><stop offset=".8766" stop-color="#020202"/><stop offset=".8831" stop-color="#030303"/><stop offset=".8896" stop-color="#000000"/><stop offset=".8961" stop-color="#020202"/><stop offset=".9026" stop-color="#000000"/><stop offset=".9091" stop-color="#000000"/><stop offset=".9156" stop-color="#1b1b1b"/><stop offset=".9221" stop-color="#010101"/><stop offset=".9286" stop-color="#060606"/><stop offset=".9351" stop-color="#0e0e0e"/><stop offset=".9416" stop-color="#030303"/><stop offset=".9481" stop-color="#060606"/><stop offset=".9545" stop-color="#020202"/><stop offset=".961" stop-color="#373737"/><stop offset=".9675" stop-color="#000000"/><stop offset=".974" stop-color="#000000"/><stop offset=".9805" stop-color="#030303"/><stop offset=".987" stop-color="#000000"/><stop offset=".9935" stop-color="#060606"/><stop offset="1" stop-color="#070707"/></linearGradient>
<linearGradient id="r26" gradientUnits="userSpaceOnUse" x1="244.3" x2="2013.1" y1="0" y2="0"><stop offset="0" stop-color="#000000"/><stop offset=".0195" stop-color="#000000"/><stop offset=".026" stop-color="#010101"/><stop offset=".0325" stop-color="#292929"/><stop offset=".039" stop-color="#010101"/><stop offset=".0455" stop-color="#000000"/><stop offset=".0649" stop-color="#000000"/><stop offset=".0714" stop-color="#040404"/><stop offset=".0779" stop-color="#2b2b2b"/><stop offset=".0844" stop-color="#000000"/><stop offset=".0909" stop-color="#000000"/><stop offset=".0974" stop-color="#0c0c0c"/><stop offset=".1039" stop-color="#070707"/><stop offset=".1104" stop-color="#060606"/><stop offset=".1169" stop-color="#000000"/><stop offset=".1234" stop-color="#000000"/><stop offset=".1299" stop-color="#4d4d4d"/><stop offset=".1364" stop-color="#000000"/><stop offset=".1623" stop-color="#000000"/><stop offset=".1688" stop-color="#1c1c1c"/><stop offset=".1753" stop-color="#010101"/><stop offset=".1818" stop-color="#000000"/><stop offset=".1883" stop-color="#000000"/><stop offset=".1948" stop-color="#202020"/><stop offset=".2013" stop-color="#060606"/><stop offset=".2078" stop-color="#000000"/><stop offset=".2273" stop-color="#000000"/><stop offset=".2338" stop-color="#010101"/><stop offset=".2403" stop-color="#6b6b6b"/><stop offset=".2468" stop-color="#000000"/><stop offset=".2532" stop-color="#020202"/><stop offset=".2597" stop-color="#000000"/><stop offset=".2662" stop-color="#000000"/><stop offset=".2727" stop-color="#010101"/><stop offset=".2792" stop-color="#5d5d5d"/><stop offset=".2857" stop-color="#000000"/><stop offset=".2922" stop-color="#000000"/><stop offset=".2987" stop-color="#181818"/><stop offset=".3052" stop-color="#030303"/><stop offset=".3117" stop-color="#494949"/><stop offset=".3182" stop-color="#030303"/><stop offset=".3247" stop-color="#000000"/><stop offset=".3312" stop-color="#000000"/><stop offset=".3377" stop-color="#3d3d3d"/><stop offset=".3442" stop-color="#000000"/><stop offset=".3896" stop-color="#000000"/><stop offset=".3961" stop-color="#040404"/><stop offset=".4026" stop-color="#0e0e0e"/><stop offset=".4091" stop-color="#0a0a0a"/><stop offset=".4156" stop-color="#161616"/><stop offset=".4221" stop-color="#040404"/><stop offset=".4286" stop-color="#000000"/><stop offset=".4351" stop-color="#151515"/><stop offset=".4416" stop-color="#020202"/><stop offset=".4481" stop-color="#000000"/><stop offset=".4545" stop-color="#2e2e2e"/><stop offset=".461" stop-color="#000000"/><stop offset=".4675" stop-color="#010101"/><stop offset=".474" stop-color="#232323"/><stop offset=".4805" stop-color="#010101"/><stop offset=".487" stop-color="#000000"/><stop offset=".4935" stop-color="#030303"/><stop offset=".5" stop-color="#040404"/><stop offset=".5065" stop-color="#000000"/><stop offset=".513" stop-color="#232323"/><stop offset=".5195" stop-color="#020202"/><stop offset=".526" stop-color="#000000"/><stop offset=".5325" stop-color="#010101"/><stop offset=".539" stop-color="#000000"/><stop offset=".5455" stop-color="#0e0e0e"/><stop offset=".5519" stop-color="#020202"/><stop offset=".5584" stop-color="#030303"/><stop offset=".5649" stop-color="#010101"/><stop offset=".5714" stop-color="#020202"/><stop offset=".5779" stop-color="#000000"/><stop offset=".6039" stop-color="#000000"/><stop offset=".6104" stop-color="#0f0f0f"/><stop offset=".6169" stop-color="#000000"/><stop offset=".6234" stop-color="#0c0c0c"/><stop offset=".6299" stop-color="#070707"/><stop offset=".6364" stop-color="#000000"/><stop offset=".6429" stop-color="#303030"/><stop offset=".6494" stop-color="#020202"/><stop offset=".6558" stop-color="#020202"/><stop offset=".6623" stop-color="#060606"/><stop offset=".6688" stop-color="#000000"/><stop offset=".6753" stop-color="#000000"/><stop offset=".6818" stop-color="#010101"/><stop offset=".6883" stop-color="#2c2c2c"/><stop offset=".6948" stop-color="#010101"/><stop offset=".7013" stop-color="#030303"/><stop offset=".7078" stop-color="#181818"/><stop offset=".7143" stop-color="#000000"/><stop offset=".7208" stop-color="#000000"/><stop offset=".7273" stop-color="#010101"/><stop offset=".7338" stop-color="#050505"/><stop offset=".7403" stop-color="#000000"/><stop offset=".7468" stop-color="#010101"/><stop offset=".7532" stop-color="#020202"/><stop offset=".7597" stop-color="#010101"/><stop offset=".7662" stop-color="#0f0f0f"/><stop offset=".7727" stop-color="#000000"/><stop offset=".7792" stop-color="#323232"/><stop offset=".7857" stop-color="#020202"/><stop offset=".7987" stop-color="#020202"/><stop offset=".8052" stop-color="#010101"/><stop offset=".8117" stop-color="#010101"/><stop offset=".8182" stop-color="#121212"/><stop offset=".8247" stop-color="#030303"/><stop offset=".8312" stop-color="#6d6d6d"/><stop offset=".8377" stop-color="#020202"/><stop offset=".8442" stop-color="#070707"/><stop offset=".8506" stop-color="#030303"/><stop offset=".8571" stop-color="#000000"/><stop offset=".8636" stop-color="#000000"/><stop offset=".8701" stop-color="#010101"/><stop offset=".8766" stop-color="#080808"/><stop offset=".8831" stop-color="#020202"/><stop offset=".8896" stop-color="#000000"/><stop offset=".9026" stop-color="#000000"/><stop offset=".9091" stop-color="#020202"/><stop offset=".9156" stop-color="#353535"/><stop offset=".9221" stop-color="#000000"/><stop offset=".9286" stop-color="#010101"/><stop offset=".9351" stop-color="#010101"/><stop offset=".9416" stop-color="#000000"/><stop offset=".9481" stop-color="#010101"/><stop offset=".9545" stop-color="#000000"/><stop offset=".961" stop-color="#141414"/><stop offset=".9675" stop-color="#000000"/><stop offset=".974" stop-color="#020202"/><stop offset=".9805" stop-color="#090909"/><stop offset=".987" stop-color="#000000"/><stop offset=".9935" stop-color="#010101"/><stop offset="1" stop-color="#010101"/></linearGradient>
<linearGradient id="r27" gradientUnits="userSpaceOnUse" x1="244.3" x2="2013.1" y1="0" y2="0"><stop offset="0" stop-color="#000000"/><stop offset=".0195" stop-color="#000000"/><stop offset=".026" stop-color="#010101"/><stop offset=".0325" stop-color="#202020"/><stop offset=".039" stop-color="#000000"/><stop offset=".0455" stop-color="#000000"/><stop offset=".0519" stop-color="#010101"/><stop offset=".0584" stop-color="#000000"/><stop offset=".0649" stop-color="#000000"/><stop offset=".0714" stop-color="#080808"/><stop offset=".0779" stop-color="#131313"/><stop offset=".0844" stop-color="#000000"/><stop offset=".0909" stop-color="#000000"/><stop offset=".0974" stop-color="#161616"/><stop offset=".1039" stop-color="#070707"/><stop offset=".1104" stop-color="#010101"/><stop offset=".1169" stop-color="#000000"/><stop offset=".1234" stop-color="#000000"/><stop offset=".1299" stop-color="#1f1f1f"/><stop offset=".1364" stop-color="#000000"/><stop offset=".1494" stop-color="#000000"/><stop offset=".1558" stop-color="#010101"/><stop offset=".1623" stop-color="#000000"/><stop offset=".1688" stop-color="#080808"/><stop offset=".1753" stop-color="#010101"/><stop offset=".1818" stop-color="#000000"/><stop offset=".1883" stop-color="#010101"/><stop offset=".1948" stop-color="#606060"/><stop offset=".2013" stop-color="#030303"/><stop offset=".2078" stop-color="#000000"/><stop offset=".2143" stop-color="#000000"/><stop offset=".2208" stop-color="#010101"/><stop offset=".2273" stop-color="#000000"/><stop offset=".2338" stop-color="#000000"/><stop offset=".2403" stop-color="#6b6b6b"/><stop offset=".2468" stop-color="#010101"/><stop offset=".2532" stop-color="#030303"/><stop offset=".2597" stop-color="#000000"/><stop offset=".2727" stop-color="#000000"/><stop offset=".2792" stop-color="#424242"/><stop offset=".2857" stop-color="#000000"/><stop offset=".2922" stop-color="#010101"/><stop offset=".2987" stop-color="#363636"/><stop offset=".3052" stop-color="#010101"/><stop offset=".3117" stop-color="#232323"/><stop offset=".3182" stop-color="#010101"/><stop offset=".3247" stop-color="#000000"/><stop offset=".3312" stop-color="#010101"/><stop offset=".3377" stop-color="#828282"/><stop offset=".3442" stop-color="#010101"/><stop offset=".3506" stop-color="#000000"/><stop offset=".3636" stop-color="#000000"/><stop offset=".3701" stop-color="#020202"/><stop offset=".3766" stop-color="#020202"/><stop offset=".3831" stop-color="#000000"/><stop offset=".3896" stop-color="#000000"/><stop offset=".3961" stop-color="#010101"/><stop offset=".4026" stop-color="#3c3c3c"/><stop offset=".4091" stop-color="#0a0a0a"/><stop offset=".4156" stop-color="#323232"/><stop offset=".4221" stop-color="#020202"/><stop offset=".4286" stop-color="#010101"/><stop offset=".4351" stop-color="#202020"/><stop offset=".4416" stop-color="#000000"/><stop offset=".4481" stop-color="#000000"/><stop offset=".4545" stop-color="#131313"/><stop offset=".461" stop-color="#000000"/><stop offset=".4675" stop-color="#030303"/><stop offset=".474" stop-color="#2e2e2e"/><stop offset=".4805" stop-color="#000000"/><stop offset=".487" stop-color="#000000"/><stop offset=".4935" stop-color="#010101"/><stop offset=".5065" stop-color="#010101"/><stop offset=".513" stop-color="#383838"/><stop offset=".5195" stop-color="#010101"/><stop offset=".526" stop-color="#000000"/><stop offset=".5325" stop-color="#000000"/><stop offset=".539" stop-color="#010101"/><stop offset=".5455" stop-color="#424242"/><stop offset=".5519" stop-color="#010101"/><stop offset=".5584" stop-color="#010101"/><stop offset=".5649" stop-color="#000000"/><stop offset=".5974" stop-color="#000000"/><stop offset=".6039" stop-color="#010101"/><stop offset=".6104" stop-color="#181818"/><stop offset=".6169" stop-color="#000000"/><stop offset=".6234" stop-color="#262626"/><stop offset=".6299" stop-color="#040404"/><stop offset=".6364" stop-color="#010101"/><stop offset=".6429" stop-color="#545454"/><stop offset=".6494" stop-color="#010101"/><stop offset=".6558" stop-color="#000000"/><stop offset=".6623" stop-color="#030303"/><stop offset=".6688" stop-color="#000000"/><stop offset=".6753" stop-color="#000000"/><stop offset=".6818" stop-color="#020202"/><stop offset=".6883" stop-color="#2f2f2f"/><stop offset=".6948" stop-color="#000000"/><stop offset=".7013" stop-color="#060606"/><stop offset=".7078" stop-color="#060606"/><stop offset=".7143" stop-color="#000000"/><stop offset=".7208" stop-color="#000000"/><stop offset=".7273" stop-color="#070707"/><stop offset=".7338" stop-color="#050505"/><stop offset=".7403" stop-color="#000000"/><stop offset=".7468" stop-color="#0a0a0a"/><stop offset=".7532" stop-color="#0f0f0f"/><stop offset=".7597" stop-color="#010101"/><stop offset=".7662" stop-color="#050505"/><stop offset=".7727" stop-color="#030303"/><stop offset=".7792" stop-color="#5d5d5d"/><stop offset=".7857" stop-color="#010101"/><stop offset=".7922" stop-color="#131313"/><stop offset=".7987" stop-color="#030303"/><stop offset=".8052" stop-color="#090909"/><stop offset=".8117" stop-color="#060606"/><stop offset=".8182" stop-color="#1e1e1e"/><stop offset=".8247" stop-color="#030303"/><stop offset=".8312" stop-color="#7d7d7d"/><stop offset=".8377" stop-color="#020202"/><stop offset=".8442" stop-color="#303030"/><stop offset=".8506" stop-color="#030303"/><stop offset=".8571" stop-color="#000000"/><stop offset=".8701" stop-color="#000000"/><stop offset=".8766" stop-color="#333333"/><stop offset=".8831" stop-color="#030303"/><stop offset=".8896" stop-color="#000000"/><stop offset=".9026" stop-color="#000000"/><stop offset=".9091" stop-color="#090909"/><stop offset=".9156" stop-color="#292929"/><stop offset=".9221" stop-color="#000000"/><stop offset=".9481" stop-color="#000000"/><stop offset=".9545" stop-color="#020202"/><stop offset=".961" stop-color="#090909"/><stop offset=".9675" stop-color="#000000"/><stop offset=".974" stop-color="#090909"/><stop offset=".9805" stop-color="#080808"/><stop offset=".987" stop-color="#000000"/><stop offset="1" stop-color="#000000"/></linearGradient>
<linearGradient id="r28" gradientUnits="userSpaceOnUse" x1="244.3" x2="2013.1" y1="0" y2="0"><stop offset="0" stop-color="#000000"/><stop offset=".0195" stop-color="#000000"/><stop offset=".026" stop-color="#010101"/><stop offset=".0325" stop-color="#0f0f0f"/><stop offset=".039" stop-color="#000000"/><stop offset=".0455" stop-color="#000000"/><stop offset=".0519" stop-color="#0a0a0a"/><stop offset=".0584" stop-color="#000000"/><stop offset=".0649" stop-color="#000000"/><stop offset=".0714" stop-color="#0b0b0b"/><stop offset=".0779" stop-color="#050505"/><stop offset=".0844" stop-color="#000000"/><stop offset=".0909" stop-color="#000000"/><stop offset=".0974" stop-color="#212121"/><stop offset=".1039" stop-color="#030303"/><stop offset=".1104" stop-color="#000000"/><stop offset=".1169" stop-color="#000000"/><stop offset=".1234" stop-color="#020202"/><stop offset=".1299" stop-color="#0a0a0a"/><stop offset=".1364" stop-color="#000000"/><stop offset=".1429" stop-color="#000000"/><stop offset=".1494" stop-color="#020202"/><stop offset=".1558" stop-color="#020202"/><stop offset=".1623" stop-color="#000000"/><stop offset=".1688" stop-color="#040404"/><stop offset=".1753" stop-color="#010101"/><stop offset=".1818" stop-color="#000000"/><stop offset=".1883" stop-color="#040404"/><stop offset=".1948" stop-color="#585858"/><stop offset=".2013" stop-color="#010101"/><stop offset=".2078" stop-color="#000000"/><stop offset=".2143" stop-color="#010101"/><stop offset=".2208" stop-color="#010101"/><stop offset=".2273" stop-color="#000000"/><stop offset=".2338" stop-color="#000000"/><stop offset=".2403" stop-color="#626262"/><stop offset=".2468" stop-color="#020202"/><stop offset=".2532" stop-color="#030303"/><stop offset=".2597" stop-color="#000000"/><stop offset=".2727" stop-color="#000000"/><stop offset=".2792" stop-color="#212121"/><stop offset=".2857" stop-color="#000000"/><stop offset=".2922" stop-color="#040404"/><stop offset=".2987" stop-color="#262626"/><stop offset=".3052" stop-color="#000000"/><stop offset=".3117" stop-color="#090909"/><stop offset=".3182" stop-color="#000000"/><stop offset=".3247" stop-color="#000000"/><stop offset=".3312" stop-color="#010101"/><stop offset=".3377" stop-color="#a8a8a8"/><stop offset=".3442" stop-color="#010101"/><stop offset=".3506" stop-color="#000000"/><stop offset=".3636" stop-color="#000000"/><stop offset=".3701" stop-color="#121212"/><stop offset=".3766" stop-color="#030303"/><stop offset=".3831" stop-color="#000000"/><stop offset=".3896" stop-color="#000000"/><stop offset=".3961" stop-color="#020202"/><stop offset=".4026" stop-color="#686868"/><stop offset=".4091" stop-color="#070707"/><stop offset=".4156" stop-color="#2f2f2f"/><stop offset=".4221" stop-color="#010101"/><stop offset=".4286" stop-color="#030303"/><stop offset=".4351" stop-color="#181818"/><stop offset=".4416" stop-color="#000000"/><stop offset=".4481" stop-color="#000000"/><stop offset=".4545" stop-color="#050505"/><stop offset=".461" stop-color="#000000"/><stop offset=".4675" stop-color="#0b0b0b"/><stop offset=".474" stop-color="#242424"/><stop offset=".4805" stop-color="#000000"/><stop offset=".4935" stop-color="#000000"/><stop offset=".5" stop-color="#030303"/><stop offset=".5065" stop-color="#040404"/><stop offset=".513" stop-color="#232323"/><stop offset=".5195" stop-color="#000000"/><stop offset=".5325" stop-color="#000000"/><stop offset=".539" stop-color="#050505"/><stop offset=".5455" stop-color="#444444"/><stop offset=".5519" stop-color="#000000"/><stop offset=".5909" stop-color="#000000"/><stop offset=".5974" stop-color="#010101"/><stop offset=".6039" stop-color="#030303"/><stop offset=".6104" stop-color="#0d0d0d"/><stop offset=".6169" stop-color="#010101"/><stop offset=".6234" stop-color="#383838"/><stop offset=".6299" stop-color="#010101"/><stop offset=".6364" stop-color="#020202"/><stop offset=".6429" stop-color="#393939"/><stop offset=".6494" stop-color="#000000"/><stop offset=".6558" stop-color="#000000"/><stop offset=".6623" stop-color="#121212"/><stop offset=".6688" stop-color="#010101"/><stop offset=".6753" stop-color="#000000"/><stop offset=".6818" stop-color="#050505"/><stop offset=".6883" stop-color="#1c1c1c"/><stop offset=".6948" stop-color="#010101"/><stop offset=".7013" stop-color="#111111"/><stop offset=".7078" stop-color="#050505"/><stop offset=".7143" stop-color="#000000"/><stop offset=".7208" stop-color="#000000"/><stop offset=".7273" stop-color="#1b1b1b"/><stop offset=".7338" stop-color="#030303"/><stop offset=".7403" stop-color="#020202"/><stop offset=".7468" stop-color="#323232"/><stop offset=".7532" stop-color="#282828"/><stop offset=".7597" stop-color="#010101"/><stop offset=".7662" stop-color="#010101"/><stop offset=".7727" stop-color="#090909"/><stop offset=".7792" stop-color="#353535"/><stop offset=".7857" stop-color="#000000"/><stop offset=".7922" stop-color="#252525"/><stop offset=".7987" stop-color="#050505"/><stop offset=".8052" stop-color="#2a2a2a"/><stop offset=".8117" stop-color="#0d0d0d"/><stop offset=".8182" stop-color="#111111"/><stop offset=".8247" stop-color="#020202"/><stop offset=".8312" stop-color="#7e7e7e"/><stop offset=".8377" stop-color="#040404"/><stop offset=".8442" stop-color="#6d6d6d"/><stop offset=".8506" stop-color="#020202"/><stop offset=".8571" stop-color="#000000"/><stop offset=".8636" stop-color="#000000"/><stop offset=".8701" stop-color="#030303"/><stop offset=".8766" stop-color="#6c6c6c"/><stop offset=".8831" stop-color="#010101"/><stop offset=".8896" stop-color="#000000"/><stop offset=".9026" stop-color="#000000"/><stop offset=".9091" stop-color="#0e0e0e"/><stop offset=".9156" stop-color="#0c0c0c"/><stop offset=".9221" stop-color="#000000"/><stop offset=".9481" stop-color="#000000"/><stop offset=".9545" stop-color="#0c0c0c"/><stop offset=".961" stop-color="#060606"/><stop offset=".9675" stop-color="#000000"/><stop offset=".974" stop-color="#101010"/><stop offset=".9805" stop-color="#030303"/><stop offset=".987" stop-color="#000000"/><stop offset="1" stop-color="#000000"/></linearGradient>
<linearGradient id="r29" gradientUnits="userSpaceOnUse" x1="244.3" x2="2013.1" y1="0" y2="0"><stop offset="0" stop-color="#000000"/><stop offset=".0195" stop-color="#000000"/><stop offset=".026" stop-color="#010101"/><stop offset=".0325" stop-color="#040404"/><stop offset=".039" stop-color="#000000"/><stop offset=".0455" stop-color="#000000"/><stop offset=".0519" stop-color="#2f2f2f"/><stop offset=".0584" stop-color="#010101"/><stop offset=".0649" stop-color="#000000"/><stop offset=".0714" stop-color="#080808"/><stop offset=".0779" stop-color="#010101"/><stop offset=".0844" stop-color="#000000"/><stop offset=".0909" stop-color="#010101"/><stop offset=".0974" stop-color="#2a2a2a"/><stop offset=".1039" stop-color="#010101"/><stop offset=".1104" stop-color="#000000"/><stop offset=".1169" stop-color="#000000"/><stop offset=".1234" stop-color="#0f0f0f"/><stop offset=".1299" stop-color="#030303"/><stop offset=".1364" stop-color="#000000"/><stop offset=".1429" stop-color="#010101"/><stop offset=".1494" stop-color="#0b0b0b"/><stop offset=".1558" stop-color="#020202"/><stop offset=".1623" stop-color="#000000"/><stop offset=".1688" stop-color="#070707"/><stop offset=".1753" stop-color="#010101"/><stop offset=".1818" stop-color="#000000"/><stop offset=".1883" stop-color="#050505"/><stop offset=".1948" stop-color="#191919"/><stop offset=".2013" stop-color="#000000"/><stop offset=".2078" stop-color="#000000"/><stop offset=".2143" stop-color="#030303"/><stop offset=".2208" stop-color="#010101"/><stop offset=".2273" stop-color="#000000"/><stop offset=".2338" stop-color="#000000"/><stop offset=".2403" stop-color="#4e4e4e"/><stop offset=".2468" stop-color="#040404"/><stop offset=".2532" stop-color="#050505"/><stop offset=".2597" stop-color="#000000"/><stop offset=".2662" stop-color="#000000"/><stop offset=".2727" stop-color="#010101"/><stop offset=".2792" stop-color="#0b0b0b"/><stop offset=".2857" stop-color="#000000"/><stop offset=".2922" stop-color="#050505"/><stop offset=".2987" stop-color="#090909"/><stop offset=".3052" stop-color="#000000"/><stop offset=".3117" stop-color="#010101"/><stop offset=".3182" stop-color="#000000"/><stop offset=".3247" stop-color="#000000"/><stop offset=".3312" stop-color="#010101"/><stop offset=".3377" stop-color="#838383"/><stop offset=".3442" stop-color="#010101"/><stop offset=".3506" stop-color="#000000"/><stop offset=".3636" stop-color="#000000"/><stop offset=".3701" stop-color="#353535"/><stop offset=".3766" stop-color="#020202"/><stop offset=".3831" stop-color="#000000"/><stop offset=".3896" stop-color="#000000"/><stop offset=".3961" stop-color="#060606"/><stop offset=".4026" stop-color="#3c3c3c"/><stop offset=".4091" stop-color="#0f0f0f"/><stop offset=".4156" stop-color="#343434"/><stop offset=".4221" stop-color="#010101"/><stop offset=".4286" stop-color="#060606"/><stop offset=".4351" stop-color="#090909"/><stop offset=".4416" stop-color="#000000"/><stop offset=".4481" stop-color="#000000"/><stop offset=".4545" stop-color="#010101"/><stop offset=".461" stop-color="#000000"/><stop offset=".4675" stop-color="#232323"/><stop offset=".474" stop-color="#131313"/><stop offset=".4805" stop-color="#000000"/><stop offset=".4935" stop-color="#000000"/><stop offset=".5" stop-color="#060606"/><stop offset=".5065" stop-color="#050505"/><stop offset=".513" stop-color="#090909"/><stop offset=".5195" stop-color="#000000"/><stop offset=".5325" stop-color="#000000"/><stop offset=".539" stop-color="#050505"/><stop offset=".5455" stop-color="#0f0f0f"/><stop offset=".5519" stop-color="#000000"/><stop offset=".5584" stop-color="#050505"/><stop offset=".5649" stop-color="#010101"/><stop offset=".5714" stop-color="#000000"/><stop offset=".5909" stop-color="#000000"/><stop offset=".5974" stop-color="#020202"/><stop offset=".6039" stop-color="#030303"/><stop offset=".6104" stop-color="#020202"/><stop offset=".6169" stop-color="#030303"/><stop offset=".6234" stop-color="#252525"/><stop offset=".6299" stop-color="#000000"/><stop offset=".6364" stop-color="#010101"/><stop offset=".6429" stop-color="#0f0f0f"/><stop offset=".6494" stop-color="#000000"/><stop offset=".6558" stop-color="#020202"/><stop offset=".6623" stop-color="#232323"/><stop offset=".6688" stop-color="#000000"/><stop offset=".6753" stop-color="#000000"/><stop offset=".6818" stop-color="#050505"/><stop offset=".6883" stop-color="#090909"/><stop offset=".6948" stop-color="#040404"/><stop offset=".7013" stop-color="#333333"/><stop offset=".7078" stop-color="#040404"/><stop offset=".7143" stop-color="#000000"/><stop offset=".7208" stop-color="#020202"/><stop offset=".7273" stop-color="#3c3c3c"/><stop offset=".7338" stop-color="#010101"/><stop offset=".7403" stop-color="#070707"/><stop offset=".7468" stop-color="#525252"/><stop offset=".7532" stop-color="#212121"/><stop offset=".7597" stop-color="#010101"/><stop offset=".7662" stop-color="#000000"/><stop offset=".7727" stop-color="#080808"/><stop offset=".7792" stop-color="#090909"/><stop offset=".7857" stop-color="#010101"/><stop offset=".7922" stop-color="#111111"/><stop offset=".7987" stop-color="#0f0f0f"/><stop offset=".8052" stop-color="#4b4b4b"/><stop offset=".8117" stop-color="#0b0b0b"/><stop offset=".8182" stop-color="#030303"/><stop offset=".8247" stop-color="#020202"/><stop offset=".8312" stop-color="#717171"/><stop offset=".8377" stop-color="#0a0a0a"/><stop offset=".8442" stop-color="#505050"/><stop offset=".8506" stop-color="#000000"/><stop offset=".8636" stop-color="#000000"/><stop offset=".8701" stop-color="#0a0a0a"/><stop offset=".8766" stop-color="#4b4b4b"/><stop offset=".8831" stop-color="#000000"/><stop offset=".9026" stop-color="#000000"/><stop offset=".9091" stop-color="#080808"/><stop offset=".9156" stop-color="#010101"/><stop offset=".9221" stop-color="#000000"/><stop offset=".9481" stop-color="#000000"/><stop offset=".9545" stop-color="#262626"/><stop offset=".961" stop-color="#040404"/><stop offset=".9675" stop-color="#000000"/><stop offset=".974" stop-color="#090909"/><stop offset=".9805" stop-color="#000000"/><stop offset=".987" stop-color="#000000"/><stop offset=".9935" stop-color="#050505"/><stop offset="1" stop-color="#020202"/></linearGradient>
<linearGradient id="r30" gradientUnits="userSpaceOnUse" x1="244.3" x2="2013.1" y1="0" y2="0"><stop offset="0" stop-color="#000000"/><stop offset=".026" stop-color="#000000"/><stop offset=".0325" stop-color="#010101"/><stop offset=".0455" stop-color="#010101"/><stop offset=".0519" stop-color="#4c4c4c"/><stop offset=".0584" stop-color="#010101"/><stop offset=".0649" stop-color="#000000"/><stop offset=".0714" stop-color="#030303"/><stop offset=".0779" stop-color="#000000"/><stop offset=".0844" stop-color="#000000"/><stop offset=".0909" stop-color="#010101"/><stop offset=".0974" stop-color="#2d2d2d"/><stop offset=".1039" stop-color="#010101"/><stop offset=".1104" stop-color="#000000"/><stop offset=".1169" stop-color="#010101"/><stop offset=".1234" stop-color="#222222"/><stop offset=".1299" stop-color="#010101"/><stop offset=".1364" stop-color="#020202"/><stop offset=".1429" stop-color="#020202"/><stop offset=".1494" stop-color="#181818"/><stop offset=".1558" stop-color="#010101"/><stop offset=".1623" stop-color="#000000"/><stop offset=".1688" stop-color="#0c0c0c"/><stop offset=".1753" stop-color="#010101"/><stop offset=".1818" stop-color="#000000"/><stop offset=".1883" stop-color="#030303"/><stop offset=".1948" stop-color="#030303"/><stop offset=".2013" stop-color="#000000"/><stop offset=".2078" stop-color="#000000"/><stop offset=".2143" stop-color="#080808"/><stop offset=".2208" stop-color="#000000"/><stop offset=".2338" stop-color="#000000"/><stop offset=".2403" stop-color="#333333"/><stop offset=".2468" stop-color="#090909"/><stop offset=".2532" stop-color="#0d0d0d"/><stop offset=".2597" stop-color="#010101"/><stop offset=".2662" stop-color="#000000"/><stop offset=".2727" stop-color="#020202"/><stop offset=".2792" stop-color="#020202"/><stop offset=".2857" stop-color="#010101"/><stop offset=".2922" stop-color="#040404"/><stop offset=".2987" stop-color="#010101"/><stop offset=".3052" stop-color="#000000"/><stop offset=".3247" stop-color="#000000"/><stop offset=".3312" stop-color="#010101"/><stop offset=".3377" stop-color="#3d3d3d"/><stop offset=".3442" stop-color="#000000"/><stop offset=".3571" stop-color="#000000"/><stop offset=".3636" stop-color="#020202"/><stop offset=".3701" stop-color="#3a3a3a"/><stop offset=".3766" stop-color="#000000"/><stop offset=".3831" stop-color="#000000"/><stop offset=".3896" stop-color="#010101"/><stop offset=".3961" stop-color="#0c0c0c"/><stop offset=".4026" stop-color="#0c0c0c"/><stop offset=".4091" stop-color="#242424"/><stop offset=".4156" stop-color="#313131"/><stop offset=".4221" stop-color="#030303"/><stop offset=".4286" stop-color="#0c0c0c"/><stop offset=".4351" stop-color="#020202"/><stop offset=".4416" stop-color="#000000"/><stop offset=".461" stop-color="#000000"/><stop offset=".4675" stop-color="#555555"/><stop offset=".474" stop-color="#070707"/><stop offset=".4805" stop-color="#000000"/><stop offset=".487" stop-color="#000000"/><stop offset=".4935" stop-color="#020202"/><stop offset=".5" stop-color="#090909"/><stop offset=".5065" stop-color="#030303"/><stop offset=".513" stop-color="#020202"/><stop offset=".5195" stop-color="#010101"/><stop offset=".526" stop-color="#000000"/><stop offset=".5325" stop-color="#000000"/><stop offset=".539" stop-color="#010101"/><stop offset=".5455" stop-color="#010101"/><stop offset=".5519" stop-color="#000000"/><stop offset=".5584" stop-color="#121212"/><stop offset=".5649" stop-color="#000000"/><stop offset=".5844" stop-color="#000000"/><stop offset=".5909" stop-color="#030303"/><stop offset=".5974" stop-color="#030303"/><stop offset=".6039" stop-color="#010101"/><stop offset=".6104" stop-color="#000000"/><stop offset=".6169" stop-color="#050505"/><stop offset=".6234" stop-color="#0b0b0b"/><stop offset=".6299" stop-color="#000000"/><stop offset=".6364" stop-color="#000000"/><stop offset=".6429" stop-color="#020202"/><stop offset=".6494" stop-color="#000000"/><stop offset=".6558" stop-color="#040404"/><stop offset=".6623" stop-color="#101010"/><stop offset=".6688" stop-color="#000000"/><stop offset=".6753" stop-color="#000000"/><stop offset=".6818" stop-color="#030303"/><stop offset=".6883" stop-color="#020202"/><stop offset=".6948" stop-color="#0e0e0e"/><stop offset=".7013" stop-color="#3f3f3f"/><stop offset=".7078" stop-color="#020202"/><stop offset=".7143" stop-color="#000000"/><stop offset=".7208" stop-color="#070707"/><stop offset=".7273" stop-color="#333333"/><stop offset=".7338" stop-color="#000000"/><stop offset=".7403" stop-color="#070707"/><stop offset=".7468" stop-color="#2a2a2a"/><stop offset=".7532" stop-color="#090909"/><stop offset=".7597" stop-color="#000000"/><stop offset=".7662" stop-color="#000000"/><stop offset=".7727" stop-color="#020202"/><stop offset=".7792" stop-color="#010101"/><stop offset=".7857" stop-color="#000000"/><stop offset=".7922" stop-color="#020202"/><stop offset=".7987" stop-color="#1b1b1b"/><stop offset=".8052" stop-color="#343434"/><stop offset=".8117" stop-color="#030303"/><stop offset=".8182" stop-color="#000000"/><stop offset=".8247" stop-color="#020202"/><stop offset=".8312" stop-color="#595959"/><stop offset=".8377" stop-color="#0c0c0c"/><stop offset=".8442" stop-color="#131313"/><stop offset=".8506" stop-color="#010101"/><stop offset=".8571" stop-color="#010101"/><stop offset=".8636" stop-color="#000000"/><stop offset=".8701" stop-color="#0c0c0c"/><stop offset=".8766" stop-color="#111111"/><stop offset=".8831" stop-color="#010101"/><stop offset=".8896" stop-color="#010101"/><stop offset=".8961" stop-color="#000000"/><stop offset=".9026" stop-color="#000000"/><stop offset=".9091" stop-color="#020202"/><stop offset=".9156" stop-color="#000000"/><stop offset=".9416" stop-color="#000000"/><stop offset=".9481" stop-color="#010101"/><stop offset=".9545" stop-color="#3e3e3e"/><stop offset=".961" stop-color="#010101"/><stop offset=".9675" stop-color="#000000"/><stop offset=".974" stop-color="#020202"/><stop offset=".9805" stop-color="#000000"/><stop offset=".987" stop-color="#000000"/><stop offset=".9935" stop-color="#282828"/><stop offset="1" stop-color="#030303"/></linearGradient>
<linearGradient id="r31" gradientUnits="userSpaceOnUse" x1="244.3" x2="2013.1" y1="0" y2="0"><stop offset="0" stop-color="#000000"/><stop offset=".026" stop-color="#000000"/><stop offset=".0325" stop-color="#010101"/><stop offset=".039" stop-color="#060606"/><stop offset=".0455" stop-color="#010101"/><stop offset=".0519" stop-color="#292929"/><stop offset=".0584" stop-color="#010101"/><stop offset=".0649" stop-color="#000000"/><stop offset=".0714" stop-color="#010101"/><stop offset=".0779" stop-color="#000000"/><stop offset=".0844" stop-color="#000000"/><stop offset=".0909" stop-color="#020202"/><stop offset=".0974" stop-color="#292929"/><stop offset=".1039" stop-color="#000000"/><stop offset=".1104" stop-color="#000000"/><stop offset=".1169" stop-color="#050505"/><stop offset=".1234" stop-color="#1d1d1d"/><stop offset=".1299" stop-color="#000000"/><stop offset=".1364" stop-color="#0b0b0b"/><stop offset=".1429" stop-color="#030303"/><stop offset=".1494" stop-color="#161616"/><stop offset=".1558" stop-color="#000000"/><stop offset=".1623" stop-color="#000000"/><stop offset=".1688" stop-color="#131313"/><stop offset=".1753" stop-color="#010101"/><stop offset=".1818" stop-color="#000000"/><stop offset=".1883" stop-color="#040404"/><stop offset=".1948" stop-color="#030303"/><stop offset=".2013" stop-color="#000000"/><stop offset=".2078" stop-color="#000000"/><stop offset=".2143" stop-color="#0e0e0e"/><stop offset=".2208" stop-color="#000000"/><stop offset=".2338" stop-color="#000000"/><stop offset=".2403" stop-color="#1b1b1b"/><stop offset=".2468" stop-color="#0e0e0e"/><stop offset=".2532" stop-color="#1e1e1e"/><stop offset=".2597" stop-color="#010101"/><stop offset=".2662" stop-color="#030303"/><stop offset=".2727" stop-color="#050505"/><stop offset=".2792" stop-color="#000000"/><stop offset=".2857" stop-color="#050505"/><stop offset=".2922" stop-color="#030303"/><stop offset=".2987" stop-color="#000000"/><stop offset=".3247" stop-color="#000000"/><stop offset=".3312" stop-color="#030303"/><stop offset=".3377" stop-color="#121212"/><stop offset=".3442" stop-color="#000000"/><stop offset=".3571" stop-color="#000000"/><stop offset=".3636" stop-color="#050505"/><stop offset=".3701" stop-color="#171717"/><stop offset=".3766" stop-color="#000000"/><stop offset=".3831" stop-color="#040404"/><stop offset=".3896" stop-color="#030303"/><stop offset=".3961" stop-color="#161616"/><stop offset=".4026" stop-color="#020202"/><stop offset=".4091" stop-color="#1e1e1e"/><stop offset=".4156" stop-color="#101010"/><stop offset=".4221" stop-color="#191919"/><stop offset=".4286" stop-color="#1f1f1f"/><stop offset=".4351" stop-color="#010101"/><stop offset=".4416" stop-color="#000000"/><stop offset=".4545" stop-color="#000000"/><stop offset=".461" stop-color="#030303"/><stop offset=".4675" stop-color="#6c6c6c"/><stop offset=".474" stop-color="#010101"/><stop offset=".4805" stop-color="#000000"/><stop offset=".487" stop-color="#000000"/><stop offset=".4935" stop-color="#0a0a0a"/><stop offset=".5" stop-color="#080808"/><stop offset=".5065" stop-color="#010101"/><stop offset=".513" stop-color="#040404"/><stop offset=".5195" stop-color="#050505"/><stop offset=".526" stop-color="#000000"/><stop offset=".5455" stop-color="#000000"/><stop offset=".5519" stop-color="#020202"/><stop offset=".5584" stop-color="#171717"/><stop offset=".5649" stop-color="#000000"/><stop offset=".5844" stop-color="#000000"/><stop offset=".5909" stop-color="#0f0f0f"/><stop offset=".5974" stop-color="#030303"/><stop offset=".6039" stop-color="#000000"/><stop offset=".6104" stop-color="#030303"/><stop offset=".6169" stop-color="#060606"/><stop offset=".6234" stop-color="#020202"/><stop offset=".6299" stop-color="#000000"/><stop offset=".6494" stop-color="#000000"/><stop offset=".6558" stop-color="#020202"/><stop offset=".6623" stop-color="#020202"/><stop offset=".6688" stop-color="#010101"/><stop offset=".6883" stop-color="#010101"/><stop offset=".6948" stop-color="#1d1d1d"/><stop offset=".7013" stop-color="#262626"/><stop offset=".7078" stop-color="#010101"/><stop offset=".7143" stop-color="#000000"/><stop offset=".7208" stop-color="#090909"/><stop offset=".7273" stop-color="#181818"/><stop offset=".7338" stop-color="#000000"/><stop offset=".7403" stop-color="#020202"/><stop offset=".7468" stop-color="#070707"/><stop offset=".7532" stop-color="#010101"/><stop offset=".7597" stop-color="#000000"/><stop offset=".7662" stop-color="#010101"/><stop offset=".7727" stop-color="#000000"/><stop offset=".7857" stop-color="#000000"/><stop offset=".7922" stop-color="#010101"/><stop offset=".7987" stop-color="#202020"/><stop offset=".8052" stop-color="#0e0e0e"/><stop offset=".8117" stop-color="#000000"/><stop offset=".8182" stop-color="#000000"/><stop offset=".8247" stop-color="#010101"/><stop offset=".8312" stop-color="#3e3e3e"/><stop offset=".8377" stop-color="#050505"/><stop offset=".8442" stop-color="#010101"/><stop offset=".8506" stop-color="#0e0e0e"/><stop offset=".8571" stop-color="#030303"/><stop offset=".8636" stop-color="#010101"/><stop offset=".8701" stop-color="#040404"/><stop offset=".8766" stop-color="#010101"/><stop offset=".8831" stop-color="#101010"/><stop offset=".8896" stop-color="#030303"/><stop offset=".8961" stop-color="#010101"/><stop offset=".9026" stop-color="#000000"/><stop offset=".9156" stop-color="#000000"/><stop offset=".9221" stop-color="#010101"/><stop offset=".9286" stop-color="#010101"/><stop offset=".9351" stop-color="#000000"/><stop offset=".9416" stop-color="#000000"/><stop offset=".9481" stop-color="#050505"/><stop offset=".9545" stop-color="#343434"/><stop offset=".961" stop-color="#000000"/><stop offset=".9675" stop-color="#010101"/><stop offset=".974" stop-color="#020202"/><stop offset=".9805" stop-color="#000000"/><stop offset=".987" stop-color="#010101"/><stop offset=".9935" stop-color="#4c4c4c"/><stop offset="1" stop-color="#010101"/></linearGradient>
<linearGradient id="r32" gradientUnits="userSpaceOnUse" x1="244.3" x2="2013.1" y1="0" y2="0"><stop offset="0" stop-color="#000000"/><stop offset=".026" stop-color="#000000"/><stop offset=".0325" stop-color="#060606"/><stop offset=".039" stop-color="#121212"/><stop offset=".0455" stop-color="#010101"/><stop offset=".0519" stop-color="#070707"/><stop offset=".0584" stop-color="#000000"/><stop offset=".0844" stop-color="#000000"/><stop offset=".0909" stop-color="#020202"/><stop offset=".0974" stop-color="#202020"/><stop offset=".1039" stop-color="#000000"/><stop offset=".1104" stop-color="#010101"/><stop offset=".1169" stop-color="#0d0d0d"/><stop offset=".1234" stop-color="#090909"/><stop offset=".1299" stop-color="#000000"/><stop offset=".1364" stop-color="#181818"/><stop offset=".1429" stop-color="#030303"/><stop offset=".1494" stop-color="#090909"/><stop offset=".1558" stop-color="#000000"/><stop offset=".1623" stop-color="#000000"/><stop offset=".1688" stop-color="#1a1a1a"/><stop offset=".1753" stop-color="#010101"/><stop offset=".1818" stop-color="#000000"/><stop offset=".1883" stop-color="#1e1e1e"/><stop offset=".1948" stop-color="#040404"/><stop offset=".2013" stop-color="#000000"/><stop offset=".2078" stop-color="#020202"/><stop offset=".2143" stop-color="#111111"/><stop offset=".2208" stop-color="#010101"/><stop offset=".2273" stop-color="#000000"/><stop offset=".2338" stop-color="#000000"/><stop offset=".2403" stop-color="#0d0d0d"/><stop offset=".2468" stop-color="#0e0e0e"/><stop offset=".2532" stop-color="#363636"/><stop offset=".2597" stop-color="#020202"/><stop offset=".2662" stop-color="#101010"/><stop offset=".2727" stop-color="#080808"/><stop offset=".2792" stop-color="#000000"/><stop offset=".2857" stop-color="#111111"/><stop offset=".2922" stop-color="#020202"/><stop offset=".2987" stop-color="#000000"/><stop offset=".3247" stop-color="#000000"/><stop offset=".3312" stop-color="#101010"/><stop offset=".3377" stop-color="#040404"/><stop offset=".3442" stop-color="#000000"/><stop offset=".3571" stop-color="#000000"/><stop offset=".3636" stop-color="#050505"/><stop offset=".3701" stop-color="#030303"/><stop offset=".3766" stop-color="#000000"/><stop offset=".3831" stop-color="#1d1d1d"/><stop offset=".3896" stop-color="#040404"/><stop offset=".3961" stop-color="#272727"/><stop offset=".4026" stop-color="#010101"/><stop offset=".4091" stop-color="#070707"/><stop offset=".4156" stop-color="#040404"/><stop offset=".4221" stop-color="#3d3d3d"/><stop offset=".4286" stop-color="#202020"/><stop offset=".4351" stop-color="#000000"/><stop offset=".4545" stop-color="#000000"/><stop offset=".461" stop-color="#090909"/><stop offset=".4675" stop-color="#404040"/><stop offset=".474" stop-color="#000000"/><stop offset=".487" stop-color="#000000"/><stop offset=".4935" stop-color="#1b1b1b"/><stop offset=".5" stop-color="#040404"/><stop offset=".5065" stop-color="#000000"/><stop offset=".513" stop-color="#0d0d0d"/><stop offset=".5195" stop-color="#0c0c0c"/><stop offset=".526" stop-color="#000000"/><stop offset=".5455" stop-color="#000000"/><stop offset=".5519" stop-color="#040404"/><stop offset=".5584" stop-color="#0a0a0a"/><stop offset=".5649" stop-color="#000000"/><stop offset=".5844" stop-color="#000000"/><stop offset=".5909" stop-color="#1e1e1e"/><stop offset=".5974" stop-color="#010101"/><stop offset=".6039" stop-color="#000000"/><stop offset=".6104" stop-color="#1a1a1a"/><stop offset=".6169" stop-color="#080808"/><stop offset=".6234" stop-color="#000000"/><stop offset=".6623" stop-color="#000000"/><stop offset=".6688" stop-color="#090909"/><stop offset=".6753" stop-color="#010101"/><stop offset=".6818" stop-color="#000000"/><stop offset=".6883" stop-color="#020202"/><stop offset=".6948" stop-color="#2a2a2a"/><stop offset=".7013" stop-color="#141414"/><stop offset=".7078" stop-color="#000000"/><stop offset=".7143" stop-color="#000000"/><stop offset=".7208" stop-color="#0c0c0c"/><stop offset=".7273" stop-color="#0c0c0c"/><stop offset=".7338" stop-color="#020202"/><stop offset=".7403" stop-color="#000000"/><stop offset=".7532" stop-color="#000000"/><stop offset=".7597" stop-color="#030303"/><stop offset=".7662" stop-color="#050505"/><stop offset=".7727" stop-color="#000000"/><stop offset=".7857" stop-color="#000000"/><stop offset=".7922" stop-color="#010101"/><stop offset=".7987" stop-color="#2b2b2b"/><stop offset=".8052" stop-color="#020202"/><stop offset=".8117" stop-color="#000000"/><stop offset=".8182" stop-color="#000000"/><stop offset=".8247" stop-color="#010101"/><stop offset=".8312" stop-color="#272727"/><stop offset=".8377" stop-color="#020202"/><stop offset=".8442" stop-color="#000000"/><stop offset=".8506" stop-color="#444444"/><stop offset=".8571" stop-color="#060606"/><stop offset=".8636" stop-color="#040404"/><stop offset=".8701" stop-color="#010101"/><stop offset=".8766" stop-color="#010101"/><stop offset=".8831" stop-color="#464646"/><stop offset=".8896" stop-color="#060606"/><stop offset=".8961" stop-color="#040404"/><stop offset=".9026" stop-color="#000000"/><stop offset=".9156" stop-color="#000000"/><stop offset=".9221" stop-color="#0c0c0c"/><stop offset=".9286" stop-color="#010101"/><stop offset=".9351" stop-color="#000000"/><stop offset=".9416" stop-color="#000000"/><stop offset=".9481" stop-color="#0c0c0c"/><stop offset=".9545" stop-color="#171717"/><stop offset=".961" stop-color="#000000"/><stop offset=".9675" stop-color="#050505"/><stop offset=".974" stop-color="#020202"/><stop offset=".9805" stop-color="#000000"/><stop offset=".987" stop-color="#040404"/><stop offset=".9935" stop-color="#232323"/><stop offset="1" stop-color="#000000"/></linearGradient>
<linearGradient id="r33" gradientUnits="userSpaceOnUse" x1="244.3" x2="2013.1" y1="0" y2="0"><stop offset="0" stop-color="#000000"/><stop offset=".026" stop-color="#000000"/><stop offset=".0325" stop-color="#131313"/><stop offset=".039" stop-color="#232323"/><stop offset=".0455" stop-color="#010101"/><stop offset=".0519" stop-color="#000000"/><stop offset=".0844" stop-color="#000000"/><stop offset=".0909" stop-color="#020202"/><stop offset=".0974" stop-color="#151515"/><stop offset=".1039" stop-color="#000000"/><stop offset=".1104" stop-color="#040404"/><stop offset=".1169" stop-color="#0f0f0f"/><stop offset=".1234" stop-color="#010101"/><stop offset=".1299" stop-color="#010101"/><stop offset=".1364" stop-color="#151515"/><stop offset=".1429" stop-color="#020202"/><stop offset=".1494" stop-color="#020202"/><stop offset=".1558" stop-color="#000000"/><stop offset=".1623" stop-color="#000000"/><stop offset=".1688" stop-color="#1f1f1f"/><stop offset=".1753" stop-color="#010101"/><stop offset=".1818" stop-color="#010101"/><stop offset=".1883" stop-color="#494949"/><stop offset=".1948" stop-color="#020202"/><stop offset=".2013" stop-color="#000000"/><stop offset=".2078" stop-color="#090909"/><stop offset=".2143" stop-color="#171717"/><stop offset=".2208" stop-color="#030303"/><stop offset=".2273" stop-color="#010101"/><stop offset=".2338" stop-color="#010101"/><stop offset=".2403" stop-color="#090909"/><stop offset=".2468" stop-color="#0a0a0a"/><stop offset=".2532" stop-color="#494949"/><stop offset=".2597" stop-color="#020202"/><stop offset=".2662" stop-color="#2a2a2a"/><stop offset=".2727" stop-color="#060606"/><stop offset=".2792" stop-color="#000000"/><stop offset=".2857" stop-color="#1d1d1d"/><stop offset=".2922" stop-color="#010101"/><stop offset=".2987" stop-color="#000000"/><stop offset=".3182" stop-color="#000000"/><stop offset=".3247" stop-color="#010101"/><stop offset=".3312" stop-color="#1d1d1d"/><stop offset=".3377" stop-color="#010101"/><stop offset=".3442" stop-color="#000000"/><stop offset=".3571" stop-color="#000000"/><stop offset=".3636" stop-color="#070707"/><stop offset=".3701" stop-color="#000000"/><stop offset=".3766" stop-color="#010101"/><stop offset=".3831" stop-color="#444444"/><stop offset=".3896" stop-color="#030303"/><stop offset=".3961" stop-color="#3b3b3b"/><stop offset=".4026" stop-color="#010101"/><stop offset=".4091" stop-color="#000000"/><stop offset=".4156" stop-color="#040404"/><stop offset=".4221" stop-color="#2b2b2b"/><stop offset=".4286" stop-color="#0a0a0a"/><stop offset=".4351" stop-color="#000000"/><stop offset=".4481" stop-color="#000000"/><stop offset=".4545" stop-color="#020202"/><stop offset=".461" stop-color="#0c0c0c"/><stop offset=".4675" stop-color="#111111"/><stop offset=".474" stop-color="#000000"/><stop offset=".4805" stop-color="#000000"/><stop offset=".487" stop-color="#030303"/><stop offset=".4935" stop-color="#2a2a2a"/><stop offset=".5" stop-color="#010101"/><stop offset=".5065" stop-color="#010101"/><stop offset=".513" stop-color="#1f1f1f"/><stop offset=".5195" stop-color="#131313"/><stop offset=".526" stop-color="#000000"/><stop offset=".5325" stop-color="#010101"/><stop offset=".539" stop-color="#010101"/><stop offset=".5455" stop-color="#020202"/><stop offset=".5519" stop-color="#060606"/><stop offset=".5584" stop-color="#010101"/><stop offset=".5649" stop-color="#000000"/><stop offset=".5779" stop-color="#000000"/><stop offset=".5844" stop-color="#010101"/><stop offset=".5909" stop-color="#1e1e1e"/><stop offset=".5974" stop-color="#000000"/><stop offset=".6039" stop-color="#000000"/><stop offset=".6104" stop-color="#575757"/><stop offset=".6169" stop-color="#050505"/><stop offset=".6234" stop-color="#000000"/><stop offset=".6623" stop-color="#000000"/><stop offset=".6688" stop-color="#1b1b1b"/><stop offset=".6753" stop-color="#010101"/><stop offset=".6818" stop-color="#000000"/><stop offset=".6883" stop-color="#040404"/><stop offset=".6948" stop-color="#2a2a2a"/><stop offset=".7013" stop-color="#090909"/><stop offset=".7078" stop-color="#000000"/><stop offset=".7143" stop-color="#000000"/><stop offset=".7208" stop-color="#101010"/><stop offset=".7273" stop-color="#121212"/><stop offset=".7338" stop-color="#070707"/><stop offset=".7403" stop-color="#000000"/><stop offset=".7532" stop-color="#000000"/><stop offset=".7597" stop-color="#0e0e0e"/><stop offset=".7662" stop-color="#0a0a0a"/><stop offset=".7727" stop-color="#000000"/><stop offset=".7857" stop-color="#000000"/><stop offset=".7922" stop-color="#010101"/><stop offset=".7987" stop-color="#404040"/><stop offset=".8052" stop-color="#010101"/><stop offset=".8117" stop-color="#000000"/><stop offset=".8247" stop-color="#000000"/><stop offset=".8312" stop-color="#181818"/><stop offset=".8377" stop-color="#030303"/><stop offset=".8442" stop-color="#020202"/><stop offset=".8506" stop-color="#484848"/><stop offset=".8571" stop-color="#171717"/><stop offset=".8636" stop-color="#050505"/><stop offset=".8701" stop-color="#000000"/><stop offset=".8766" stop-color="#030303"/><stop offset=".8831" stop-color="#464646"/><stop offset=".8896" stop-color="#181818"/><stop offset=".8961" stop-color="#050505"/><stop offset=".9026" stop-color="#000000"/><stop offset=".9091" stop-color="#000000"/><stop offset=".9156" stop-color="#010101"/><stop offset=".9221" stop-color="#2d2d2d"/><stop offset=".9286" stop-color="#010101"/><stop offset=".9351" stop-color="#000000"/><stop offset=".9416" stop-color="#020202"/><stop offset=".9481" stop-color="#0f0f0f"/><stop offset=".9545" stop-color="#050505"/><stop offset=".961" stop-color="#000000"/><stop offset=".9675" stop-color="#111111"/><stop offset=".974" stop-color="#010101"/><stop offset=".9805" stop-color="#000000"/><stop offset=".987" stop-color="#020202"/><stop offset=".9935" stop-color="#040404"/><stop offset="1" stop-color="#000000"/></linearGradient>
<linearGradient id="r34" gradientUnits="userSpaceOnUse" x1="244.3" x2="2013.1" y1="0" y2="0"><stop offset="0" stop-color="#000000"/><stop offset=".026" stop-color="#000000"/><stop offset=".0325" stop-color="#212121"/><stop offset=".039" stop-color="#292929"/><stop offset=".0455" stop-color="#010101"/><stop offset=".0519" stop-color="#000000"/><stop offset=".0584" stop-color="#010101"/><stop offset=".0649" stop-color="#000000"/><stop offset=".0844" stop-color="#000000"/><stop offset=".0909" stop-color="#020202"/><stop offset=".0974" stop-color="#0c0c0c"/><stop offset=".1039" stop-color="#000000"/><stop offset=".1104" stop-color="#0d0d0d"/><stop offset=".1169" stop-color="#090909"/><stop offset=".1234" stop-color="#000000"/><stop offset=".1299" stop-color="#020202"/><stop offset=".1364" stop-color="#080808"/><stop offset=".1429" stop-color="#010101"/><stop offset=".1494" stop-color="#000000"/><stop offset=".1558" stop-color="#000000"/><stop offset=".1623" stop-color="#010101"/><stop offset=".1688" stop-color="#212121"/><stop offset=".1753" stop-color="#010101"/><stop offset=".1818" stop-color="#030303"/><stop offset=".1883" stop-color="#3a3a3a"/><stop offset=".1948" stop-color="#000000"/><stop offset=".2013" stop-color="#000000"/><stop offset=".2078" stop-color="#161616"/><stop offset=".2143" stop-color="#2d2d2d"/><stop offset=".2208" stop-color="#030303"/><stop offset=".2273" stop-color="#0b0b0b"/><stop offset=".2338" stop-color="#030303"/><stop offset=".2403" stop-color="#0e0e0e"/><stop offset=".2468" stop-color="#060606"/><stop offset=".2532" stop-color="#4b4b4b"/><stop offset=".2597" stop-color="#020202"/><stop offset=".2662" stop-color="#3c3c3c"/><stop offset=".2727" stop-color="#030303"/><stop offset=".2792" stop-color="#020202"/><stop offset=".2857" stop-color="#1a1a1a"/><stop offset=".2922" stop-color="#000000"/><stop offset=".3182" stop-color="#000000"/><stop offset=".3247" stop-color="#030303"/><stop offset=".3312" stop-color="#161616"/><stop offset=".3377" stop-color="#000000"/><stop offset=".3506" stop-color="#000000"/><stop offset=".3571" stop-color="#030303"/><stop offset=".3636" stop-color="#0c0c0c"/><stop offset=".3701" stop-color="#000000"/><stop offset=".3766" stop-color="#030303"/><stop offset=".3831" stop-color="#363636"/><stop offset=".3896" stop-color="#010101"/><stop offset=".3961" stop-color="#4a4a4a"/><stop offset=".4026" stop-color="#010101"/><stop offset=".4091" stop-color="#000000"/><stop offset=".4156" stop-color="#020202"/><stop offset=".4221" stop-color="#090909"/><stop offset=".4286" stop-color="#010101"/><stop offset=".4351" stop-color="#000000"/><stop offset=".4416" stop-color="#000000"/><stop offset=".4481" stop-color="#030303"/><stop offset=".4545" stop-color="#050505"/><stop offset=".461" stop-color="#070707"/><stop offset=".4675" stop-color="#020202"/><stop offset=".474" stop-color="#000000"/><stop offset=".4805" stop-color="#000000"/><stop offset=".487" stop-color="#101010"/><stop offset=".4935" stop-color="#272727"/><stop offset=".5" stop-color="#010101"/><stop offset=".5065" stop-color="#020202"/><stop offset=".513" stop-color="#333333"/><stop offset=".5195" stop-color="#151515"/><stop offset=".526" stop-color="#000000"/><stop offset=".5325" stop-color="#0a0a0a"/><stop offset=".539" stop-color="#040404"/><stop offset=".5455" stop-color="#141414"/><stop offset=".5519" stop-color="#080808"/><stop offset=".5584" stop-color="#000000"/><stop offset=".5779" stop-color="#000000"/><stop offset=".5844" stop-color="#030303"/><stop offset=".5909" stop-color="#0f0f0f"/><stop offset=".5974" stop-color="#000000"/><stop offset=".6039" stop-color="#030303"/><stop offset=".6104" stop-color="#636363"/><stop offset=".6169" stop-color="#030303"/><stop offset=".6234" stop-color="#020202"/><stop offset=".6299" stop-color="#000000"/><stop offset=".6558" stop-color="#000000"/><stop offset=".6623" stop-color="#010101"/><stop offset=".6688" stop-color="#1b1b1b"/><stop offset=".6753" stop-color="#010101"/><stop offset=".6818" stop-color="#000000"/><stop offset=".6883" stop-color="#050505"/><stop offset=".6948" stop-color="#1d1d1d"/><stop offset=".7013" stop-color="#030303"/><stop offset=".7078" stop-color="#000000"/><stop offset=".7143" stop-color="#000000"/><stop offset=".7208" stop-color="#101010"/><stop offset=".7273" stop-color="#292929"/><stop offset=".7338" stop-color="#0d0d0d"/><stop offset=".7403" stop-color="#000000"/><stop offset=".7532" stop-color="#000000"/><stop offset=".7597" stop-color="#222222"/><stop offset=".7662" stop-color="#0b0b0b"/><stop offset=".7727" stop-color="#000000"/><stop offset=".7857" stop-color="#000000"/><stop offset=".7922" stop-color="#010101"/><stop offset=".7987" stop-color="#515151"/><stop offset=".8052" stop-color="#010101"/><stop offset=".8117" stop-color="#000000"/><stop offset=".8182" stop-color="#000000"/><stop offset=".8247" stop-color="#010101"/><stop offset=".8312" stop-color="#252525"/><stop offset=".8377" stop-color="#060606"/><stop offset=".8442" stop-color="#030303"/><stop offset=".8506" stop-color="#121212"/><stop offset=".8571" stop-color="#404040"/><stop offset=".8636" stop-color="#030303"/><stop offset=".8701" stop-color="#000000"/><stop offset=".8766" stop-color="#040404"/><stop offset=".8831" stop-color="#101010"/><stop offset=".8896" stop-color="#414141"/><stop offset=".8961" stop-color="#030303"/><stop offset=".9026" stop-color="#000000"/><stop offset=".9091" stop-color="#000000"/><stop offset=".9156" stop-color="#040404"/><stop offset=".9221" stop-color="#3a3a3a"/><stop offset=".9286" stop-color="#000000"/><stop offset=".9351" stop-color="#000000"/><stop offset=".9416" stop-color="#090909"/><stop offset=".9481" stop-color="#0c0c0c"/><stop offset=".9545" stop-color="#010101"/><stop offset=".961" stop-color="#010101"/><stop offset=".9675" stop-color="#202020"/><stop offset=".974" stop-color="#000000"/><stop offset=".987" stop-color="#000000"/><stop offset=".9935" stop-color="#010101"/><stop offset="1" stop-color="#000000"/></linearGradient>
<linearGradient id="r35" gradientUnits="userSpaceOnUse" x1="244.3" x2="2013.1" y1="0" y2="0"><stop offset="0" stop-color="#000000"/><stop offset=".0195" stop-color="#000000"/><stop offset=".026" stop-color="#010101"/><stop offset=".0325" stop-color="#232323"/><stop offset=".039" stop-color="#1d1d1d"/><stop offset=".0455" stop-color="#000000"/><stop offset=".0519" stop-color="#020202"/><stop offset=".0584" stop-color="#020202"/><stop offset=".0649" stop-color="#000000"/><stop offset=".0844" stop-color="#000000"/><stop offset=".0909" stop-color="#010101"/><stop offset=".0974" stop-color="#060606"/><stop offset=".1039" stop-color="#000000"/><stop offset=".1104" stop-color="#151515"/><stop offset=".1169" stop-color="#030303"/><stop offset=".1234" stop-color="#000000"/><stop offset=".1299" stop-color="#020202"/><stop offset=".1364" stop-color="#010101"/><stop offset=".1429" stop-color="#000000"/><stop offset=".1558" stop-color="#000000"/><stop offset=".1623" stop-color="#010101"/><stop offset=".1688" stop-color="#1f1f1f"/><stop offset=".1753" stop-color="#000000"/><stop offset=".1818" stop-color="#040404"/><stop offset=".1883" stop-color="#0f0f0f"/><stop offset=".1948" stop-color="#000000"/><stop offset=".2013" stop-color="#000000"/><stop offset=".2078" stop-color="#242424"/><stop offset=".2143" stop-color="#393939"/><stop offset=".2208" stop-color="#010101"/><stop offset=".2273" stop-color="#343434"/><stop offset=".2338" stop-color="#030303"/><stop offset=".2403" stop-color="#161616"/><stop offset=".2468" stop-color="#030303"/><stop offset=".2532" stop-color="#3a3a3a"/><stop offset=".2597" stop-color="#020202"/><stop offset=".2662" stop-color="#303030"/><stop offset=".2727" stop-color="#010101"/><stop offset=".2792" stop-color="#050505"/><stop offset=".2857" stop-color="#0c0c0c"/><stop offset=".2922" stop-color="#000000"/><stop offset=".3182" stop-color="#000000"/><stop offset=".3247" stop-color="#040404"/><stop offset=".3312" stop-color="#070707"/><stop offset=".3377" stop-color="#000000"/><stop offset=".3506" stop-color="#000000"/><stop offset=".3571" stop-color="#0a0a0a"/><stop offset=".3636" stop-color="#080808"/><stop offset=".3701" stop-color="#000000"/><stop offset=".3766" stop-color="#050505"/><stop offset=".3831" stop-color="#0e0e0e"/><stop offset=".3896" stop-color="#010101"/><stop offset=".3961" stop-color="#4b4b4b"/><stop offset=".4026" stop-color="#010101"/><stop offset=".4091" stop-color="#000000"/><stop offset=".4156" stop-color="#000000"/><stop offset=".4221" stop-color="#010101"/><stop offset=".4286" stop-color="#000000"/><stop offset=".4416" stop-color="#000000"/><stop offset=".4481" stop-color="#111111"/><stop offset=".4545" stop-color="#060606"/><stop offset=".461" stop-color="#020202"/><stop offset=".4675" stop-color="#000000"/><stop offset=".4805" stop-color="#000000"/><stop offset=".487" stop-color="#2d2d2d"/><stop offset=".4935" stop-color="#181818"/><stop offset=".5" stop-color="#010101"/><stop offset=".5065" stop-color="#050505"/><stop offset=".513" stop-color="#3b3b3b"/><stop offset=".5195" stop-color="#101010"/><stop offset=".526" stop-color="#000000"/><stop offset=".5325" stop-color="#212121"/><stop offset=".539" stop-color="#030303"/><stop offset=".5455" stop-color="#4e4e4e"/><stop offset=".5519" stop-color="#060606"/><stop offset=".5584" stop-color="#000000"/><stop offset=".5779" stop-color="#000000"/><stop offset=".5844" stop-color="#040404"/><stop offset=".5909" stop-color="#040404"/><stop offset=".5974" stop-color="#000000"/><stop offset=".6039" stop-color="#050505"/><stop offset=".6104" stop-color="#262626"/><stop offset=".6169" stop-color="#1b1b1b"/><stop offset=".6234" stop-color="#040404"/><stop offset=".6299" stop-color="#000000"/><stop offset=".6558" stop-color="#000000"/><stop offset=".6623" stop-color="#020202"/><stop offset=".6688" stop-color="#141414"/><stop offset=".6753" stop-color="#020202"/><stop offset=".6818" stop-color="#000000"/><stop offset=".6883" stop-color="#060606"/><stop offset=".6948" stop-color="#0d0d0d"/><stop offset=".7013" stop-color="#010101"/><stop offset=".7078" stop-color="#000000"/><stop offset=".7143" stop-color="#010101"/><stop offset=".7208" stop-color="#0b0b0b"/><stop offset=".7273" stop-color="#2f2f2f"/><stop offset=".7338" stop-color="#0a0a0a"/><stop offset=".7403" stop-color="#000000"/><stop offset=".7532" stop-color="#000000"/><stop offset=".7597" stop-color="#2e2e2e"/><stop offset=".7662" stop-color="#070707"/><stop offset=".7727" stop-color="#000000"/><stop offset=".7857" stop-color="#000000"/><stop offset=".7922" stop-color="#010101"/><stop offset=".7987" stop-color="#535353"/><stop offset=".8052" stop-color="#010101"/><stop offset=".8117" stop-color="#000000"/><stop offset=".8182" stop-color="#000000"/><stop offset=".8247" stop-color="#060606"/><stop offset=".8312" stop-color="#5a5a5a"/><stop offset=".8377" stop-color="#040404"/><stop offset=".8442" stop-color="#010101"/><stop offset=".8506" stop-color="#030303"/><stop offset=".8571" stop-color="#474747"/><stop offset=".8636" stop-color="#010101"/><stop offset=".8701" stop-color="#000000"/><stop offset=".8766" stop-color="#010101"/><stop offset=".8831" stop-color="#030303"/><stop offset=".8896" stop-color="#474747"/><stop offset=".8961" stop-color="#010101"/><stop offset=".9026" stop-color="#000000"/><stop offset=".9091" stop-color="#030303"/><stop offset=".9156" stop-color="#0a0a0a"/><stop offset=".9221" stop-color="#191919"/><stop offset=".9286" stop-color="#000000"/><stop offset=".9351" stop-color="#000000"/><stop offset=".9416" stop-color="#1c1c1c"/><stop offset=".9481" stop-color="#050505"/><stop offset=".9545" stop-color="#000000"/><stop offset=".961" stop-color="#030303"/><stop offset=".9675" stop-color="#202020"/><stop offset=".974" stop-color="#000000"/><stop offset=".987" stop-color="#000000"/><stop offset=".9935" stop-color="#050505"/><stop offset="1" stop-color="#010101"/></linearGradient>
<linearGradient id="r36" gradientUnits="userSpaceOnUse" x1="244.3" x2="2013.1" y1="0" y2="0"><stop offset="0" stop-color="#000000"/><stop offset=".0195" stop-color="#000000"/><stop offset=".026" stop-color="#010101"/><stop offset=".0325" stop-color="#171717"/><stop offset=".039" stop-color="#0d0d0d"/><stop offset=".0455" stop-color="#000000"/><stop offset=".0519" stop-color="#080808"/><stop offset=".0584" stop-color="#020202"/><stop offset=".0649" stop-color="#000000"/><stop offset=".0844" stop-color="#000000"/><stop offset=".0909" stop-color="#010101"/><stop offset=".0974" stop-color="#020202"/><stop offset=".1039" stop-color="#000000"/><stop offset=".1104" stop-color="#101010"/><stop offset=".1169" stop-color="#000000"/><stop offset=".1299" stop-color="#000000"/><stop offset=".1364" stop-color="#050505"/><stop offset=".1429" stop-color="#000000"/><stop offset=".1558" stop-color="#000000"/><stop offset=".1623" stop-color="#010101"/><stop offset=".1688" stop-color="#1a1a1a"/><stop offset=".1753" stop-color="#000000"/><stop offset=".1818" stop-color="#020202"/><stop offset=".1883" stop-color="#010101"/><stop offset=".1948" stop-color="#000000"/><stop offset=".2013" stop-color="#010101"/><stop offset=".2078" stop-color="#272727"/><stop offset=".2143" stop-color="#242424"/><stop offset=".2208" stop-color="#020202"/><stop offset=".2273" stop-color="#515151"/><stop offset=".2338" stop-color="#020202"/><stop offset=".2403" stop-color="#191919"/><stop offset=".2468" stop-color="#010101"/><stop offset=".2532" stop-color="#222222"/><stop offset=".2597" stop-color="#020202"/><stop offset=".2662" stop-color="#151515"/><stop offset=".2727" stop-color="#000000"/><stop offset=".2792" stop-color="#060606"/><stop offset=".2857" stop-color="#040404"/><stop offset=".2922" stop-color="#000000"/><stop offset=".3182" stop-color="#000000"/><stop offset=".3247" stop-color="#030303"/><stop offset=".3312" stop-color="#010101"/><stop offset=".3442" stop-color="#010101"/><stop offset=".3506" stop-color="#000000"/><stop offset=".3571" stop-color="#0c0c0c"/><stop offset=".3636" stop-color="#020202"/><stop offset=".3701" stop-color="#000000"/><stop offset=".3766" stop-color="#020202"/><stop offset=".3831" stop-color="#010101"/><stop offset=".3896" stop-color="#010101"/><stop offset=".3961" stop-color="#3f3f3f"/><stop offset=".4026" stop-color="#010101"/><stop offset=".4091" stop-color="#000000"/><stop offset=".4416" stop-color="#000000"/><stop offset=".4481" stop-color="#343434"/><stop offset=".4545" stop-color="#030303"/><stop offset=".461" stop-color="#000000"/><stop offset=".474" stop-color="#000000"/><stop offset=".4805" stop-color="#010101"/><stop offset=".487" stop-color="#494949"/><stop offset=".4935" stop-color="#151515"/><stop offset=".5" stop-color="#010101"/><stop offset=".5065" stop-color="#0c0c0c"/><stop offset=".513" stop-color="#2f2f2f"/><stop offset=".5195" stop-color="#080808"/><stop offset=".526" stop-color="#000000"/><stop offset=".5325" stop-color="#191919"/><stop offset=".539" stop-color="#080808"/><stop offset=".5455" stop-color="#787878"/><stop offset=".5519" stop-color="#020202"/><stop offset=".5584" stop-color="#000000"/><stop offset=".5779" stop-color="#000000"/><stop offset=".5844" stop-color="#020202"/><stop offset=".5909" stop-color="#000000"/><stop offset=".5974" stop-color="#000000"/><stop offset=".6039" stop-color="#050505"/><stop offset=".6104" stop-color="#060606"/><stop offset=".6169" stop-color="#494949"/><stop offset=".6234" stop-color="#070707"/><stop offset=".6299" stop-color="#010101"/><stop offset=".6364" stop-color="#000000"/><stop offset=".6558" stop-color="#000000"/><stop offset=".6623" stop-color="#020202"/><stop offset=".6688" stop-color="#3b3b3b"/><stop offset=".6753" stop-color="#020202"/><stop offset=".6818" stop-color="#040404"/><stop offset=".6948" stop-color="#040404"/><stop offset=".7013" stop-color="#000000"/><stop offset=".7078" stop-color="#000000"/><stop offset=".7143" stop-color="#070707"/><stop offset=".7208" stop-color="#060606"/><stop offset=".7273" stop-color="#191919"/><stop offset=".7338" stop-color="#040404"/><stop offset=".7403" stop-color="#000000"/><stop offset=".7532" stop-color="#000000"/><stop offset=".7597" stop-color="#232323"/><stop offset=".7662" stop-color="#020202"/><stop offset=".7727" stop-color="#000000"/><stop offset=".7857" stop-color="#000000"/><stop offset=".7922" stop-color="#010101"/><stop offset=".7987" stop-color="#454545"/><stop offset=".8052" stop-color="#010101"/><stop offset=".8117" stop-color="#000000"/><stop offset=".8182" stop-color="#000000"/><stop offset=".8247" stop-color="#212121"/><stop offset=".8312" stop-color="#656565"/><stop offset=".8377" stop-color="#010101"/><stop offset=".8442" stop-color="#000000"/><stop offset=".8506" stop-color="#050505"/><stop offset=".8571" stop-color="#1f1f1f"/><stop offset=".8636" stop-color="#000000"/><stop offset=".8766" stop-color="#000000"/><stop offset=".8831" stop-color="#050505"/><stop offset=".8896" stop-color="#1e1e1e"/><stop offset=".8961" stop-color="#000000"/><stop offset=".9026" stop-color="#000000"/><stop offset=".9091" stop-color="#161616"/><stop offset=".9156" stop-color="#090909"/><stop offset=".9221" stop-color="#040404"/><stop offset=".9286" stop-color="#000000"/><stop offset=".9351" stop-color="#010101"/><stop offset=".9416" stop-color="#303030"/><stop offset=".9481" stop-color="#010101"/><stop offset=".9545" stop-color="#000000"/><stop offset=".961" stop-color="#090909"/><stop offset=".9675" stop-color="#111111"/><stop offset=".974" stop-color="#000000"/><stop offset=".987" stop-color="#000000"/><stop offset=".9935" stop-color="#1e1e1e"/><stop offset="1" stop-color="#020202"/></linearGradient>
<linearGradient id="r37" gradientUnits="userSpaceOnUse" x1="244.3" x2="2013.1" y1="0" y2="0"><stop offset="0" stop-color="#000000"/><stop offset=".026" stop-color="#000000"/><stop offset=".0325" stop-color="#090909"/><stop offset=".039" stop-color="#030303"/><stop offset=".0455" stop-color="#000000"/><stop offset=".0519" stop-color="#121212"/><stop offset=".0584" stop-color="#010101"/><stop offset=".0714" stop-color="#010101"/><stop offset=".0779" stop-color="#000000"/><stop offset=".0909" stop-color="#000000"/><stop offset=".0974" stop-color="#010101"/><stop offset=".1039" stop-color="#010101"/><stop offset=".1104" stop-color="#070707"/><stop offset=".1169" stop-color="#000000"/><stop offset=".1234" stop-color="#000000"/><stop offset=".1299" stop-color="#010101"/><stop offset=".1364" stop-color="#292929"/><stop offset=".1429" stop-color="#000000"/><stop offset=".1558" stop-color="#000000"/><stop offset=".1623" stop-color="#010101"/><stop offset=".1688" stop-color="#141414"/><stop offset=".1753" stop-color="#000000"/><stop offset=".1948" stop-color="#000000"/><stop offset=".2013" stop-color="#040404"/><stop offset=".2078" stop-color="#1b1b1b"/><stop offset=".2143" stop-color="#0a0a0a"/><stop offset=".2208" stop-color="#050505"/><stop offset=".2273" stop-color="#272727"/><stop offset=".2338" stop-color="#020202"/><stop offset=".2403" stop-color="#141414"/><stop offset=".2468" stop-color="#010101"/><stop offset=".2532" stop-color="#0f0f0f"/><stop offset=".2597" stop-color="#010101"/><stop offset=".2662" stop-color="#050505"/><stop offset=".2727" stop-color="#000000"/><stop offset=".2792" stop-color="#0c0c0c"/><stop offset=".2857" stop-color="#030303"/><stop offset=".2922" stop-color="#000000"/><stop offset=".2987" stop-color="#020202"/><stop offset=".3052" stop-color="#010101"/><stop offset=".3117" stop-color="#000000"/><stop offset=".3182" stop-color="#000000"/><stop offset=".3247" stop-color="#010101"/><stop offset=".3312" stop-color="#000000"/><stop offset=".3377" stop-color="#0c0c0c"/><stop offset=".3442" stop-color="#020202"/><stop offset=".3506" stop-color="#000000"/><stop offset=".3571" stop-color="#050505"/><stop offset=".3636" stop-color="#000000"/><stop offset=".3831" stop-color="#000000"/><stop offset=".3896" stop-color="#010101"/><stop offset=".3961" stop-color="#2b2b2b"/><stop offset=".4026" stop-color="#020202"/><stop offset=".4091" stop-color="#020202"/><stop offset=".4156" stop-color="#000000"/><stop offset=".4351" stop-color="#000000"/><stop offset=".4416" stop-color="#020202"/><stop offset=".4481" stop-color="#4b4b4b"/><stop offset=".4545" stop-color="#010101"/><stop offset=".461" stop-color="#000000"/><stop offset=".474" stop-color="#000000"/><stop offset=".4805" stop-color="#030303"/><stop offset=".487" stop-color="#464646"/><stop offset=".4935" stop-color="#282828"/><stop offset=".5" stop-color="#010101"/><stop offset=".5065" stop-color="#1c1c1c"/><stop offset=".513" stop-color="#191919"/><stop offset=".5195" stop-color="#030303"/><stop offset=".526" stop-color="#010101"/><stop offset=".5325" stop-color="#040404"/><stop offset=".539" stop-color="#2c2c2c"/><stop offset=".5455" stop-color="#4a4a4a"/><stop offset=".5519" stop-color="#000000"/><stop offset=".5779" stop-color="#000000"/><stop offset=".5844" stop-color="#010101"/><stop offset=".5909" stop-color="#000000"/><stop offset=".5974" stop-color="#000000"/><stop offset=".6039" stop-color="#0e0e0e"/><stop offset=".6104" stop-color="#040404"/><stop offset=".6169" stop-color="#323232"/><stop offset=".6234" stop-color="#1f1f1f"/><stop offset=".6299" stop-color="#010101"/><stop offset=".6429" stop-color="#010101"/><stop offset=".6494" stop-color="#000000"/><stop offset=".6558" stop-color="#000000"/><stop offset=".6623" stop-color="#040404"/><stop offset=".6688" stop-color="#656565"/><stop offset=".6753" stop-color="#010101"/><stop offset=".6818" stop-color="#111111"/><stop offset=".6883" stop-color="#020202"/><stop offset=".6948" stop-color="#010101"/><stop offset=".7013" stop-color="#000000"/><stop offset=".7078" stop-color="#000000"/><stop offset=".7143" stop-color="#1d1d1d"/><stop offset=".7208" stop-color="#020202"/><stop offset=".7273" stop-color="#060606"/><stop offset=".7338" stop-color="#010101"/><stop offset=".7403" stop-color="#010101"/><stop offset=".7468" stop-color="#000000"/><stop offset=".7532" stop-color="#000000"/><stop offset=".7597" stop-color="#0e0e0e"/><stop offset=".7662" stop-color="#000000"/><stop offset=".7857" stop-color="#000000"/><stop offset=".7922" stop-color="#010101"/><stop offset=".7987" stop-color="#2e2e2e"/><stop offset=".8052" stop-color="#010101"/><stop offset=".8117" stop-color="#000000"/><stop offset=".8182" stop-color="#000000"/><stop offset=".8247" stop-color="#585858"/><stop offset=".8312" stop-color="#2a2a2a"/><stop offset=".8377" stop-color="#000000"/><stop offset=".8442" stop-color="#000000"/><stop offset=".8506" stop-color="#050505"/><stop offset=".8571" stop-color="#050505"/><stop offset=".8636" stop-color="#000000"/><stop offset=".8766" stop-color="#000000"/><stop offset=".8831" stop-color="#050505"/><stop offset=".8896" stop-color="#050505"/><stop offset=".8961" stop-color="#000000"/><stop offset=".9026" stop-color="#010101"/><stop offset=".9091" stop-color="#464646"/><stop offset=".9156" stop-color="#040404"/><stop offset=".9221" stop-color="#000000"/><stop offset=".9286" stop-color="#000000"/><stop offset=".9351" stop-color="#030303"/><stop offset=".9416" stop-color="#2d2d2d"/><stop offset=".9481" stop-color="#000000"/><stop offset=".9545" stop-color="#020202"/><stop offset=".961" stop-color="#0d0d0d"/><stop offset=".9675" stop-color="#050505"/><stop offset=".974" stop-color="#000000"/><stop offset=".9805" stop-color="#010101"/><stop offset=".987" stop-color="#010101"/><stop offset=".9935" stop-color="#454545"/><stop offset="1" stop-color="#020202"/></linearGradient>
<linearGradient id="r38" gradientUnits="userSpaceOnUse" x1="244.3" x2="2013.1" y1="0" y2="0"><stop offset="0" stop-color="#000000"/><stop offset=".026" stop-color="#000000"/><stop offset=".0325" stop-color="#020202"/><stop offset=".039" stop-color="#010101"/><stop offset=".0455" stop-color="#010101"/><stop offset=".0519" stop-color="#131313"/><stop offset=".0584" stop-color="#000000"/><stop offset=".0649" stop-color="#090909"/><stop offset=".0714" stop-color="#020202"/><stop offset=".0779" stop-color="#000000"/><stop offset=".0974" stop-color="#000000"/><stop offset=".1039" stop-color="#0a0a0a"/><stop offset=".1104" stop-color="#020202"/><stop offset=".1169" stop-color="#000000"/><stop offset=".1234" stop-color="#020202"/><stop offset=".1299" stop-color="#121212"/><stop offset=".1364" stop-color="#6d6d6d"/><stop offset=".1429" stop-color="#000000"/><stop offset=".1558" stop-color="#000000"/><stop offset=".1623" stop-color="#010101"/><stop offset=".1688" stop-color="#0d0d0d"/><stop offset=".1753" stop-color="#000000"/><stop offset=".1948" stop-color="#000000"/><stop offset=".2013" stop-color="#0a0a0a"/><stop offset=".2078" stop-color="#0c0c0c"/><stop offset=".2143" stop-color="#010101"/><stop offset=".2208" stop-color="#040404"/><stop offset=".2273" stop-color="#060606"/><stop offset=".2338" stop-color="#060606"/><stop offset=".2403" stop-color="#0b0b0b"/><stop offset=".2468" stop-color="#020202"/><stop offset=".2532" stop-color="#060606"/><stop offset=".2597" stop-color="#010101"/><stop offset=".2662" stop-color="#010101"/><stop offset=".2727" stop-color="#000000"/><stop offset=".2792" stop-color="#2c2c2c"/><stop offset=".2857" stop-color="#030303"/><stop offset=".2922" stop-color="#000000"/><stop offset=".2987" stop-color="#0f0f0f"/><stop offset=".3052" stop-color="#010101"/><stop offset=".3117" stop-color="#000000"/><stop offset=".3312" stop-color="#000000"/><stop offset=".3377" stop-color="#232323"/><stop offset=".3442" stop-color="#010101"/><stop offset=".3506" stop-color="#000000"/><stop offset=".3571" stop-color="#010101"/><stop offset=".3636" stop-color="#000000"/><stop offset=".3896" stop-color="#000000"/><stop offset=".3961" stop-color="#181818"/><stop offset=".4026" stop-color="#121212"/><stop offset=".4091" stop-color="#050505"/><stop offset=".4156" stop-color="#000000"/><stop offset=".4351" stop-color="#000000"/><stop offset=".4416" stop-color="#060606"/><stop offset=".4481" stop-color="#363636"/><stop offset=".4545" stop-color="#0c0c0c"/><stop offset=".461" stop-color="#010101"/><stop offset=".4675" stop-color="#000000"/><stop offset=".474" stop-color="#000000"/><stop offset=".4805" stop-color="#090909"/><stop offset=".487" stop-color="#2a2a2a"/><stop offset=".4935" stop-color="#2c2c2c"/><stop offset=".5" stop-color="#010101"/><stop offset=".5065" stop-color="#1e1e1e"/><stop offset=".513" stop-color="#090909"/><stop offset=".5195" stop-color="#010101"/><stop offset=".526" stop-color="#0c0c0c"/><stop offset=".5325" stop-color="#010101"/><stop offset=".539" stop-color="#6b6b6b"/><stop offset=".5455" stop-color="#131313"/><stop offset=".5519" stop-color="#000000"/><stop offset=".5909" stop-color="#000000"/><stop offset=".5974" stop-color="#010101"/><stop offset=".6039" stop-color="#292929"/><stop offset=".6104" stop-color="#030303"/><stop offset=".6169" stop-color="#0c0c0c"/><stop offset=".6234" stop-color="#373737"/><stop offset=".6299" stop-color="#000000"/><stop offset=".6364" stop-color="#1a1a1a"/><stop offset=".6429" stop-color="#030303"/><stop offset=".6494" stop-color="#000000"/><stop offset=".6558" stop-color="#0b0b0b"/><stop offset=".6623" stop-color="#0c0c0c"/><stop offset=".6688" stop-color="#3b3b3b"/><stop offset=".6753" stop-color="#020202"/><stop offset=".6818" stop-color="#1b1b1b"/><stop offset=".6883" stop-color="#010101"/><stop offset=".6948" stop-color="#000000"/><stop offset=".7013" stop-color="#000000"/><stop offset=".7078" stop-color="#010101"/><stop offset=".7143" stop-color="#373737"/><stop offset=".7208" stop-color="#010101"/><stop offset=".7273" stop-color="#010101"/><stop offset=".7338" stop-color="#090909"/><stop offset=".7403" stop-color="#020202"/><stop offset=".7468" stop-color="#000000"/><stop offset=".7532" stop-color="#000000"/><stop offset=".7597" stop-color="#030303"/><stop offset=".7662" stop-color="#000000"/><stop offset=".7857" stop-color="#000000"/><stop offset=".7922" stop-color="#080808"/><stop offset=".7987" stop-color="#1b1b1b"/><stop offset=".8052" stop-color="#000000"/><stop offset=".8117" stop-color="#000000"/><stop offset=".8182" stop-color="#030303"/><stop offset=".8247" stop-color="#686868"/><stop offset=".8312" stop-color="#070707"/><stop offset=".8377" stop-color="#000000"/><stop offset=".8442" stop-color="#0d0d0d"/><stop offset=".8506" stop-color="#040404"/><stop offset=".8571" stop-color="#000000"/><stop offset=".8701" stop-color="#000000"/><stop offset=".8766" stop-color="#0e0e0e"/><stop offset=".8831" stop-color="#030303"/><stop offset=".8896" stop-color="#000000"/><stop offset=".8961" stop-color="#000000"/><stop offset=".9026" stop-color="#040404"/><stop offset=".9091" stop-color="#646464"/><stop offset=".9156" stop-color="#010101"/><stop offset=".9221" stop-color="#000000"/><stop offset=".9286" stop-color="#000000"/><stop offset=".9351" stop-color="#080808"/><stop offset=".9416" stop-color="#181818"/><stop offset=".9481" stop-color="#000000"/><stop offset=".9545" stop-color="#1b1b1b"/><stop offset=".961" stop-color="#0c0c0c"/><stop offset=".9675" stop-color="#010101"/><stop offset=".974" stop-color="#020202"/><stop offset=".9805" stop-color="#080808"/><stop offset=".987" stop-color="#020202"/><stop offset=".9935" stop-color="#444444"/><stop offset="1" stop-color="#010101"/></linearGradient>
<linearGradient id="r39" gradientUnits="userSpaceOnUse" x1="244.3" x2="2013.1" y1="0" y2="0"><stop offset="0" stop-color="#000000"/><stop offset=".039" stop-color="#000000"/><stop offset=".0455" stop-color="#010101"/><stop offset=".0519" stop-color="#080808"/><stop offset=".0584" stop-color="#000000"/><stop offset=".0649" stop-color="#181818"/><stop offset=".0714" stop-color="#010101"/><stop offset=".0779" stop-color="#000000"/><stop offset=".0974" stop-color="#000000"/><stop offset=".1039" stop-color="#191919"/><stop offset=".1104" stop-color="#010101"/><stop offset=".1169" stop-color="#000000"/><stop offset=".1234" stop-color="#1f1f1f"/><stop offset=".1299" stop-color="#737373"/><stop offset=".1364" stop-color="#575757"/><stop offset=".1429" stop-color="#000000"/><stop offset=".1558" stop-color="#000000"/><stop offset=".1623" stop-color="#010101"/><stop offset=".1688" stop-color="#080808"/><stop offset=".1753" stop-color="#000000"/><stop offset=".1948" stop-color="#000000"/><stop offset=".2013" stop-color="#0f0f0f"/><stop offset=".2078" stop-color="#040404"/><stop offset=".2143" stop-color="#000000"/><stop offset=".2208" stop-color="#010101"/><stop offset=".2273" stop-color="#000000"/><stop offset=".2338" stop-color="#0b0b0b"/><stop offset=".2403" stop-color="#040404"/><stop offset=".2468" stop-color="#131313"/><stop offset=".2532" stop-color="#020202"/><stop offset=".2597" stop-color="#000000"/><stop offset=".2662" stop-color="#000000"/><stop offset=".2727" stop-color="#010101"/><stop offset=".2792" stop-color="#4d4d4d"/><stop offset=".2857" stop-color="#010101"/><stop offset=".2922" stop-color="#010101"/><stop offset=".2987" stop-color="#191919"/><stop offset=".3052" stop-color="#000000"/><stop offset=".3247" stop-color="#000000"/><stop offset=".3312" stop-color="#020202"/><stop offset=".3377" stop-color="#1d1d1d"/><stop offset=".3442" stop-color="#000000"/><stop offset=".3896" stop-color="#000000"/><stop offset=".3961" stop-color="#0c0c0c"/><stop offset=".4026" stop-color="#383838"/><stop offset=".4091" stop-color="#030303"/><stop offset=".4156" stop-color="#000000"/><stop offset=".4351" stop-color="#000000"/><stop offset=".4416" stop-color="#0b0b0b"/><stop offset=".4481" stop-color="#141414"/><stop offset=".4545" stop-color="#252525"/><stop offset=".461" stop-color="#000000"/><stop offset=".474" stop-color="#000000"/><stop offset=".4805" stop-color="#0e0e0e"/><stop offset=".487" stop-color="#151515"/><stop offset=".4935" stop-color="#151515"/><stop offset=".5" stop-color="#030303"/><stop offset=".5065" stop-color="#0c0c0c"/><stop offset=".513" stop-color="#020202"/><stop offset=".5195" stop-color="#010101"/><stop offset=".526" stop-color="#2a2a2a"/><stop offset=".5325" stop-color="#040404"/><stop offset=".539" stop-color="#6b6b6b"/><stop offset=".5455" stop-color="#020202"/><stop offset=".5519" stop-color="#000000"/><stop offset=".5909" stop-color="#000000"/><stop offset=".5974" stop-color="#040404"/><stop offset=".6039" stop-color="#2a2a2a"/><stop offset=".6104" stop-color="#010101"/><stop offset=".6169" stop-color="#0a0a0a"/><stop offset=".6234" stop-color="#1c1c1c"/><stop offset=".6299" stop-color="#010101"/><stop offset=".6364" stop-color="#5f5f5f"/><stop offset=".6429" stop-color="#020202"/><stop offset=".6494" stop-color="#010101"/><stop offset=".6558" stop-color="#2f2f2f"/><stop offset=".6623" stop-color="#0c0c0c"/><stop offset=".6688" stop-color="#0c0c0c"/><stop offset=".6753" stop-color="#050505"/><stop offset=".6818" stop-color="#0f0f0f"/><stop offset=".6883" stop-color="#000000"/><stop offset=".7013" stop-color="#000000"/><stop offset=".7078" stop-color="#020202"/><stop offset=".7143" stop-color="#2a2a2a"/><stop offset=".7208" stop-color="#000000"/><stop offset=".7273" stop-color="#000000"/><stop offset=".7338" stop-color="#181818"/><stop offset=".7403" stop-color="#010101"/><stop offset=".7468" stop-color="#000000"/><stop offset=".7857" stop-color="#000000"/><stop offset=".7922" stop-color="#2c2c2c"/><stop offset=".7987" stop-color="#0d0d0d"/><stop offset=".8052" stop-color="#000000"/><stop offset=".8117" stop-color="#000000"/><stop offset=".8182" stop-color="#070707"/><stop offset=".8247" stop-color="#373737"/><stop offset=".8312" stop-color="#000000"/><stop offset=".8377" stop-color="#010101"/><stop offset=".8442" stop-color="#535353"/><stop offset=".8506" stop-color="#030303"/><stop offset=".8571" stop-color="#000000"/><stop offset=".8636" stop-color="#000000"/><stop offset=".8701" stop-color="#010101"/><stop offset=".8766" stop-color="#595959"/><stop offset=".8831" stop-color="#030303"/><stop offset=".8896" stop-color="#000000"/><stop offset=".8961" stop-color="#000000"/><stop offset=".9026" stop-color="#0d0d0d"/><stop offset=".9091" stop-color="#3f3f3f"/><stop offset=".9156" stop-color="#000000"/><stop offset=".9286" stop-color="#000000"/><stop offset=".9351" stop-color="#0b0b0b"/><stop offset=".9416" stop-color="#070707"/><stop offset=".9481" stop-color="#010101"/><stop offset=".9545" stop-color="#494949"/><stop offset=".961" stop-color="#050505"/><stop offset=".9675" stop-color="#000000"/><stop offset=".974" stop-color="#131313"/><stop offset=".9805" stop-color="#0f0f0f"/><stop offset=".987" stop-color="#020202"/><stop offset=".9935" stop-color="#1b1b1b"/><stop offset="1" stop-color="#000000"/></linearGradient>
<linearGradient id="r40" gradientUnits="userSpaceOnUse" x1="244.3" x2="2013.1" y1="0" y2="0"><stop offset="0" stop-color="#000000"/><stop offset=".039" stop-color="#000000"/><stop offset=".0455" stop-color="#020202"/><stop offset=".0519" stop-color="#020202"/><stop offset=".0584" stop-color="#010101"/><stop offset=".0649" stop-color="#121212"/><stop offset=".0714" stop-color="#000000"/><stop offset=".0909" stop-color="#000000"/><stop offset=".0974" stop-color="#010101"/><stop offset=".1039" stop-color="#121212"/><stop offset=".1104" stop-color="#000000"/><stop offset=".1169" stop-color="#000000"/><stop offset=".1234" stop-color="#4d4d4d"/><stop offset=".1299" stop-color="#8c8c8c"/><stop offset=".1364" stop-color="#151515"/><stop offset=".1429" stop-color="#000000"/><stop offset=".1558" stop-color="#000000"/><stop offset=".1623" stop-color="#010101"/><stop offset=".1688" stop-color="#040404"/><stop offset=".1753" stop-color="#000000"/><stop offset=".1948" stop-color="#000000"/><stop offset=".2013" stop-color="#0f0f0f"/><stop offset=".2078" stop-color="#010101"/><stop offset=".2143" stop-color="#000000"/><stop offset=".2273" stop-color="#000000"/><stop offset=".2338" stop-color="#0e0e0e"/><stop offset=".2403" stop-color="#020202"/><stop offset=".2468" stop-color="#1b1b1b"/><stop offset=".2532" stop-color="#010101"/><stop offset=".2597" stop-color="#000000"/><stop offset=".2662" stop-color="#000000"/><stop offset=".2727" stop-color="#040404"/><stop offset=".2792" stop-color="#2c2c2c"/><stop offset=".2857" stop-color="#000000"/><stop offset=".2922" stop-color="#020202"/><stop offset=".2987" stop-color="#0a0a0a"/><stop offset=".3052" stop-color="#000000"/><stop offset=".3247" stop-color="#000000"/><stop offset=".3312" stop-color="#020202"/><stop offset=".3377" stop-color="#070707"/><stop offset=".3442" stop-color="#000000"/><stop offset=".3896" stop-color="#000000"/><stop offset=".3961" stop-color="#050505"/><stop offset=".4026" stop-color="#303030"/><stop offset=".4091" stop-color="#010101"/><stop offset=".4156" stop-color="#000000"/><stop offset=".4351" stop-color="#000000"/><stop offset=".4416" stop-color="#0a0a0a"/><stop offset=".4481" stop-color="#050505"/><stop offset=".4545" stop-color="#111111"/><stop offset=".461" stop-color="#000000"/><stop offset=".474" stop-color="#000000"/><stop offset=".4805" stop-color="#0d0d0d"/><stop offset=".487" stop-color="#0b0b0b"/><stop offset=".4935" stop-color="#040404"/><stop offset=".5" stop-color="#020202"/><stop offset=".5065" stop-color="#020202"/><stop offset=".513" stop-color="#000000"/><stop offset=".5195" stop-color="#040404"/><stop offset=".526" stop-color="#181818"/><stop offset=".5325" stop-color="#070707"/><stop offset=".539" stop-color="#2a2a2a"/><stop offset=".5455" stop-color="#000000"/><stop offset=".5909" stop-color="#000000"/><stop offset=".5974" stop-color="#070707"/><stop offset=".6039" stop-color="#0f0f0f"/><stop offset=".6104" stop-color="#000000"/><stop offset=".6169" stop-color="#070707"/><stop offset=".6234" stop-color="#040404"/><stop offset=".6299" stop-color="#040404"/><stop offset=".6364" stop-color="#434343"/><stop offset=".6429" stop-color="#000000"/><stop offset=".6494" stop-color="#030303"/><stop offset=".6558" stop-color="#1c1c1c"/><stop offset=".6623" stop-color="#040404"/><stop offset=".6688" stop-color="#010101"/><stop offset=".6753" stop-color="#040404"/><stop offset=".6818" stop-color="#030303"/><stop offset=".6883" stop-color="#000000"/><stop offset=".7013" stop-color="#000000"/><stop offset=".7078" stop-color="#010101"/><stop offset=".7143" stop-color="#0d0d0d"/><stop offset=".7208" stop-color="#000000"/><stop offset=".7273" stop-color="#010101"/><stop offset=".7338" stop-color="#111111"/><stop offset=".7403" stop-color="#000000"/><stop offset=".7792" stop-color="#000000"/><stop offset=".7857" stop-color="#010101"/><stop offset=".7922" stop-color="#212121"/><stop offset=".7987" stop-color="#040404"/><stop offset=".8052" stop-color="#000000"/><stop offset=".8117" stop-color="#000000"/><stop offset=".8182" stop-color="#090909"/><stop offset=".8247" stop-color="#0d0d0d"/><stop offset=".8312" stop-color="#000000"/><stop offset=".8377" stop-color="#030303"/><stop offset=".8442" stop-color="#4c4c4c"/><stop offset=".8506" stop-color="#010101"/><stop offset=".8571" stop-color="#000000"/><stop offset=".8636" stop-color="#000000"/><stop offset=".8701" stop-color="#040404"/><stop offset=".8766" stop-color="#4d4d4d"/><stop offset=".8831" stop-color="#000000"/><stop offset=".8961" stop-color="#000000"/><stop offset=".9026" stop-color="#131313"/><stop offset=".9091" stop-color="#121212"/><stop offset=".9156" stop-color="#000000"/><stop offset=".9286" stop-color="#000000"/><stop offset=".9351" stop-color="#090909"/><stop offset=".9416" stop-color="#010101"/><stop offset=".9481" stop-color="#050505"/><stop offset=".9545" stop-color="#303030"/><stop offset=".961" stop-color="#010101"/><stop offset=".9675" stop-color="#000000"/><stop offset=".974" stop-color="#191919"/><stop offset=".9805" stop-color="#040404"/><stop offset=".987" stop-color="#010101"/><stop offset=".9935" stop-color="#050505"/><stop offset="1" stop-color="#000000"/></linearGradient>
</defs>
<g clip-path="url(#hc)"><g filter="url(#jet)">
<rect x="204.3" y="1187.0" width="1848.8" height="891.0" fill="#000"/>
<rect x="204.3" y="2027.6" width="1848.8" height="60.9" fill="url(#r0)"/>
<rect x="204.3" y="2007.3" width="1848.8" height="20.9" fill="url(#r1)"/>
<rect x="204.3" y="1987.0" width="1848.8" height="20.9" fill="url(#r2)"/>
<rect x="204.3" y="1966.7" width="1848.8" height="20.9" fill="url(#r3)"/>
<rect x="204.3" y="1946.5" width="1848.8" height="20.9" fill="url(#r4)"/>
<rect x="204.3" y="1926.2" width="1848.8" height="20.9" fill="url(#r5)"/>
<rect x="204.3" y="1905.9" width="1848.8" height="20.9" fill="url(#r6)"/>
<rect x="204.3" y="1885.6" width="1848.8" height="20.9" fill="url(#r7)"/>
<rect x="204.3" y="1865.4" width="1848.8" height="20.9" fill="url(#r8)"/>
<rect x="204.3" y="1845.1" width="1848.8" height="20.9" fill="url(#r9)"/>
<rect x="204.3" y="1824.8" width="1848.8" height="20.9" fill="url(#r10)"/>
<rect x="204.3" y="1804.5" width="1848.8" height="20.9" fill="url(#r11)"/>
<rect x="204.3" y="1784.3" width="1848.8" height="20.9" fill="url(#r12)"/>
<rect x="204.3" y="1764.0" width="1848.8" height="20.9" fill="url(#r13)"/>
<rect x="204.3" y="1743.7" width="1848.8" height="20.9" fill="url(#r14)"/>
<rect x="204.3" y="1723.4" width="1848.8" height="20.9" fill="url(#r15)"/>
<rect x="204.3" y="1703.2" width="1848.8" height="20.9" fill="url(#r16)"/>
<rect x="204.3" y="1682.9" width="1848.8" height="20.9" fill="url(#r17)"/>
<rect x="204.3" y="1662.6" width="1848.8" height="20.9" fill="url(#r18)"/>
<rect x="204.3" y="1642.3" width="1848.8" height="20.9" fill="url(#r19)"/>
<rect x="204.3" y="1622.1" width="1848.8" height="20.9" fill="url(#r20)"/>
<rect x="204.3" y="1601.8" width="1848.8" height="20.9" fill="url(#r21)"/>
<rect x="204.3" y="1581.5" width="1848.8" height="20.9" fill="url(#r22)"/>
<rect x="204.3" y="1561.2" width="1848.8" height="20.9" fill="url(#r23)"/>
<rect x="204.3" y="1541.0" width="1848.8" height="20.9" fill="url(#r24)"/>
<rect x="204.3" y="1520.7" width="1848.8" height="20.9" fill="url(#r25)"/>
<rect x="204.3" y="1500.4" width="1848.8" height="20.9" fill="url(#r26)"/>
<rect x="204.3" y="1480.1" width="1848.8" height="20.9" fill="url(#r27)"/>
<rect x="204.3" y="1459.9" width="1848.8" height="20.9" fill="url(#r28)"/>
<rect x="204.3" y="1439.6" width="1848.8" height="20.9" fill="url(#r29)"/>
<rect x="204.3" y="1419.3" width="1848.8" height="20.9" fill="url(#r30)"/>
<rect x="204.3" y="1399.0" width="1848.8" height="20.9" fill="url(#r31)"/>
<rect x="204.3" y="1378.8" width="1848.8" height="20.9" fill="url(#r32)"/>
<rect x="204.3" y="1358.5" width="1848.8" height="20.9" fill="url(#r33)"/>
<rect x="204.3" y="1338.2" width="1848.8" height="20.9" fill="url(#r34)"/>
<rect x="204.3" y="1317.9" width="1848.8" height="20.9" fill="url(#r35)"/>
<rect x="204.3" y="1297.7" width="1848.8" height="20.9" fill="url(#r36)"/>
<rect x="204.3" y="1277.4" width="1848.8" height="20.9" fill="url(#r37)"/>
<rect x="204.3" y="1257.1" width="1848.8" height="20.9" fill="url(#r38)"/>
<rect x="204.3" y="1236.8" width="1848.8" height="20.9" fill="url(#r39)"/>
<rect x="204.3" y="1176.6" width="1848.8" height="60.9" fill="url(#r40)"/>
</g></g>
<path d="M244.5 1228.0 H2011" stroke="#fff" stroke-opacity=".6" stroke-width="2" fill="none"/>
<path d="M241.5 1227.0 V2039.0" stroke="#262626" stroke-width="3" fill="none"/>
<path d="M241.5 1956.9h3.5M241.5 1855.5h3.5M241.5 1754.2h3.5M241.5 1652.8h3.5M241.5 1551.4h3.5M241.5 1450.0h3.5M241.5 1348.7h3.5M241.5 1247.3h3.5" stroke="#262626" stroke-width="2.3" fill="none"/>
</svg>
</body></html>
